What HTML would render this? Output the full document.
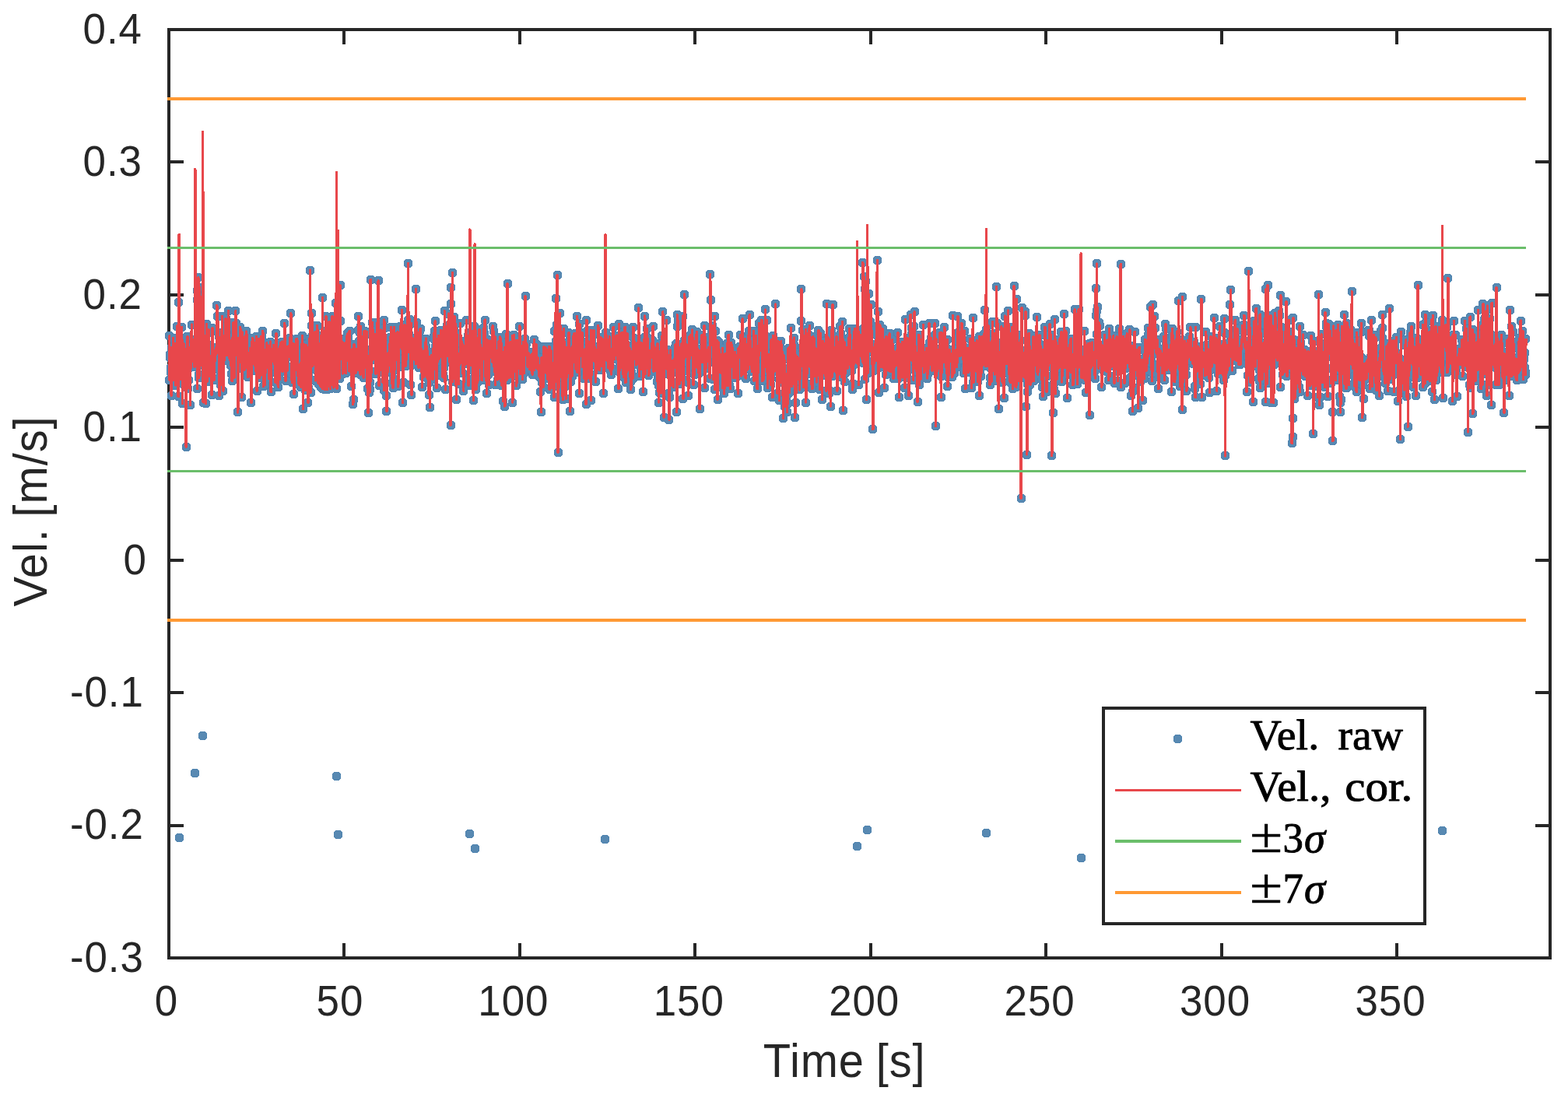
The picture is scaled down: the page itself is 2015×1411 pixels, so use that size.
<!DOCTYPE html>
<html lang="en"><head><meta charset="utf-8"><title>Velocity despiking</title>
<style>
html,body{margin:0;padding:0;background:#fff;}
body{width:2015px;height:1411px;overflow:hidden;}
svg{display:block;position:absolute;left:0;top:0;}
.t{font-family:"Liberation Sans",Arial,Helvetica,sans-serif;fill:#262626;}
.lg{font-family:"Liberation Serif","DejaVu Serif",serif;fill:#000;stroke:#000;stroke-width:0.9px;stroke-linejoin:round;}
</style></head>
<body>
<svg width="2015" height="1411" viewBox="0 0 2015 1411">
<rect x="0" y="0" width="2015" height="1411" fill="#fff"/>
<g fill="none" stroke="#262626" stroke-width="4" shape-rendering="crispEdges">
<rect x="217" y="38" width="1775" height="1193"/>
<path d="M217,1231v-19M217,38v19M442,1231v-19M442,38v19M668,1231v-19M668,38v19M893,1231v-19M893,38v19M1119,1231v-19M1119,38v19M1344,1231v-19M1344,38v19M1570,1231v-19M1570,38v19M1795,1231v-19M1795,38v19M217,1231h19M1992,1231h-19M217,1061h19M1992,1061h-19M217,890h19M1992,890h-19M217,720h19M1992,720h-19M217,549h19M1992,549h-19M217,379h19M1992,379h-19M217,208h19M1992,208h-19M217,38h19M1992,38h-19"/>
</g>
<g fill="none" shape-rendering="crispEdges">
<defs><path id="pd" d="M216,430h3v3h-3zM216,430h3v3h-3zM216,487h3v3h-3zM217,458h3v3h-3zM217,454h3v3h-3zM218,477h3v3h-3zM218,471h3v3h-3zM219,507h3v3h-3zM219,445h3v3h-3zM220,458h3v3h-3zM220,461h3v3h-3zM220,469h3v3h-3zM221,433h3v3h-3zM221,487h3v3h-3zM222,473h3v3h-3zM222,469h3v3h-3zM223,467h3v3h-3zM223,440h3v3h-3zM224,455h3v3h-3zM224,494h3v3h-3zM225,457h3v3h-3zM225,486h3v3h-3zM225,486h3v3h-3zM226,418h3v3h-3zM226,462h3v3h-3zM227,442h3v3h-3zM227,445h3v3h-3zM228,508h3v3h-3zM228,387h3v3h-3zM229,1075h3v3h-3zM229,473h3v3h-3zM229,451h3v3h-3zM230,486h3v3h-3zM230,460h3v3h-3zM231,461h3v3h-3zM231,443h3v3h-3zM232,434h3v3h-3zM232,419h3v3h-3zM233,477h3v3h-3zM233,517h3v3h-3zM234,487h3v3h-3zM234,492h3v3h-3zM234,442h3v3h-3zM235,440h3v3h-3zM235,445h3v3h-3zM236,466h3v3h-3zM236,464h3v3h-3zM237,475h3v3h-3zM237,470h3v3h-3zM238,573h3v3h-3zM238,466h3v3h-3zM238,458h3v3h-3zM239,470h3v3h-3zM239,431h3v3h-3zM240,498h3v3h-3zM240,456h3v3h-3zM241,487h3v3h-3zM241,472h3v3h-3zM242,452h3v3h-3zM242,451h3v3h-3zM243,445h3v3h-3zM243,519h3v3h-3zM243,448h3v3h-3zM244,457h3v3h-3zM244,455h3v3h-3zM245,416h3v3h-3zM245,447h3v3h-3zM246,443h3v3h-3zM246,460h3v3h-3zM247,435h3v3h-3zM247,438h3v3h-3zM248,464h3v3h-3zM248,465h3v3h-3zM248,470h3v3h-3zM249,462h3v3h-3zM249,992h3v3h-3zM250,455h3v3h-3zM250,436h3v3h-3zM251,436h3v3h-3zM251,449h3v3h-3zM252,384h3v3h-3zM252,498h3v3h-3zM252,372h3v3h-3zM253,459h3v3h-3zM253,355h3v3h-3zM254,480h3v3h-3zM254,484h3v3h-3zM255,454h3v3h-3zM255,368h3v3h-3zM256,440h3v3h-3zM256,380h3v3h-3zM257,459h3v3h-3zM257,434h3v3h-3zM257,459h3v3h-3zM258,468h3v3h-3zM258,453h3v3h-3zM259,442h3v3h-3zM259,944h3v3h-3zM260,516h3v3h-3zM260,448h3v3h-3zM261,430h3v3h-3zM261,461h3v3h-3zM261,463h3v3h-3zM262,482h3v3h-3zM262,432h3v3h-3zM263,517h3v3h-3zM263,473h3v3h-3zM264,485h3v3h-3zM264,415h3v3h-3zM265,468h3v3h-3zM265,489h3v3h-3zM266,455h3v3h-3zM266,426h3v3h-3zM266,422h3v3h-3zM267,442h3v3h-3zM267,482h3v3h-3zM268,461h3v3h-3zM268,466h3v3h-3zM269,466h3v3h-3zM269,466h3v3h-3zM270,456h3v3h-3zM270,479h3v3h-3zM271,506h3v3h-3zM271,451h3v3h-3zM271,420h3v3h-3zM272,458h3v3h-3zM272,470h3v3h-3zM273,473h3v3h-3zM273,460h3v3h-3zM274,487h3v3h-3zM274,468h3v3h-3zM275,449h3v3h-3zM275,462h3v3h-3zM275,451h3v3h-3zM276,452h3v3h-3zM276,445h3v3h-3zM277,446h3v3h-3zM277,391h3v3h-3zM278,405h3v3h-3zM278,405h3v3h-3zM279,426h3v3h-3zM279,446h3v3h-3zM280,431h3v3h-3zM280,484h3v3h-3zM280,507h3v3h-3zM281,475h3v3h-3zM281,443h3v3h-3zM282,479h3v3h-3zM282,493h3v3h-3zM283,463h3v3h-3zM283,433h3v3h-3zM284,428h3v3h-3zM284,405h3v3h-3zM284,442h3v3h-3zM285,454h3v3h-3zM285,501h3v3h-3zM286,452h3v3h-3zM286,456h3v3h-3zM287,462h3v3h-3zM287,432h3v3h-3zM288,456h3v3h-3zM288,423h3v3h-3zM289,408h3v3h-3zM289,418h3v3h-3zM289,436h3v3h-3zM290,424h3v3h-3zM290,418h3v3h-3zM291,455h3v3h-3zM291,431h3v3h-3zM292,435h3v3h-3zM292,398h3v3h-3zM293,419h3v3h-3zM293,432h3v3h-3zM293,459h3v3h-3zM294,440h3v3h-3zM294,452h3v3h-3zM295,468h3v3h-3zM295,437h3v3h-3zM296,457h3v3h-3zM296,479h3v3h-3zM297,488h3v3h-3zM297,433h3v3h-3zM298,439h3v3h-3zM298,434h3v3h-3zM298,413h3v3h-3zM299,480h3v3h-3zM299,484h3v3h-3zM300,416h3v3h-3zM300,427h3v3h-3zM301,415h3v3h-3zM301,398h3v3h-3zM302,414h3v3h-3zM302,454h3v3h-3zM303,455h3v3h-3zM303,437h3v3h-3zM303,438h3v3h-3zM304,433h3v3h-3zM304,528h3v3h-3zM305,463h3v3h-3zM305,472h3v3h-3zM306,444h3v3h-3zM306,455h3v3h-3zM307,440h3v3h-3zM307,419h3v3h-3zM307,422h3v3h-3zM308,442h3v3h-3zM308,425h3v3h-3zM309,431h3v3h-3zM309,509h3v3h-3zM310,425h3v3h-3zM310,432h3v3h-3zM311,432h3v3h-3zM311,443h3v3h-3zM312,453h3v3h-3zM312,459h3v3h-3zM312,474h3v3h-3zM313,452h3v3h-3zM313,453h3v3h-3zM314,441h3v3h-3zM314,430h3v3h-3zM315,471h3v3h-3zM315,424h3v3h-3zM316,433h3v3h-3zM316,450h3v3h-3zM316,457h3v3h-3zM317,460h3v3h-3zM317,483h3v3h-3zM318,467h3v3h-3zM318,463h3v3h-3zM319,452h3v3h-3zM319,455h3v3h-3zM320,457h3v3h-3zM320,446h3v3h-3zM321,448h3v3h-3zM321,457h3v3h-3zM321,516h3v3h-3zM322,438h3v3h-3zM322,459h3v3h-3zM323,444h3v3h-3zM323,433h3v3h-3zM324,456h3v3h-3zM324,442h3v3h-3zM325,458h3v3h-3zM325,466h3v3h-3zM326,461h3v3h-3zM326,468h3v3h-3zM326,442h3v3h-3zM327,471h3v3h-3zM327,475h3v3h-3zM328,431h3v3h-3zM328,439h3v3h-3zM329,501h3v3h-3zM329,451h3v3h-3zM330,439h3v3h-3zM330,457h3v3h-3zM330,464h3v3h-3zM331,434h3v3h-3zM331,477h3v3h-3zM332,484h3v3h-3zM332,467h3v3h-3zM333,450h3v3h-3zM333,478h3v3h-3zM334,481h3v3h-3zM334,465h3v3h-3zM335,431h3v3h-3zM335,443h3v3h-3zM335,459h3v3h-3zM336,460h3v3h-3zM336,424h3v3h-3zM337,470h3v3h-3zM337,495h3v3h-3zM338,476h3v3h-3zM338,468h3v3h-3zM339,484h3v3h-3zM339,493h3v3h-3zM339,469h3v3h-3zM340,477h3v3h-3zM340,447h3v3h-3zM341,460h3v3h-3zM341,439h3v3h-3zM342,471h3v3h-3zM342,448h3v3h-3zM343,447h3v3h-3zM343,443h3v3h-3zM344,457h3v3h-3zM344,485h3v3h-3zM344,460h3v3h-3zM345,448h3v3h-3zM345,459h3v3h-3zM346,438h3v3h-3zM346,469h3v3h-3zM347,502h3v3h-3zM347,461h3v3h-3zM348,463h3v3h-3zM348,451h3v3h-3zM349,447h3v3h-3zM349,463h3v3h-3zM349,458h3v3h-3zM350,448h3v3h-3zM350,442h3v3h-3zM351,453h3v3h-3zM351,453h3v3h-3zM352,467h3v3h-3zM352,463h3v3h-3zM353,490h3v3h-3zM353,469h3v3h-3zM353,427h3v3h-3zM354,449h3v3h-3zM354,478h3v3h-3zM355,492h3v3h-3zM355,466h3v3h-3zM356,457h3v3h-3zM356,496h3v3h-3zM357,448h3v3h-3zM357,447h3v3h-3zM358,458h3v3h-3zM358,486h3v3h-3zM358,448h3v3h-3zM359,439h3v3h-3zM359,452h3v3h-3zM360,462h3v3h-3zM360,465h3v3h-3zM361,452h3v3h-3zM361,438h3v3h-3zM362,476h3v3h-3zM362,443h3v3h-3zM362,451h3v3h-3zM363,452h3v3h-3zM363,451h3v3h-3zM364,453h3v3h-3zM364,414h3v3h-3zM365,461h3v3h-3zM365,471h3v3h-3zM366,488h3v3h-3zM366,474h3v3h-3zM367,457h3v3h-3zM367,469h3v3h-3zM367,475h3v3h-3zM368,457h3v3h-3zM368,444h3v3h-3zM369,447h3v3h-3zM369,444h3v3h-3zM370,457h3v3h-3zM370,455h3v3h-3zM371,445h3v3h-3zM371,433h3v3h-3zM371,437h3v3h-3zM372,448h3v3h-3zM372,401h3v3h-3zM373,478h3v3h-3zM373,479h3v3h-3zM374,489h3v3h-3zM374,490h3v3h-3zM375,470h3v3h-3zM375,470h3v3h-3zM376,440h3v3h-3zM376,449h3v3h-3zM376,505h3v3h-3zM377,471h3v3h-3zM377,466h3v3h-3zM378,459h3v3h-3zM378,474h3v3h-3zM379,452h3v3h-3zM379,446h3v3h-3zM380,434h3v3h-3zM380,439h3v3h-3zM381,456h3v3h-3zM381,436h3v3h-3zM381,481h3v3h-3zM382,469h3v3h-3zM382,490h3v3h-3zM383,493h3v3h-3zM383,491h3v3h-3zM384,470h3v3h-3zM384,478h3v3h-3zM385,467h3v3h-3zM385,465h3v3h-3zM385,496h3v3h-3zM386,490h3v3h-3zM386,477h3v3h-3zM387,430h3v3h-3zM387,455h3v3h-3zM388,451h3v3h-3zM388,524h3v3h-3zM389,448h3v3h-3zM389,454h3v3h-3zM390,441h3v3h-3zM390,481h3v3h-3zM390,472h3v3h-3zM391,500h3v3h-3zM391,490h3v3h-3zM392,475h3v3h-3zM392,442h3v3h-3zM393,450h3v3h-3zM393,463h3v3h-3zM394,465h3v3h-3zM394,462h3v3h-3zM394,516h3v3h-3zM395,497h3v3h-3zM395,477h3v3h-3zM396,485h3v3h-3zM396,434h3v3h-3zM397,452h3v3h-3zM397,346h3v3h-3zM398,503h3v3h-3zM398,450h3v3h-3zM399,451h3v3h-3zM399,417h3v3h-3zM399,401h3v3h-3zM400,469h3v3h-3zM400,430h3v3h-3zM401,441h3v3h-3zM401,438h3v3h-3zM402,446h3v3h-3zM402,430h3v3h-3zM403,445h3v3h-3zM403,467h3v3h-3zM404,425h3v3h-3zM404,488h3v3h-3zM404,487h3v3h-3zM405,474h3v3h-3zM405,459h3v3h-3zM406,417h3v3h-3zM406,418h3v3h-3zM407,432h3v3h-3zM407,448h3v3h-3zM408,492h3v3h-3zM408,443h3v3h-3zM408,440h3v3h-3zM409,440h3v3h-3zM409,447h3v3h-3zM410,459h3v3h-3zM410,440h3v3h-3zM411,496h3v3h-3zM411,430h3v3h-3zM412,435h3v3h-3zM412,430h3v3h-3zM413,449h3v3h-3zM413,381h3v3h-3zM413,498h3v3h-3zM414,463h3v3h-3zM414,458h3v3h-3zM415,443h3v3h-3zM415,439h3v3h-3zM416,499h3v3h-3zM416,424h3v3h-3zM417,435h3v3h-3zM417,455h3v3h-3zM417,405h3v3h-3zM418,438h3v3h-3zM418,442h3v3h-3zM419,448h3v3h-3zM419,499h3v3h-3zM420,452h3v3h-3zM420,438h3v3h-3zM421,420h3v3h-3zM421,483h3v3h-3zM422,412h3v3h-3zM422,414h3v3h-3zM422,419h3v3h-3zM423,498h3v3h-3zM423,445h3v3h-3zM424,417h3v3h-3zM424,413h3v3h-3zM425,492h3v3h-3zM425,421h3v3h-3zM426,405h3v3h-3zM426,416h3v3h-3zM427,443h3v3h-3zM427,435h3v3h-3zM427,496h3v3h-3zM428,438h3v3h-3zM428,431h3v3h-3zM429,459h3v3h-3zM429,423h3v3h-3zM430,388h3v3h-3zM430,443h3v3h-3zM431,442h3v3h-3zM431,996h3v3h-3zM431,498h3v3h-3zM432,457h3v3h-3zM432,452h3v3h-3zM433,1071h3v3h-3zM433,454h3v3h-3zM434,458h3v3h-3zM434,452h3v3h-3zM435,485h3v3h-3zM435,435h3v3h-3zM436,365h3v3h-3zM436,411h3v3h-3zM436,434h3v3h-3zM437,444h3v3h-3zM437,458h3v3h-3zM438,445h3v3h-3zM438,460h3v3h-3zM439,438h3v3h-3zM439,479h3v3h-3zM440,469h3v3h-3zM440,446h3v3h-3zM440,451h3v3h-3zM441,441h3v3h-3zM441,445h3v3h-3zM442,440h3v3h-3zM442,447h3v3h-3zM443,478h3v3h-3zM443,462h3v3h-3zM444,450h3v3h-3zM444,455h3v3h-3zM445,430h3v3h-3zM445,444h3v3h-3zM445,427h3v3h-3zM446,433h3v3h-3zM446,449h3v3h-3zM447,466h3v3h-3zM447,475h3v3h-3zM448,424h3v3h-3zM448,468h3v3h-3zM449,476h3v3h-3zM449,471h3v3h-3zM449,460h3v3h-3zM450,452h3v3h-3zM450,495h3v3h-3zM451,476h3v3h-3zM451,454h3v3h-3zM452,447h3v3h-3zM452,518h3v3h-3zM453,512h3v3h-3zM453,477h3v3h-3zM454,441h3v3h-3zM454,473h3v3h-3zM454,453h3v3h-3zM455,460h3v3h-3zM455,478h3v3h-3zM456,477h3v3h-3zM456,463h3v3h-3zM457,452h3v3h-3zM457,447h3v3h-3zM458,473h3v3h-3zM458,465h3v3h-3zM459,474h3v3h-3zM459,423h3v3h-3zM459,405h3v3h-3zM460,439h3v3h-3zM460,437h3v3h-3zM461,426h3v3h-3zM461,445h3v3h-3zM462,480h3v3h-3zM462,418h3v3h-3zM463,446h3v3h-3zM463,453h3v3h-3zM463,449h3v3h-3zM464,455h3v3h-3zM464,431h3v3h-3zM465,466h3v3h-3zM465,466h3v3h-3zM466,484h3v3h-3zM466,442h3v3h-3zM467,424h3v3h-3zM467,450h3v3h-3zM468,471h3v3h-3zM468,459h3v3h-3zM468,460h3v3h-3zM469,457h3v3h-3zM469,425h3v3h-3zM470,425h3v3h-3zM470,459h3v3h-3zM471,498h3v3h-3zM471,498h3v3h-3zM472,529h3v3h-3zM472,478h3v3h-3zM472,456h3v3h-3zM473,475h3v3h-3zM473,503h3v3h-3zM474,490h3v3h-3zM474,499h3v3h-3zM475,358h3v3h-3zM475,479h3v3h-3zM476,476h3v3h-3zM476,452h3v3h-3zM477,430h3v3h-3zM477,413h3v3h-3zM477,446h3v3h-3zM478,423h3v3h-3zM478,461h3v3h-3zM479,453h3v3h-3zM479,449h3v3h-3zM480,428h3v3h-3zM480,451h3v3h-3zM481,435h3v3h-3zM481,477h3v3h-3zM482,479h3v3h-3zM482,432h3v3h-3zM482,455h3v3h-3zM483,414h3v3h-3zM483,453h3v3h-3zM484,413h3v3h-3zM484,416h3v3h-3zM485,359h3v3h-3zM485,468h3v3h-3zM486,494h3v3h-3zM486,425h3v3h-3zM486,457h3v3h-3zM487,440h3v3h-3zM487,449h3v3h-3zM488,451h3v3h-3zM488,423h3v3h-3zM489,424h3v3h-3zM489,441h3v3h-3zM490,475h3v3h-3zM490,460h3v3h-3zM491,490h3v3h-3zM491,477h3v3h-3zM491,476h3v3h-3zM492,500h3v3h-3zM492,410h3v3h-3zM493,442h3v3h-3zM493,420h3v3h-3zM494,450h3v3h-3zM494,441h3v3h-3zM495,465h3v3h-3zM495,507h3v3h-3zM495,527h3v3h-3zM496,477h3v3h-3zM496,477h3v3h-3zM497,471h3v3h-3zM497,454h3v3h-3zM498,469h3v3h-3zM498,466h3v3h-3zM499,451h3v3h-3zM499,466h3v3h-3zM500,446h3v3h-3zM500,432h3v3h-3zM500,460h3v3h-3zM501,436h3v3h-3zM501,419h3v3h-3zM502,491h3v3h-3zM502,470h3v3h-3zM503,450h3v3h-3zM503,448h3v3h-3zM504,497h3v3h-3zM504,457h3v3h-3zM504,485h3v3h-3zM505,419h3v3h-3zM505,467h3v3h-3zM506,474h3v3h-3zM506,435h3v3h-3zM507,432h3v3h-3zM507,434h3v3h-3zM508,449h3v3h-3zM508,427h3v3h-3zM509,436h3v3h-3zM509,457h3v3h-3zM509,425h3v3h-3zM510,495h3v3h-3zM510,492h3v3h-3zM511,470h3v3h-3zM511,439h3v3h-3zM512,439h3v3h-3zM512,439h3v3h-3zM513,429h3v3h-3zM513,418h3v3h-3zM514,435h3v3h-3zM514,445h3v3h-3zM514,426h3v3h-3zM515,397h3v3h-3zM515,444h3v3h-3zM516,449h3v3h-3zM516,516h3v3h-3zM517,490h3v3h-3zM517,460h3v3h-3zM518,469h3v3h-3zM518,447h3v3h-3zM518,416h3v3h-3zM519,452h3v3h-3zM519,460h3v3h-3zM520,469h3v3h-3zM520,452h3v3h-3zM521,460h3v3h-3zM521,459h3v3h-3zM522,416h3v3h-3zM522,430h3v3h-3zM523,410h3v3h-3zM523,337h3v3h-3zM523,417h3v3h-3zM524,428h3v3h-3zM524,451h3v3h-3zM525,409h3v3h-3zM525,416h3v3h-3zM526,441h3v3h-3zM526,493h3v3h-3zM527,414h3v3h-3zM527,468h3v3h-3zM527,506h3v3h-3zM528,446h3v3h-3zM528,433h3v3h-3zM529,448h3v3h-3zM529,434h3v3h-3zM530,434h3v3h-3zM530,441h3v3h-3zM531,458h3v3h-3zM531,459h3v3h-3zM532,461h3v3h-3zM532,453h3v3h-3zM532,445h3v3h-3zM533,370h3v3h-3zM533,466h3v3h-3zM534,413h3v3h-3zM534,443h3v3h-3zM535,438h3v3h-3zM535,445h3v3h-3zM536,431h3v3h-3zM536,459h3v3h-3zM537,471h3v3h-3zM537,433h3v3h-3zM537,428h3v3h-3zM538,422h3v3h-3zM538,424h3v3h-3zM539,421h3v3h-3zM539,441h3v3h-3zM540,459h3v3h-3zM540,447h3v3h-3zM541,470h3v3h-3zM541,496h3v3h-3zM541,471h3v3h-3zM542,461h3v3h-3zM542,463h3v3h-3zM543,449h3v3h-3zM543,483h3v3h-3zM544,480h3v3h-3zM544,474h3v3h-3zM545,464h3v3h-3zM545,439h3v3h-3zM546,444h3v3h-3zM546,434h3v3h-3zM546,445h3v3h-3zM547,483h3v3h-3zM547,463h3v3h-3zM548,485h3v3h-3zM548,450h3v3h-3zM549,472h3v3h-3zM549,461h3v3h-3zM550,506h3v3h-3zM550,460h3v3h-3zM550,490h3v3h-3zM551,522h3v3h-3zM551,475h3v3h-3zM552,460h3v3h-3zM552,475h3v3h-3zM553,455h3v3h-3zM553,459h3v3h-3zM554,470h3v3h-3zM554,479h3v3h-3zM555,486h3v3h-3zM555,462h3v3h-3zM555,474h3v3h-3zM556,431h3v3h-3zM556,434h3v3h-3zM557,424h3v3h-3zM557,457h3v3h-3zM558,411h3v3h-3zM558,444h3v3h-3zM559,449h3v3h-3zM559,457h3v3h-3zM560,497h3v3h-3zM560,481h3v3h-3zM560,461h3v3h-3zM561,463h3v3h-3zM561,445h3v3h-3zM562,430h3v3h-3zM562,433h3v3h-3zM563,445h3v3h-3zM563,460h3v3h-3zM564,449h3v3h-3zM564,447h3v3h-3zM564,429h3v3h-3zM565,439h3v3h-3zM565,423h3v3h-3zM566,456h3v3h-3zM566,458h3v3h-3zM567,450h3v3h-3zM567,472h3v3h-3zM568,483h3v3h-3zM568,480h3v3h-3zM569,484h3v3h-3zM569,471h3v3h-3zM569,451h3v3h-3zM570,398h3v3h-3zM570,449h3v3h-3zM571,499h3v3h-3zM571,444h3v3h-3zM572,442h3v3h-3zM572,451h3v3h-3zM573,432h3v3h-3zM573,456h3v3h-3zM573,417h3v3h-3zM574,442h3v3h-3zM574,446h3v3h-3zM575,402h3v3h-3zM575,457h3v3h-3zM576,426h3v3h-3zM576,445h3v3h-3zM577,464h3v3h-3zM577,455h3v3h-3zM578,545h3v3h-3zM578,368h3v3h-3zM578,389h3v3h-3zM579,430h3v3h-3zM579,438h3v3h-3zM580,349h3v3h-3zM580,489h3v3h-3zM581,478h3v3h-3zM581,462h3v3h-3zM582,464h3v3h-3zM582,457h3v3h-3zM582,406h3v3h-3zM583,425h3v3h-3zM583,461h3v3h-3zM584,433h3v3h-3zM584,415h3v3h-3zM585,512h3v3h-3zM585,431h3v3h-3zM586,429h3v3h-3zM586,476h3v3h-3zM587,462h3v3h-3zM587,469h3v3h-3zM587,453h3v3h-3zM588,492h3v3h-3zM588,463h3v3h-3zM589,454h3v3h-3zM589,467h3v3h-3zM590,452h3v3h-3zM590,414h3v3h-3zM591,465h3v3h-3zM591,437h3v3h-3zM592,438h3v3h-3zM592,449h3v3h-3zM592,440h3v3h-3zM593,478h3v3h-3zM593,460h3v3h-3zM594,442h3v3h-3zM594,501h3v3h-3zM595,458h3v3h-3zM595,465h3v3h-3zM596,459h3v3h-3zM596,462h3v3h-3zM596,464h3v3h-3zM597,445h3v3h-3zM597,466h3v3h-3zM598,410h3v3h-3zM598,443h3v3h-3zM599,461h3v3h-3zM599,458h3v3h-3zM600,441h3v3h-3zM600,430h3v3h-3zM601,494h3v3h-3zM601,486h3v3h-3zM601,460h3v3h-3zM602,458h3v3h-3zM602,1070h3v3h-3zM603,468h3v3h-3zM603,433h3v3h-3zM604,460h3v3h-3zM604,450h3v3h-3zM605,460h3v3h-3zM605,460h3v3h-3zM605,424h3v3h-3zM606,433h3v3h-3zM606,474h3v3h-3zM607,513h3v3h-3zM607,475h3v3h-3zM608,464h3v3h-3zM608,418h3v3h-3zM609,1089h3v3h-3zM609,447h3v3h-3zM610,423h3v3h-3zM610,435h3v3h-3zM610,499h3v3h-3zM611,444h3v3h-3zM611,433h3v3h-3zM612,476h3v3h-3zM612,490h3v3h-3zM613,464h3v3h-3zM613,476h3v3h-3zM614,449h3v3h-3zM614,460h3v3h-3zM615,422h3v3h-3zM615,437h3v3h-3zM615,441h3v3h-3zM616,471h3v3h-3zM616,460h3v3h-3zM617,463h3v3h-3zM617,459h3v3h-3zM618,487h3v3h-3zM618,462h3v3h-3zM619,446h3v3h-3zM619,457h3v3h-3zM619,460h3v3h-3zM620,434h3v3h-3zM620,420h3v3h-3zM621,446h3v3h-3zM621,427h3v3h-3zM622,410h3v3h-3zM622,457h3v3h-3zM623,484h3v3h-3zM623,474h3v3h-3zM624,478h3v3h-3zM624,504h3v3h-3zM624,456h3v3h-3zM625,435h3v3h-3zM625,459h3v3h-3zM626,480h3v3h-3zM626,477h3v3h-3zM627,493h3v3h-3zM627,463h3v3h-3zM628,445h3v3h-3zM628,436h3v3h-3zM628,458h3v3h-3zM629,456h3v3h-3zM629,445h3v3h-3zM630,445h3v3h-3zM630,446h3v3h-3zM631,450h3v3h-3zM631,464h3v3h-3zM632,418h3v3h-3zM632,439h3v3h-3zM633,424h3v3h-3zM633,469h3v3h-3zM633,459h3v3h-3zM634,476h3v3h-3zM634,449h3v3h-3zM635,431h3v3h-3zM635,493h3v3h-3zM636,457h3v3h-3zM636,449h3v3h-3zM637,474h3v3h-3zM637,457h3v3h-3zM638,475h3v3h-3zM638,476h3v3h-3zM638,487h3v3h-3zM639,471h3v3h-3zM639,438h3v3h-3zM640,437h3v3h-3zM640,452h3v3h-3zM641,444h3v3h-3zM641,432h3v3h-3zM642,433h3v3h-3zM642,488h3v3h-3zM642,439h3v3h-3zM643,472h3v3h-3zM643,494h3v3h-3zM644,478h3v3h-3zM644,484h3v3h-3zM645,452h3v3h-3zM645,514h3v3h-3zM646,462h3v3h-3zM646,485h3v3h-3zM647,471h3v3h-3zM647,445h3v3h-3zM647,521h3v3h-3zM648,455h3v3h-3zM648,459h3v3h-3zM649,463h3v3h-3zM649,428h3v3h-3zM650,461h3v3h-3zM650,487h3v3h-3zM651,363h3v3h-3zM651,466h3v3h-3zM651,438h3v3h-3zM652,454h3v3h-3zM652,484h3v3h-3zM653,461h3v3h-3zM653,447h3v3h-3zM654,451h3v3h-3zM654,438h3v3h-3zM655,455h3v3h-3zM655,461h3v3h-3zM656,483h3v3h-3zM656,452h3v3h-3zM656,455h3v3h-3zM657,430h3v3h-3zM657,516h3v3h-3zM658,469h3v3h-3zM658,473h3v3h-3zM659,471h3v3h-3zM659,429h3v3h-3zM660,441h3v3h-3zM660,476h3v3h-3zM660,475h3v3h-3zM661,474h3v3h-3zM661,443h3v3h-3zM662,467h3v3h-3zM662,494h3v3h-3zM663,436h3v3h-3zM663,464h3v3h-3zM664,472h3v3h-3zM664,451h3v3h-3zM665,448h3v3h-3zM665,450h3v3h-3zM665,462h3v3h-3zM666,466h3v3h-3zM666,418h3v3h-3zM667,460h3v3h-3zM667,479h3v3h-3zM668,472h3v3h-3zM668,463h3v3h-3zM669,465h3v3h-3zM669,470h3v3h-3zM670,452h3v3h-3zM670,486h3v3h-3zM670,448h3v3h-3zM671,438h3v3h-3zM671,458h3v3h-3zM672,478h3v3h-3zM672,444h3v3h-3zM673,443h3v3h-3zM673,434h3v3h-3zM674,379h3v3h-3zM674,443h3v3h-3zM674,440h3v3h-3zM675,455h3v3h-3zM675,440h3v3h-3zM676,450h3v3h-3zM676,450h3v3h-3zM677,470h3v3h-3zM677,467h3v3h-3zM678,452h3v3h-3zM678,464h3v3h-3zM679,463h3v3h-3zM679,473h3v3h-3zM679,456h3v3h-3zM680,460h3v3h-3zM680,457h3v3h-3zM681,455h3v3h-3zM681,474h3v3h-3zM682,467h3v3h-3zM682,472h3v3h-3zM683,480h3v3h-3zM683,465h3v3h-3zM683,454h3v3h-3zM684,451h3v3h-3zM684,456h3v3h-3zM685,435h3v3h-3zM685,474h3v3h-3zM686,455h3v3h-3zM686,462h3v3h-3zM687,471h3v3h-3zM687,450h3v3h-3zM688,441h3v3h-3zM688,458h3v3h-3zM688,460h3v3h-3zM689,472h3v3h-3zM689,458h3v3h-3zM690,461h3v3h-3zM690,473h3v3h-3zM691,468h3v3h-3zM691,474h3v3h-3zM692,483h3v3h-3zM692,478h3v3h-3zM693,477h3v3h-3zM693,482h3v3h-3zM693,502h3v3h-3zM694,528h3v3h-3zM694,458h3v3h-3zM695,459h3v3h-3zM695,490h3v3h-3zM696,478h3v3h-3zM696,478h3v3h-3zM697,496h3v3h-3zM697,448h3v3h-3zM697,444h3v3h-3zM698,478h3v3h-3zM698,467h3v3h-3zM699,472h3v3h-3zM699,477h3v3h-3zM700,445h3v3h-3zM700,450h3v3h-3zM701,462h3v3h-3zM701,455h3v3h-3zM702,475h3v3h-3zM702,485h3v3h-3zM702,458h3v3h-3zM703,448h3v3h-3zM703,462h3v3h-3zM704,444h3v3h-3zM704,452h3v3h-3zM705,499h3v3h-3zM705,445h3v3h-3zM706,450h3v3h-3zM706,459h3v3h-3zM706,455h3v3h-3zM707,450h3v3h-3zM707,481h3v3h-3zM708,497h3v3h-3zM708,495h3v3h-3zM709,484h3v3h-3zM709,478h3v3h-3zM710,493h3v3h-3zM710,465h3v3h-3zM711,509h3v3h-3zM711,424h3v3h-3zM711,474h3v3h-3zM712,476h3v3h-3zM712,489h3v3h-3zM713,382h3v3h-3zM713,437h3v3h-3zM714,416h3v3h-3zM714,478h3v3h-3zM715,352h3v3h-3zM715,454h3v3h-3zM716,580h3v3h-3zM716,480h3v3h-3zM716,495h3v3h-3zM717,496h3v3h-3zM717,480h3v3h-3zM718,445h3v3h-3zM718,401h3v3h-3zM719,468h3v3h-3zM719,464h3v3h-3zM720,479h3v3h-3zM720,483h3v3h-3zM720,426h3v3h-3zM721,499h3v3h-3zM721,494h3v3h-3zM722,512h3v3h-3zM722,508h3v3h-3zM723,494h3v3h-3zM723,421h3v3h-3zM724,477h3v3h-3zM724,476h3v3h-3zM725,478h3v3h-3zM725,450h3v3h-3zM725,495h3v3h-3zM726,511h3v3h-3zM726,486h3v3h-3zM727,445h3v3h-3zM727,465h3v3h-3zM728,479h3v3h-3zM728,459h3v3h-3zM729,475h3v3h-3zM729,438h3v3h-3zM729,426h3v3h-3zM730,428h3v3h-3zM730,449h3v3h-3zM731,477h3v3h-3zM731,527h3v3h-3zM732,477h3v3h-3zM732,489h3v3h-3zM733,459h3v3h-3zM733,465h3v3h-3zM734,482h3v3h-3zM734,477h3v3h-3zM734,452h3v3h-3zM735,438h3v3h-3zM735,439h3v3h-3zM736,428h3v3h-3zM736,449h3v3h-3zM737,430h3v3h-3zM737,431h3v3h-3zM738,466h3v3h-3zM738,427h3v3h-3zM738,473h3v3h-3zM739,445h3v3h-3zM739,446h3v3h-3zM740,442h3v3h-3zM740,405h3v3h-3zM741,477h3v3h-3zM741,469h3v3h-3zM742,433h3v3h-3zM742,438h3v3h-3zM743,455h3v3h-3zM743,504h3v3h-3zM743,415h3v3h-3zM744,429h3v3h-3zM744,433h3v3h-3zM745,446h3v3h-3zM745,441h3v3h-3zM746,447h3v3h-3zM746,456h3v3h-3zM747,426h3v3h-3zM747,470h3v3h-3zM748,450h3v3h-3zM748,462h3v3h-3zM748,457h3v3h-3zM749,461h3v3h-3zM749,485h3v3h-3zM750,453h3v3h-3zM750,471h3v3h-3zM751,447h3v3h-3zM751,478h3v3h-3zM752,518h3v3h-3zM752,451h3v3h-3zM752,410h3v3h-3zM753,424h3v3h-3zM753,485h3v3h-3zM754,471h3v3h-3zM754,437h3v3h-3zM755,465h3v3h-3zM755,438h3v3h-3zM756,449h3v3h-3zM756,449h3v3h-3zM757,462h3v3h-3zM757,459h3v3h-3zM757,446h3v3h-3zM758,513h3v3h-3zM758,423h3v3h-3zM759,480h3v3h-3zM759,436h3v3h-3zM760,430h3v3h-3zM760,442h3v3h-3zM761,426h3v3h-3zM761,447h3v3h-3zM761,423h3v3h-3zM762,453h3v3h-3zM762,463h3v3h-3zM763,453h3v3h-3zM763,445h3v3h-3zM764,464h3v3h-3zM764,489h3v3h-3zM765,456h3v3h-3zM765,456h3v3h-3zM766,470h3v3h-3zM766,470h3v3h-3zM766,453h3v3h-3zM767,472h3v3h-3zM767,417h3v3h-3zM768,463h3v3h-3zM768,472h3v3h-3zM769,474h3v3h-3zM769,448h3v3h-3zM770,452h3v3h-3zM770,461h3v3h-3zM771,432h3v3h-3zM771,469h3v3h-3zM771,454h3v3h-3zM772,433h3v3h-3zM772,445h3v3h-3zM773,440h3v3h-3zM773,435h3v3h-3zM774,463h3v3h-3zM774,504h3v3h-3zM775,467h3v3h-3zM775,461h3v3h-3zM775,452h3v3h-3zM776,432h3v3h-3zM776,1077h3v3h-3zM777,447h3v3h-3zM777,426h3v3h-3zM778,462h3v3h-3zM778,457h3v3h-3zM779,457h3v3h-3zM779,449h3v3h-3zM780,457h3v3h-3zM780,471h3v3h-3zM780,460h3v3h-3zM781,435h3v3h-3zM781,445h3v3h-3zM782,431h3v3h-3zM782,448h3v3h-3zM783,475h3v3h-3zM783,470h3v3h-3zM784,459h3v3h-3zM784,480h3v3h-3zM784,471h3v3h-3zM785,447h3v3h-3zM785,472h3v3h-3zM786,445h3v3h-3zM786,439h3v3h-3zM787,419h3v3h-3zM787,450h3v3h-3zM788,460h3v3h-3zM788,454h3v3h-3zM789,439h3v3h-3zM789,444h3v3h-3zM789,431h3v3h-3zM790,453h3v3h-3zM790,444h3v3h-3zM791,430h3v3h-3zM791,455h3v3h-3zM792,456h3v3h-3zM792,460h3v3h-3zM793,439h3v3h-3zM793,461h3v3h-3zM793,498h3v3h-3zM794,415h3v3h-3zM794,476h3v3h-3zM795,467h3v3h-3zM795,473h3v3h-3zM796,448h3v3h-3zM796,447h3v3h-3zM797,460h3v3h-3zM797,443h3v3h-3zM798,426h3v3h-3zM798,442h3v3h-3zM798,434h3v3h-3zM799,446h3v3h-3zM799,469h3v3h-3zM800,483h3v3h-3zM800,480h3v3h-3zM801,460h3v3h-3zM801,460h3v3h-3zM802,419h3v3h-3zM802,474h3v3h-3zM803,490h3v3h-3zM803,480h3v3h-3zM803,471h3v3h-3zM804,476h3v3h-3zM804,442h3v3h-3zM805,427h3v3h-3zM805,430h3v3h-3zM806,463h3v3h-3zM806,461h3v3h-3zM807,459h3v3h-3zM807,474h3v3h-3zM807,446h3v3h-3zM808,451h3v3h-3zM808,462h3v3h-3zM809,489h3v3h-3zM809,499h3v3h-3zM810,477h3v3h-3zM810,450h3v3h-3zM811,465h3v3h-3zM811,461h3v3h-3zM812,485h3v3h-3zM812,464h3v3h-3zM812,419h3v3h-3zM813,433h3v3h-3zM813,454h3v3h-3zM814,438h3v3h-3zM814,444h3v3h-3zM815,460h3v3h-3zM815,455h3v3h-3zM816,445h3v3h-3zM816,467h3v3h-3zM816,459h3v3h-3zM817,448h3v3h-3zM817,439h3v3h-3zM818,452h3v3h-3zM818,465h3v3h-3zM819,463h3v3h-3zM819,394h3v3h-3zM820,460h3v3h-3zM820,482h3v3h-3zM821,451h3v3h-3zM821,439h3v3h-3zM821,453h3v3h-3zM822,454h3v3h-3zM822,473h3v3h-3zM823,440h3v3h-3zM823,450h3v3h-3zM824,472h3v3h-3zM824,455h3v3h-3zM825,450h3v3h-3zM825,502h3v3h-3zM826,470h3v3h-3zM826,470h3v3h-3zM826,437h3v3h-3zM827,432h3v3h-3zM827,405h3v3h-3zM828,479h3v3h-3zM828,468h3v3h-3zM829,469h3v3h-3zM829,431h3v3h-3zM830,432h3v3h-3zM830,421h3v3h-3zM830,439h3v3h-3zM831,472h3v3h-3zM831,448h3v3h-3zM832,458h3v3h-3zM832,481h3v3h-3zM833,465h3v3h-3zM833,470h3v3h-3zM834,472h3v3h-3zM834,468h3v3h-3zM835,449h3v3h-3zM835,455h3v3h-3zM835,455h3v3h-3zM836,458h3v3h-3zM836,440h3v3h-3zM837,449h3v3h-3zM837,436h3v3h-3zM838,418h3v3h-3zM838,457h3v3h-3zM839,476h3v3h-3zM839,444h3v3h-3zM839,471h3v3h-3zM840,446h3v3h-3zM840,448h3v3h-3zM841,463h3v3h-3zM841,475h3v3h-3zM842,451h3v3h-3zM842,468h3v3h-3zM843,463h3v3h-3zM843,489h3v3h-3zM844,440h3v3h-3zM844,479h3v3h-3zM844,482h3v3h-3zM845,516h3v3h-3zM845,494h3v3h-3zM846,503h3v3h-3zM846,451h3v3h-3zM847,463h3v3h-3zM847,461h3v3h-3zM848,493h3v3h-3zM848,504h3v3h-3zM849,441h3v3h-3zM849,430h3v3h-3zM849,451h3v3h-3zM850,451h3v3h-3zM850,399h3v3h-3zM851,448h3v3h-3zM851,448h3v3h-3zM852,535h3v3h-3zM852,479h3v3h-3zM853,466h3v3h-3zM853,458h3v3h-3zM853,452h3v3h-3zM854,459h3v3h-3zM854,453h3v3h-3zM855,410h3v3h-3zM855,462h3v3h-3zM856,448h3v3h-3zM856,462h3v3h-3zM857,474h3v3h-3zM857,469h3v3h-3zM858,473h3v3h-3zM858,504h3v3h-3zM858,538h3v3h-3zM859,509h3v3h-3zM859,476h3v3h-3zM860,449h3v3h-3zM860,463h3v3h-3zM861,474h3v3h-3zM861,479h3v3h-3zM862,494h3v3h-3zM862,489h3v3h-3zM862,462h3v3h-3zM863,470h3v3h-3zM863,472h3v3h-3zM864,496h3v3h-3zM864,463h3v3h-3zM865,461h3v3h-3zM865,471h3v3h-3zM866,463h3v3h-3zM866,445h3v3h-3zM867,441h3v3h-3zM867,454h3v3h-3zM867,457h3v3h-3zM868,440h3v3h-3zM868,528h3v3h-3zM869,403h3v3h-3zM869,418h3v3h-3zM870,410h3v3h-3zM870,447h3v3h-3zM871,455h3v3h-3zM871,491h3v3h-3zM871,492h3v3h-3zM872,473h3v3h-3zM872,483h3v3h-3zM873,488h3v3h-3zM873,459h3v3h-3zM874,441h3v3h-3zM874,442h3v3h-3zM875,465h3v3h-3zM875,448h3v3h-3zM876,486h3v3h-3zM876,405h3v3h-3zM876,511h3v3h-3zM877,464h3v3h-3zM877,460h3v3h-3zM878,436h3v3h-3zM878,377h3v3h-3zM879,448h3v3h-3zM879,447h3v3h-3zM880,453h3v3h-3zM880,452h3v3h-3zM881,441h3v3h-3zM881,457h3v3h-3zM881,445h3v3h-3zM882,451h3v3h-3zM882,475h3v3h-3zM883,490h3v3h-3zM883,507h3v3h-3zM884,469h3v3h-3zM884,462h3v3h-3zM885,431h3v3h-3zM885,460h3v3h-3zM885,439h3v3h-3zM886,429h3v3h-3zM886,453h3v3h-3zM887,434h3v3h-3zM887,435h3v3h-3zM888,455h3v3h-3zM888,422h3v3h-3zM889,455h3v3h-3zM889,452h3v3h-3zM890,493h3v3h-3zM890,459h3v3h-3zM890,455h3v3h-3zM891,480h3v3h-3zM891,456h3v3h-3zM892,445h3v3h-3zM892,437h3v3h-3zM893,453h3v3h-3zM893,429h3v3h-3zM894,432h3v3h-3zM894,425h3v3h-3zM894,471h3v3h-3zM895,471h3v3h-3zM895,447h3v3h-3zM896,469h3v3h-3zM896,468h3v3h-3zM897,478h3v3h-3zM897,453h3v3h-3zM898,524h3v3h-3zM898,475h3v3h-3zM899,449h3v3h-3zM899,456h3v3h-3zM899,463h3v3h-3zM900,464h3v3h-3zM900,429h3v3h-3zM901,448h3v3h-3zM901,447h3v3h-3zM902,464h3v3h-3zM902,462h3v3h-3zM903,451h3v3h-3zM903,440h3v3h-3zM904,417h3v3h-3zM904,451h3v3h-3zM904,497h3v3h-3zM905,432h3v3h-3zM905,467h3v3h-3zM906,472h3v3h-3zM906,462h3v3h-3zM907,460h3v3h-3zM907,463h3v3h-3zM908,460h3v3h-3zM908,452h3v3h-3zM908,449h3v3h-3zM909,445h3v3h-3zM909,448h3v3h-3zM910,447h3v3h-3zM910,453h3v3h-3zM911,485h3v3h-3zM911,351h3v3h-3zM912,384h3v3h-3zM912,434h3v3h-3zM913,439h3v3h-3zM913,422h3v3h-3zM913,427h3v3h-3zM914,417h3v3h-3zM914,442h3v3h-3zM915,438h3v3h-3zM915,486h3v3h-3zM916,454h3v3h-3zM916,447h3v3h-3zM917,441h3v3h-3zM917,405h3v3h-3zM917,499h3v3h-3zM918,424h3v3h-3zM918,466h3v3h-3zM919,454h3v3h-3zM919,442h3v3h-3zM920,454h3v3h-3zM920,436h3v3h-3zM921,512h3v3h-3zM921,482h3v3h-3zM922,438h3v3h-3zM922,444h3v3h-3zM922,447h3v3h-3zM923,451h3v3h-3zM923,477h3v3h-3zM924,461h3v3h-3zM924,454h3v3h-3zM925,464h3v3h-3zM925,478h3v3h-3zM926,457h3v3h-3zM926,461h3v3h-3zM927,461h3v3h-3zM927,446h3v3h-3zM927,497h3v3h-3zM928,490h3v3h-3zM928,463h3v3h-3zM929,466h3v3h-3zM929,504h3v3h-3zM930,478h3v3h-3zM930,453h3v3h-3zM931,478h3v3h-3zM931,457h3v3h-3zM931,474h3v3h-3zM932,474h3v3h-3zM932,461h3v3h-3zM933,494h3v3h-3zM933,440h3v3h-3zM934,441h3v3h-3zM934,456h3v3h-3zM935,429h3v3h-3zM935,464h3v3h-3zM936,494h3v3h-3zM936,479h3v3h-3zM936,470h3v3h-3zM937,498h3v3h-3zM937,439h3v3h-3zM938,439h3v3h-3zM938,439h3v3h-3zM939,446h3v3h-3zM939,465h3v3h-3zM940,449h3v3h-3zM940,446h3v3h-3zM940,455h3v3h-3zM941,484h3v3h-3zM941,480h3v3h-3zM942,475h3v3h-3zM942,463h3v3h-3zM943,451h3v3h-3zM943,460h3v3h-3zM944,484h3v3h-3zM944,483h3v3h-3zM945,458h3v3h-3zM945,455h3v3h-3zM945,465h3v3h-3zM946,468h3v3h-3zM946,482h3v3h-3zM947,504h3v3h-3zM947,448h3v3h-3zM948,446h3v3h-3zM948,449h3v3h-3zM949,446h3v3h-3zM949,444h3v3h-3zM949,445h3v3h-3zM950,458h3v3h-3zM950,429h3v3h-3zM951,463h3v3h-3zM951,481h3v3h-3zM952,472h3v3h-3zM952,466h3v3h-3zM953,408h3v3h-3zM953,480h3v3h-3zM954,462h3v3h-3zM954,470h3v3h-3zM954,441h3v3h-3zM955,456h3v3h-3zM955,441h3v3h-3zM956,434h3v3h-3zM956,471h3v3h-3zM957,485h3v3h-3zM957,471h3v3h-3zM958,460h3v3h-3zM958,459h3v3h-3zM959,441h3v3h-3zM959,463h3v3h-3zM959,473h3v3h-3zM960,463h3v3h-3zM960,454h3v3h-3zM961,424h3v3h-3zM961,425h3v3h-3zM962,403h3v3h-3zM962,436h3v3h-3zM963,437h3v3h-3zM963,450h3v3h-3zM963,468h3v3h-3zM964,447h3v3h-3zM964,473h3v3h-3zM965,459h3v3h-3zM965,476h3v3h-3zM966,458h3v3h-3zM966,450h3v3h-3zM967,476h3v3h-3zM967,424h3v3h-3zM968,488h3v3h-3zM968,439h3v3h-3zM968,444h3v3h-3zM969,462h3v3h-3zM969,438h3v3h-3zM970,430h3v3h-3zM970,478h3v3h-3zM971,477h3v3h-3zM971,480h3v3h-3zM972,498h3v3h-3zM972,452h3v3h-3zM972,478h3v3h-3zM973,442h3v3h-3zM973,456h3v3h-3zM974,447h3v3h-3zM974,414h3v3h-3zM975,424h3v3h-3zM975,437h3v3h-3zM976,449h3v3h-3zM976,429h3v3h-3zM977,445h3v3h-3zM977,438h3v3h-3zM977,410h3v3h-3zM978,434h3v3h-3zM978,488h3v3h-3zM979,475h3v3h-3zM979,469h3v3h-3zM980,486h3v3h-3zM980,464h3v3h-3zM981,470h3v3h-3zM981,445h3v3h-3zM982,430h3v3h-3zM982,396h3v3h-3zM982,450h3v3h-3zM983,443h3v3h-3zM983,466h3v3h-3zM984,410h3v3h-3zM984,476h3v3h-3zM985,470h3v3h-3zM985,497h3v3h-3zM986,459h3v3h-3zM986,475h3v3h-3zM986,454h3v3h-3zM987,465h3v3h-3zM987,485h3v3h-3zM988,478h3v3h-3zM988,476h3v3h-3zM989,485h3v3h-3zM989,493h3v3h-3zM990,435h3v3h-3zM990,456h3v3h-3zM991,469h3v3h-3zM991,467h3v3h-3zM991,509h3v3h-3zM992,449h3v3h-3zM992,430h3v3h-3zM993,439h3v3h-3zM993,472h3v3h-3zM994,476h3v3h-3zM994,451h3v3h-3zM995,448h3v3h-3zM995,389h3v3h-3zM995,454h3v3h-3zM996,462h3v3h-3zM996,468h3v3h-3zM997,447h3v3h-3zM997,464h3v3h-3zM998,504h3v3h-3zM998,475h3v3h-3zM999,437h3v3h-3zM999,465h3v3h-3zM1000,472h3v3h-3zM1000,513h3v3h-3zM1000,486h3v3h-3zM1001,460h3v3h-3zM1001,480h3v3h-3zM1002,486h3v3h-3zM1002,437h3v3h-3zM1003,449h3v3h-3zM1003,447h3v3h-3zM1004,453h3v3h-3zM1004,487h3v3h-3zM1005,485h3v3h-3zM1005,536h3v3h-3zM1005,455h3v3h-3zM1006,491h3v3h-3zM1006,460h3v3h-3zM1007,475h3v3h-3zM1007,521h3v3h-3zM1008,503h3v3h-3zM1008,479h3v3h-3zM1009,509h3v3h-3zM1009,503h3v3h-3zM1009,516h3v3h-3zM1010,528h3v3h-3zM1010,506h3v3h-3zM1011,517h3v3h-3zM1011,451h3v3h-3zM1012,446h3v3h-3zM1012,478h3v3h-3zM1013,471h3v3h-3zM1013,503h3v3h-3zM1014,491h3v3h-3zM1014,450h3v3h-3zM1014,448h3v3h-3zM1015,420h3v3h-3zM1015,495h3v3h-3zM1016,481h3v3h-3zM1016,495h3v3h-3zM1017,488h3v3h-3zM1017,489h3v3h-3zM1018,457h3v3h-3zM1018,436h3v3h-3zM1018,468h3v3h-3zM1019,433h3v3h-3zM1019,442h3v3h-3zM1020,451h3v3h-3zM1020,535h3v3h-3zM1021,454h3v3h-3zM1021,516h3v3h-3zM1022,476h3v3h-3zM1022,477h3v3h-3zM1023,469h3v3h-3zM1023,486h3v3h-3zM1023,457h3v3h-3zM1024,466h3v3h-3zM1024,474h3v3h-3zM1025,481h3v3h-3zM1025,470h3v3h-3zM1026,488h3v3h-3zM1026,499h3v3h-3zM1027,469h3v3h-3zM1027,481h3v3h-3zM1027,464h3v3h-3zM1028,411h3v3h-3zM1028,370h3v3h-3zM1029,445h3v3h-3zM1029,457h3v3h-3zM1030,423h3v3h-3zM1030,462h3v3h-3zM1031,461h3v3h-3zM1031,496h3v3h-3zM1032,485h3v3h-3zM1032,434h3v3h-3zM1032,448h3v3h-3zM1033,448h3v3h-3zM1033,452h3v3h-3zM1034,422h3v3h-3zM1034,516h3v3h-3zM1035,427h3v3h-3zM1035,469h3v3h-3zM1036,479h3v3h-3zM1036,449h3v3h-3zM1037,437h3v3h-3zM1037,428h3v3h-3zM1037,441h3v3h-3zM1038,430h3v3h-3zM1038,432h3v3h-3zM1039,417h3v3h-3zM1039,470h3v3h-3zM1040,437h3v3h-3zM1040,432h3v3h-3zM1041,455h3v3h-3zM1041,458h3v3h-3zM1041,492h3v3h-3zM1042,473h3v3h-3zM1042,498h3v3h-3zM1043,457h3v3h-3zM1043,431h3v3h-3zM1044,438h3v3h-3zM1044,434h3v3h-3zM1045,433h3v3h-3zM1045,473h3v3h-3zM1046,481h3v3h-3zM1046,472h3v3h-3zM1046,446h3v3h-3zM1047,462h3v3h-3zM1047,458h3v3h-3zM1048,465h3v3h-3zM1048,490h3v3h-3zM1049,461h3v3h-3zM1049,454h3v3h-3zM1050,473h3v3h-3zM1050,460h3v3h-3zM1050,423h3v3h-3zM1051,474h3v3h-3zM1051,463h3v3h-3zM1052,442h3v3h-3zM1052,499h3v3h-3zM1053,427h3v3h-3zM1053,445h3v3h-3zM1054,445h3v3h-3zM1054,444h3v3h-3zM1055,474h3v3h-3zM1055,512h3v3h-3zM1055,471h3v3h-3zM1056,438h3v3h-3zM1056,437h3v3h-3zM1057,471h3v3h-3zM1057,461h3v3h-3zM1058,449h3v3h-3zM1058,465h3v3h-3zM1059,478h3v3h-3zM1059,481h3v3h-3zM1060,464h3v3h-3zM1060,469h3v3h-3zM1060,501h3v3h-3zM1061,389h3v3h-3zM1061,440h3v3h-3zM1062,470h3v3h-3zM1062,455h3v3h-3zM1063,432h3v3h-3zM1063,475h3v3h-3zM1064,470h3v3h-3zM1064,504h3v3h-3zM1064,473h3v3h-3zM1065,501h3v3h-3zM1065,482h3v3h-3zM1066,521h3v3h-3zM1066,434h3v3h-3zM1067,458h3v3h-3zM1067,423h3v3h-3zM1068,465h3v3h-3zM1068,482h3v3h-3zM1069,390h3v3h-3zM1069,471h3v3h-3zM1069,476h3v3h-3zM1070,472h3v3h-3zM1070,463h3v3h-3zM1071,445h3v3h-3zM1071,465h3v3h-3zM1072,455h3v3h-3zM1072,462h3v3h-3zM1073,447h3v3h-3zM1073,477h3v3h-3zM1073,431h3v3h-3zM1074,479h3v3h-3zM1074,501h3v3h-3zM1075,454h3v3h-3zM1075,438h3v3h-3zM1076,460h3v3h-3zM1076,467h3v3h-3zM1077,480h3v3h-3zM1077,460h3v3h-3zM1078,444h3v3h-3zM1078,451h3v3h-3zM1078,418h3v3h-3zM1079,433h3v3h-3zM1079,427h3v3h-3zM1080,483h3v3h-3zM1080,480h3v3h-3zM1081,466h3v3h-3zM1081,412h3v3h-3zM1082,464h3v3h-3zM1082,526h3v3h-3zM1082,463h3v3h-3zM1083,440h3v3h-3zM1083,438h3v3h-3zM1084,489h3v3h-3zM1084,474h3v3h-3zM1085,478h3v3h-3zM1085,472h3v3h-3zM1086,445h3v3h-3zM1086,446h3v3h-3zM1087,469h3v3h-3zM1087,459h3v3h-3zM1087,472h3v3h-3zM1088,467h3v3h-3zM1088,445h3v3h-3zM1089,467h3v3h-3zM1089,458h3v3h-3zM1090,432h3v3h-3zM1090,421h3v3h-3zM1091,443h3v3h-3zM1091,435h3v3h-3zM1092,459h3v3h-3zM1092,452h3v3h-3zM1092,470h3v3h-3zM1093,465h3v3h-3zM1093,475h3v3h-3zM1094,492h3v3h-3zM1094,499h3v3h-3zM1095,492h3v3h-3zM1095,435h3v3h-3zM1096,467h3v3h-3zM1096,425h3v3h-3zM1096,453h3v3h-3zM1097,421h3v3h-3zM1097,439h3v3h-3zM1098,436h3v3h-3zM1098,459h3v3h-3zM1099,451h3v3h-3zM1099,463h3v3h-3zM1100,465h3v3h-3zM1100,1086h3v3h-3zM1101,440h3v3h-3zM1101,433h3v3h-3zM1101,423h3v3h-3zM1102,493h3v3h-3zM1102,458h3v3h-3zM1103,448h3v3h-3zM1103,451h3v3h-3zM1104,432h3v3h-3zM1104,429h3v3h-3zM1105,431h3v3h-3zM1105,429h3v3h-3zM1105,431h3v3h-3zM1106,459h3v3h-3zM1106,449h3v3h-3zM1107,457h3v3h-3zM1107,336h3v3h-3zM1108,465h3v3h-3zM1108,455h3v3h-3zM1109,420h3v3h-3zM1109,354h3v3h-3zM1110,486h3v3h-3zM1110,370h3v3h-3zM1110,436h3v3h-3zM1111,445h3v3h-3zM1111,360h3v3h-3zM1112,512h3v3h-3zM1112,438h3v3h-3zM1113,462h3v3h-3zM1113,1065h3v3h-3zM1114,478h3v3h-3zM1114,445h3v3h-3zM1115,424h3v3h-3zM1115,376h3v3h-3zM1115,450h3v3h-3zM1116,390h3v3h-3zM1116,444h3v3h-3zM1117,412h3v3h-3zM1117,440h3v3h-3zM1118,390h3v3h-3zM1118,451h3v3h-3zM1119,423h3v3h-3zM1119,448h3v3h-3zM1119,467h3v3h-3zM1120,447h3v3h-3zM1120,550h3v3h-3zM1121,475h3v3h-3zM1121,467h3v3h-3zM1122,445h3v3h-3zM1122,445h3v3h-3zM1123,459h3v3h-3zM1123,441h3v3h-3zM1124,462h3v3h-3zM1124,462h3v3h-3zM1124,445h3v3h-3zM1125,429h3v3h-3zM1125,418h3v3h-3zM1126,333h3v3h-3zM1126,429h3v3h-3zM1127,399h3v3h-3zM1127,443h3v3h-3zM1128,503h3v3h-3zM1128,432h3v3h-3zM1128,471h3v3h-3zM1129,423h3v3h-3zM1129,416h3v3h-3zM1130,458h3v3h-3zM1130,434h3v3h-3zM1131,470h3v3h-3zM1131,451h3v3h-3zM1132,468h3v3h-3zM1132,423h3v3h-3zM1133,421h3v3h-3zM1133,448h3v3h-3zM1133,470h3v3h-3zM1134,435h3v3h-3zM1134,445h3v3h-3zM1135,435h3v3h-3zM1135,497h3v3h-3zM1136,445h3v3h-3zM1136,459h3v3h-3zM1137,447h3v3h-3zM1137,480h3v3h-3zM1138,431h3v3h-3zM1138,452h3v3h-3zM1138,470h3v3h-3zM1139,461h3v3h-3zM1139,460h3v3h-3zM1140,445h3v3h-3zM1140,457h3v3h-3zM1141,475h3v3h-3zM1141,466h3v3h-3zM1142,427h3v3h-3zM1142,461h3v3h-3zM1142,445h3v3h-3zM1143,476h3v3h-3zM1143,456h3v3h-3zM1144,467h3v3h-3zM1144,436h3v3h-3zM1145,468h3v3h-3zM1145,435h3v3h-3zM1146,450h3v3h-3zM1146,455h3v3h-3zM1147,485h3v3h-3zM1147,472h3v3h-3zM1147,451h3v3h-3zM1148,466h3v3h-3zM1148,470h3v3h-3zM1149,458h3v3h-3zM1149,451h3v3h-3zM1150,463h3v3h-3zM1150,461h3v3h-3zM1151,468h3v3h-3zM1151,459h3v3h-3zM1151,449h3v3h-3zM1152,446h3v3h-3zM1152,426h3v3h-3zM1153,480h3v3h-3zM1153,485h3v3h-3zM1154,463h3v3h-3zM1154,509h3v3h-3zM1155,440h3v3h-3zM1155,474h3v3h-3zM1156,460h3v3h-3zM1156,445h3v3h-3zM1156,450h3v3h-3zM1157,459h3v3h-3zM1157,474h3v3h-3zM1158,483h3v3h-3zM1158,438h3v3h-3zM1159,483h3v3h-3zM1159,460h3v3h-3zM1160,470h3v3h-3zM1160,459h3v3h-3zM1160,471h3v3h-3zM1161,458h3v3h-3zM1161,497h3v3h-3zM1162,409h3v3h-3zM1162,456h3v3h-3zM1163,484h3v3h-3zM1163,469h3v3h-3zM1164,452h3v3h-3zM1164,482h3v3h-3zM1165,433h3v3h-3zM1165,440h3v3h-3zM1165,469h3v3h-3zM1166,458h3v3h-3zM1166,507h3v3h-3zM1167,473h3v3h-3zM1167,459h3v3h-3zM1168,459h3v3h-3zM1168,454h3v3h-3zM1169,403h3v3h-3zM1169,456h3v3h-3zM1170,420h3v3h-3zM1170,428h3v3h-3zM1170,462h3v3h-3zM1171,429h3v3h-3zM1171,433h3v3h-3zM1172,461h3v3h-3zM1172,487h3v3h-3zM1173,435h3v3h-3zM1173,418h3v3h-3zM1174,399h3v3h-3zM1174,439h3v3h-3zM1174,445h3v3h-3zM1175,465h3v3h-3zM1175,456h3v3h-3zM1176,452h3v3h-3zM1176,454h3v3h-3zM1177,476h3v3h-3zM1177,468h3v3h-3zM1178,515h3v3h-3zM1178,476h3v3h-3zM1179,474h3v3h-3zM1179,465h3v3h-3zM1179,429h3v3h-3zM1180,493h3v3h-3zM1180,463h3v3h-3zM1181,435h3v3h-3zM1181,486h3v3h-3zM1182,485h3v3h-3zM1182,475h3v3h-3zM1183,445h3v3h-3zM1183,452h3v3h-3zM1183,469h3v3h-3zM1184,464h3v3h-3zM1184,448h3v3h-3zM1185,416h3v3h-3zM1185,453h3v3h-3zM1186,454h3v3h-3zM1186,477h3v3h-3zM1187,459h3v3h-3zM1187,454h3v3h-3zM1188,474h3v3h-3zM1188,474h3v3h-3zM1188,450h3v3h-3zM1189,461h3v3h-3zM1189,446h3v3h-3zM1190,485h3v3h-3zM1190,451h3v3h-3zM1191,465h3v3h-3zM1191,479h3v3h-3zM1192,459h3v3h-3zM1192,460h3v3h-3zM1193,414h3v3h-3zM1193,462h3v3h-3zM1193,439h3v3h-3zM1194,452h3v3h-3zM1194,464h3v3h-3zM1195,467h3v3h-3zM1195,433h3v3h-3zM1196,449h3v3h-3zM1196,457h3v3h-3zM1197,475h3v3h-3zM1197,440h3v3h-3zM1197,437h3v3h-3zM1198,471h3v3h-3zM1198,459h3v3h-3zM1199,445h3v3h-3zM1199,445h3v3h-3zM1200,414h3v3h-3zM1200,429h3v3h-3zM1201,467h3v3h-3zM1201,546h3v3h-3zM1202,434h3v3h-3zM1202,455h3v3h-3zM1202,476h3v3h-3zM1203,469h3v3h-3zM1203,470h3v3h-3zM1204,472h3v3h-3zM1204,468h3v3h-3zM1205,465h3v3h-3zM1205,448h3v3h-3zM1206,458h3v3h-3zM1206,459h3v3h-3zM1206,426h3v3h-3zM1207,431h3v3h-3zM1207,432h3v3h-3zM1208,509h3v3h-3zM1208,482h3v3h-3zM1209,426h3v3h-3zM1209,430h3v3h-3zM1210,449h3v3h-3zM1210,435h3v3h-3zM1211,448h3v3h-3zM1211,443h3v3h-3zM1211,464h3v3h-3zM1212,458h3v3h-3zM1212,419h3v3h-3zM1213,444h3v3h-3zM1213,454h3v3h-3zM1214,448h3v3h-3zM1214,445h3v3h-3zM1215,470h3v3h-3zM1215,478h3v3h-3zM1216,453h3v3h-3zM1216,435h3v3h-3zM1216,495h3v3h-3zM1217,460h3v3h-3zM1217,483h3v3h-3zM1218,454h3v3h-3zM1218,452h3v3h-3zM1219,448h3v3h-3zM1219,457h3v3h-3zM1220,457h3v3h-3zM1220,459h3v3h-3zM1220,463h3v3h-3zM1221,459h3v3h-3zM1221,453h3v3h-3zM1222,467h3v3h-3zM1222,483h3v3h-3zM1223,469h3v3h-3zM1223,404h3v3h-3zM1224,467h3v3h-3zM1224,459h3v3h-3zM1225,478h3v3h-3zM1225,465h3v3h-3zM1225,457h3v3h-3zM1226,451h3v3h-3zM1226,470h3v3h-3zM1227,469h3v3h-3zM1227,448h3v3h-3zM1228,470h3v3h-3zM1228,468h3v3h-3zM1229,462h3v3h-3zM1229,447h3v3h-3zM1229,405h3v3h-3zM1230,437h3v3h-3zM1230,432h3v3h-3zM1231,429h3v3h-3zM1231,425h3v3h-3zM1232,430h3v3h-3zM1232,456h3v3h-3zM1233,443h3v3h-3zM1233,453h3v3h-3zM1234,431h3v3h-3zM1234,455h3v3h-3zM1234,414h3v3h-3zM1235,450h3v3h-3zM1235,447h3v3h-3zM1236,456h3v3h-3zM1236,459h3v3h-3zM1237,461h3v3h-3zM1237,478h3v3h-3zM1238,474h3v3h-3zM1238,424h3v3h-3zM1238,445h3v3h-3zM1239,470h3v3h-3zM1239,498h3v3h-3zM1240,471h3v3h-3zM1240,468h3v3h-3zM1241,451h3v3h-3zM1241,449h3v3h-3zM1242,472h3v3h-3zM1242,446h3v3h-3zM1243,456h3v3h-3zM1243,477h3v3h-3zM1243,453h3v3h-3zM1244,475h3v3h-3zM1244,446h3v3h-3zM1245,446h3v3h-3zM1245,434h3v3h-3zM1246,445h3v3h-3zM1246,459h3v3h-3zM1247,454h3v3h-3zM1247,497h3v3h-3zM1248,462h3v3h-3zM1248,459h3v3h-3zM1248,444h3v3h-3zM1249,407h3v3h-3zM1249,490h3v3h-3zM1250,486h3v3h-3zM1250,479h3v3h-3zM1251,455h3v3h-3zM1251,475h3v3h-3zM1252,439h3v3h-3zM1252,451h3v3h-3zM1252,456h3v3h-3zM1253,469h3v3h-3zM1253,460h3v3h-3zM1254,436h3v3h-3zM1254,462h3v3h-3zM1255,478h3v3h-3zM1255,489h3v3h-3zM1256,460h3v3h-3zM1256,442h3v3h-3zM1257,457h3v3h-3zM1257,431h3v3h-3zM1257,507h3v3h-3zM1258,455h3v3h-3zM1258,478h3v3h-3zM1259,455h3v3h-3zM1259,482h3v3h-3zM1260,468h3v3h-3zM1260,438h3v3h-3zM1261,431h3v3h-3zM1261,461h3v3h-3zM1261,468h3v3h-3zM1262,446h3v3h-3zM1262,440h3v3h-3zM1263,428h3v3h-3zM1263,466h3v3h-3zM1264,434h3v3h-3zM1264,397h3v3h-3zM1265,454h3v3h-3zM1265,469h3v3h-3zM1266,441h3v3h-3zM1266,1069h3v3h-3zM1266,422h3v3h-3zM1267,469h3v3h-3zM1267,442h3v3h-3zM1268,439h3v3h-3zM1268,417h3v3h-3zM1269,468h3v3h-3zM1269,439h3v3h-3zM1270,439h3v3h-3zM1270,446h3v3h-3zM1271,493h3v3h-3zM1271,453h3v3h-3zM1271,484h3v3h-3zM1272,472h3v3h-3zM1272,456h3v3h-3zM1273,451h3v3h-3zM1273,488h3v3h-3zM1274,436h3v3h-3zM1274,412h3v3h-3zM1275,468h3v3h-3zM1275,438h3v3h-3zM1275,458h3v3h-3zM1276,427h3v3h-3zM1276,458h3v3h-3zM1277,456h3v3h-3zM1277,480h3v3h-3zM1278,474h3v3h-3zM1278,463h3v3h-3zM1279,449h3v3h-3zM1279,367h3v3h-3zM1280,443h3v3h-3zM1280,488h3v3h-3zM1280,414h3v3h-3zM1281,447h3v3h-3zM1281,475h3v3h-3zM1282,524h3v3h-3zM1282,478h3v3h-3zM1283,465h3v3h-3zM1283,451h3v3h-3zM1284,482h3v3h-3zM1284,480h3v3h-3zM1284,475h3v3h-3zM1285,439h3v3h-3zM1285,418h3v3h-3zM1286,478h3v3h-3zM1286,455h3v3h-3zM1287,490h3v3h-3zM1287,469h3v3h-3zM1288,471h3v3h-3zM1288,437h3v3h-3zM1289,510h3v3h-3zM1289,437h3v3h-3zM1289,420h3v3h-3zM1290,447h3v3h-3zM1290,405h3v3h-3zM1291,454h3v3h-3zM1291,436h3v3h-3zM1292,466h3v3h-3zM1292,460h3v3h-3zM1293,464h3v3h-3zM1293,439h3v3h-3zM1293,423h3v3h-3zM1294,398h3v3h-3zM1294,419h3v3h-3zM1295,479h3v3h-3zM1295,449h3v3h-3zM1296,452h3v3h-3zM1296,488h3v3h-3zM1297,428h3v3h-3zM1297,490h3v3h-3zM1298,475h3v3h-3zM1298,443h3v3h-3zM1298,443h3v3h-3zM1299,419h3v3h-3zM1299,466h3v3h-3zM1300,459h3v3h-3zM1300,498h3v3h-3zM1301,427h3v3h-3zM1301,461h3v3h-3zM1302,366h3v3h-3zM1302,491h3v3h-3zM1303,439h3v3h-3zM1303,429h3v3h-3zM1303,433h3v3h-3zM1304,491h3v3h-3zM1304,496h3v3h-3zM1305,474h3v3h-3zM1305,383h3v3h-3zM1306,452h3v3h-3zM1306,429h3v3h-3zM1307,450h3v3h-3zM1307,468h3v3h-3zM1307,488h3v3h-3zM1308,479h3v3h-3zM1308,468h3v3h-3zM1309,464h3v3h-3zM1309,475h3v3h-3zM1310,472h3v3h-3zM1310,436h3v3h-3zM1311,639h3v3h-3zM1311,459h3v3h-3zM1312,394h3v3h-3zM1312,457h3v3h-3zM1312,482h3v3h-3zM1313,480h3v3h-3zM1313,468h3v3h-3zM1314,474h3v3h-3zM1314,468h3v3h-3zM1315,452h3v3h-3zM1315,484h3v3h-3zM1316,474h3v3h-3zM1316,404h3v3h-3zM1316,399h3v3h-3zM1317,449h3v3h-3zM1317,521h3v3h-3zM1318,461h3v3h-3zM1318,583h3v3h-3zM1319,502h3v3h-3zM1319,492h3v3h-3zM1320,455h3v3h-3zM1320,466h3v3h-3zM1321,427h3v3h-3zM1321,440h3v3h-3zM1321,481h3v3h-3zM1322,444h3v3h-3zM1322,493h3v3h-3zM1323,470h3v3h-3zM1323,490h3v3h-3zM1324,488h3v3h-3zM1324,450h3v3h-3zM1325,460h3v3h-3zM1325,465h3v3h-3zM1326,468h3v3h-3zM1326,468h3v3h-3zM1326,431h3v3h-3zM1327,488h3v3h-3zM1327,465h3v3h-3zM1328,468h3v3h-3zM1328,460h3v3h-3zM1329,451h3v3h-3zM1329,453h3v3h-3zM1330,457h3v3h-3zM1330,448h3v3h-3zM1330,430h3v3h-3zM1331,406h3v3h-3zM1331,476h3v3h-3zM1332,474h3v3h-3zM1332,480h3v3h-3zM1333,445h3v3h-3zM1333,449h3v3h-3zM1334,454h3v3h-3zM1334,440h3v3h-3zM1335,429h3v3h-3zM1335,448h3v3h-3zM1335,468h3v3h-3zM1336,470h3v3h-3zM1336,444h3v3h-3zM1337,478h3v3h-3zM1337,486h3v3h-3zM1338,466h3v3h-3zM1338,496h3v3h-3zM1339,508h3v3h-3zM1339,448h3v3h-3zM1339,458h3v3h-3zM1340,478h3v3h-3zM1340,468h3v3h-3zM1341,481h3v3h-3zM1341,419h3v3h-3zM1342,455h3v3h-3zM1342,429h3v3h-3zM1343,452h3v3h-3zM1343,494h3v3h-3zM1344,502h3v3h-3zM1344,495h3v3h-3zM1344,482h3v3h-3zM1345,436h3v3h-3zM1345,441h3v3h-3zM1346,447h3v3h-3zM1346,468h3v3h-3zM1347,461h3v3h-3zM1347,430h3v3h-3zM1348,415h3v3h-3zM1348,454h3v3h-3zM1349,447h3v3h-3zM1349,429h3v3h-3zM1349,441h3v3h-3zM1350,444h3v3h-3zM1350,584h3v3h-3zM1351,481h3v3h-3zM1351,471h3v3h-3zM1352,529h3v3h-3zM1352,437h3v3h-3zM1353,499h3v3h-3zM1353,491h3v3h-3zM1353,472h3v3h-3zM1354,409h3v3h-3zM1354,488h3v3h-3zM1355,504h3v3h-3zM1355,435h3v3h-3zM1356,464h3v3h-3zM1356,463h3v3h-3zM1357,486h3v3h-3zM1357,472h3v3h-3zM1358,443h3v3h-3zM1358,454h3v3h-3zM1358,458h3v3h-3zM1359,465h3v3h-3zM1359,471h3v3h-3zM1360,465h3v3h-3zM1360,439h3v3h-3zM1361,434h3v3h-3zM1361,448h3v3h-3zM1362,455h3v3h-3zM1362,458h3v3h-3zM1362,425h3v3h-3zM1363,489h3v3h-3zM1363,456h3v3h-3zM1364,481h3v3h-3zM1364,466h3v3h-3zM1365,458h3v3h-3zM1365,464h3v3h-3zM1366,455h3v3h-3zM1366,402h3v3h-3zM1367,450h3v3h-3zM1367,471h3v3h-3zM1367,428h3v3h-3zM1368,432h3v3h-3zM1368,424h3v3h-3zM1369,438h3v3h-3zM1369,440h3v3h-3zM1370,460h3v3h-3zM1370,510h3v3h-3zM1371,452h3v3h-3zM1371,477h3v3h-3zM1371,455h3v3h-3zM1372,450h3v3h-3zM1372,475h3v3h-3zM1373,442h3v3h-3zM1373,448h3v3h-3zM1374,472h3v3h-3zM1374,448h3v3h-3zM1375,434h3v3h-3zM1375,477h3v3h-3zM1376,474h3v3h-3zM1376,462h3v3h-3zM1376,454h3v3h-3zM1377,464h3v3h-3zM1377,493h3v3h-3zM1378,479h3v3h-3zM1378,485h3v3h-3zM1379,484h3v3h-3zM1379,478h3v3h-3zM1380,396h3v3h-3zM1380,442h3v3h-3zM1381,446h3v3h-3zM1381,453h3v3h-3zM1381,446h3v3h-3zM1382,450h3v3h-3zM1382,471h3v3h-3zM1383,468h3v3h-3zM1383,492h3v3h-3zM1384,400h3v3h-3zM1384,471h3v3h-3zM1385,396h3v3h-3zM1385,467h3v3h-3zM1385,455h3v3h-3zM1386,464h3v3h-3zM1386,447h3v3h-3zM1387,454h3v3h-3zM1387,470h3v3h-3zM1388,1101h3v3h-3zM1388,468h3v3h-3zM1389,484h3v3h-3zM1389,468h3v3h-3zM1390,479h3v3h-3zM1390,482h3v3h-3zM1390,464h3v3h-3zM1391,457h3v3h-3zM1391,483h3v3h-3zM1392,460h3v3h-3zM1392,424h3v3h-3zM1393,487h3v3h-3zM1393,485h3v3h-3zM1394,452h3v3h-3zM1394,472h3v3h-3zM1394,503h3v3h-3zM1395,450h3v3h-3zM1395,461h3v3h-3zM1396,455h3v3h-3zM1396,445h3v3h-3zM1397,441h3v3h-3zM1397,460h3v3h-3zM1398,471h3v3h-3zM1398,480h3v3h-3zM1399,532h3v3h-3zM1399,440h3v3h-3zM1399,451h3v3h-3zM1400,458h3v3h-3zM1400,461h3v3h-3zM1401,470h3v3h-3zM1401,442h3v3h-3zM1402,439h3v3h-3zM1402,442h3v3h-3zM1403,468h3v3h-3zM1403,454h3v3h-3zM1404,453h3v3h-3zM1404,451h3v3h-3zM1404,453h3v3h-3zM1405,476h3v3h-3zM1405,464h3v3h-3zM1406,485h3v3h-3zM1406,439h3v3h-3zM1407,369h3v3h-3zM1407,404h3v3h-3zM1408,398h3v3h-3zM1408,337h3v3h-3zM1408,428h3v3h-3zM1409,393h3v3h-3zM1409,429h3v3h-3zM1410,469h3v3h-3zM1410,472h3v3h-3zM1411,413h3v3h-3zM1411,443h3v3h-3zM1412,461h3v3h-3zM1412,417h3v3h-3zM1413,455h3v3h-3zM1413,451h3v3h-3zM1413,458h3v3h-3zM1414,463h3v3h-3zM1414,496h3v3h-3zM1415,443h3v3h-3zM1415,446h3v3h-3zM1416,461h3v3h-3zM1416,465h3v3h-3zM1417,475h3v3h-3zM1417,469h3v3h-3zM1417,454h3v3h-3zM1418,429h3v3h-3zM1418,472h3v3h-3zM1419,467h3v3h-3zM1419,455h3v3h-3zM1420,436h3v3h-3zM1420,439h3v3h-3zM1421,476h3v3h-3zM1421,462h3v3h-3zM1422,450h3v3h-3zM1422,435h3v3h-3zM1422,445h3v3h-3zM1423,487h3v3h-3zM1423,438h3v3h-3zM1424,465h3v3h-3zM1424,421h3v3h-3zM1425,454h3v3h-3zM1425,482h3v3h-3zM1426,457h3v3h-3zM1426,435h3v3h-3zM1427,439h3v3h-3zM1427,453h3v3h-3zM1427,469h3v3h-3zM1428,454h3v3h-3zM1428,460h3v3h-3zM1429,449h3v3h-3zM1429,430h3v3h-3zM1430,451h3v3h-3zM1430,438h3v3h-3zM1431,491h3v3h-3zM1431,468h3v3h-3zM1431,445h3v3h-3zM1432,437h3v3h-3zM1432,456h3v3h-3zM1433,444h3v3h-3zM1433,465h3v3h-3zM1434,431h3v3h-3zM1434,446h3v3h-3zM1435,471h3v3h-3zM1435,488h3v3h-3zM1436,476h3v3h-3zM1436,472h3v3h-3zM1436,460h3v3h-3zM1437,421h3v3h-3zM1437,463h3v3h-3zM1438,441h3v3h-3zM1438,439h3v3h-3zM1439,338h3v3h-3zM1439,496h3v3h-3zM1440,457h3v3h-3zM1440,472h3v3h-3zM1440,432h3v3h-3zM1441,441h3v3h-3zM1441,439h3v3h-3zM1442,441h3v3h-3zM1442,431h3v3h-3zM1443,464h3v3h-3zM1443,467h3v3h-3zM1444,491h3v3h-3zM1444,463h3v3h-3zM1445,472h3v3h-3zM1445,441h3v3h-3zM1445,448h3v3h-3zM1446,461h3v3h-3zM1446,432h3v3h-3zM1447,427h3v3h-3zM1447,441h3v3h-3zM1448,446h3v3h-3zM1448,465h3v3h-3zM1449,444h3v3h-3zM1449,458h3v3h-3zM1449,449h3v3h-3zM1450,470h3v3h-3zM1450,422h3v3h-3zM1451,469h3v3h-3zM1451,484h3v3h-3zM1452,507h3v3h-3zM1452,458h3v3h-3zM1453,469h3v3h-3zM1453,482h3v3h-3zM1454,443h3v3h-3zM1454,527h3v3h-3zM1454,502h3v3h-3zM1455,481h3v3h-3zM1455,497h3v3h-3zM1456,462h3v3h-3zM1456,465h3v3h-3zM1457,425h3v3h-3zM1457,462h3v3h-3zM1458,466h3v3h-3zM1458,466h3v3h-3zM1459,474h3v3h-3zM1459,458h3v3h-3zM1459,448h3v3h-3zM1460,464h3v3h-3zM1460,481h3v3h-3zM1461,469h3v3h-3zM1461,523h3v3h-3zM1462,471h3v3h-3zM1462,461h3v3h-3zM1463,445h3v3h-3zM1463,472h3v3h-3zM1463,460h3v3h-3zM1464,472h3v3h-3zM1464,489h3v3h-3zM1465,478h3v3h-3zM1465,485h3v3h-3zM1466,463h3v3h-3zM1466,464h3v3h-3zM1467,513h3v3h-3zM1467,461h3v3h-3zM1468,467h3v3h-3zM1468,476h3v3h-3zM1468,471h3v3h-3zM1469,485h3v3h-3zM1469,467h3v3h-3zM1470,450h3v3h-3zM1470,435h3v3h-3zM1471,458h3v3h-3zM1471,438h3v3h-3zM1472,475h3v3h-3zM1472,447h3v3h-3zM1472,463h3v3h-3zM1473,465h3v3h-3zM1473,456h3v3h-3zM1474,429h3v3h-3zM1474,420h3v3h-3zM1475,434h3v3h-3zM1475,432h3v3h-3zM1476,453h3v3h-3zM1476,444h3v3h-3zM1477,393h3v3h-3zM1477,436h3v3h-3zM1477,435h3v3h-3zM1478,459h3v3h-3zM1478,427h3v3h-3zM1479,488h3v3h-3zM1479,478h3v3h-3zM1480,434h3v3h-3zM1480,390h3v3h-3zM1481,446h3v3h-3zM1481,439h3v3h-3zM1482,442h3v3h-3zM1482,444h3v3h-3zM1482,405h3v3h-3zM1483,435h3v3h-3zM1483,420h3v3h-3zM1484,451h3v3h-3zM1484,438h3v3h-3zM1485,453h3v3h-3zM1485,439h3v3h-3zM1486,435h3v3h-3zM1486,467h3v3h-3zM1486,470h3v3h-3zM1487,483h3v3h-3zM1487,498h3v3h-3zM1488,480h3v3h-3zM1488,447h3v3h-3zM1489,449h3v3h-3zM1489,449h3v3h-3zM1490,449h3v3h-3zM1490,464h3v3h-3zM1491,458h3v3h-3zM1491,456h3v3h-3zM1491,454h3v3h-3zM1492,478h3v3h-3zM1492,459h3v3h-3zM1493,453h3v3h-3zM1493,458h3v3h-3zM1494,464h3v3h-3zM1494,431h3v3h-3zM1495,446h3v3h-3zM1495,487h3v3h-3zM1495,433h3v3h-3zM1496,448h3v3h-3zM1496,415h3v3h-3zM1497,421h3v3h-3zM1497,438h3v3h-3zM1498,471h3v3h-3zM1498,474h3v3h-3zM1499,470h3v3h-3zM1499,454h3v3h-3zM1500,459h3v3h-3zM1500,455h3v3h-3zM1500,448h3v3h-3zM1501,469h3v3h-3zM1501,465h3v3h-3zM1502,465h3v3h-3zM1502,474h3v3h-3zM1503,458h3v3h-3zM1503,457h3v3h-3zM1504,441h3v3h-3zM1504,502h3v3h-3zM1505,429h3v3h-3zM1505,421h3v3h-3zM1505,431h3v3h-3zM1506,444h3v3h-3zM1506,461h3v3h-3zM1507,437h3v3h-3zM1507,451h3v3h-3zM1508,489h3v3h-3zM1508,462h3v3h-3zM1509,456h3v3h-3zM1509,486h3v3h-3zM1509,464h3v3h-3zM1510,465h3v3h-3zM1510,467h3v3h-3zM1511,425h3v3h-3zM1511,438h3v3h-3zM1512,460h3v3h-3zM1512,462h3v3h-3zM1513,435h3v3h-3zM1513,385h3v3h-3zM1514,446h3v3h-3zM1514,442h3v3h-3zM1514,441h3v3h-3zM1515,495h3v3h-3zM1515,474h3v3h-3zM1516,481h3v3h-3zM1516,452h3v3h-3zM1517,435h3v3h-3zM1517,462h3v3h-3zM1518,525h3v3h-3zM1518,380h3v3h-3zM1518,490h3v3h-3zM1519,467h3v3h-3zM1519,464h3v3h-3zM1520,473h3v3h-3zM1520,484h3v3h-3zM1521,452h3v3h-3zM1521,437h3v3h-3zM1522,441h3v3h-3zM1522,471h3v3h-3zM1523,452h3v3h-3zM1523,480h3v3h-3zM1523,501h3v3h-3zM1524,443h3v3h-3zM1524,462h3v3h-3zM1525,436h3v3h-3zM1525,445h3v3h-3zM1526,452h3v3h-3zM1526,458h3v3h-3zM1527,443h3v3h-3zM1527,431h3v3h-3zM1527,450h3v3h-3zM1528,446h3v3h-3zM1528,419h3v3h-3zM1529,461h3v3h-3zM1529,454h3v3h-3zM1530,450h3v3h-3zM1530,456h3v3h-3zM1531,446h3v3h-3zM1531,463h3v3h-3zM1532,466h3v3h-3zM1532,446h3v3h-3zM1532,460h3v3h-3zM1533,438h3v3h-3zM1533,458h3v3h-3zM1534,498h3v3h-3zM1534,495h3v3h-3zM1535,509h3v3h-3zM1535,419h3v3h-3zM1536,466h3v3h-3zM1536,465h3v3h-3zM1537,476h3v3h-3zM1537,454h3v3h-3zM1537,474h3v3h-3zM1538,462h3v3h-3zM1538,444h3v3h-3zM1539,464h3v3h-3zM1539,453h3v3h-3zM1540,471h3v3h-3zM1540,483h3v3h-3zM1541,474h3v3h-3zM1541,492h3v3h-3zM1541,480h3v3h-3zM1542,455h3v3h-3zM1542,383h3v3h-3zM1543,509h3v3h-3zM1543,467h3v3h-3zM1544,460h3v3h-3zM1544,460h3v3h-3zM1545,452h3v3h-3zM1545,452h3v3h-3zM1546,466h3v3h-3zM1546,454h3v3h-3zM1546,471h3v3h-3zM1547,460h3v3h-3zM1547,481h3v3h-3zM1548,455h3v3h-3zM1548,425h3v3h-3zM1549,442h3v3h-3zM1549,473h3v3h-3zM1550,480h3v3h-3zM1550,472h3v3h-3zM1550,452h3v3h-3zM1551,448h3v3h-3zM1551,478h3v3h-3zM1552,466h3v3h-3zM1552,484h3v3h-3zM1553,459h3v3h-3zM1553,503h3v3h-3zM1554,447h3v3h-3zM1554,474h3v3h-3zM1555,431h3v3h-3zM1555,455h3v3h-3zM1555,470h3v3h-3zM1556,442h3v3h-3zM1556,459h3v3h-3zM1557,436h3v3h-3zM1557,432h3v3h-3zM1558,460h3v3h-3zM1558,451h3v3h-3zM1559,407h3v3h-3zM1559,441h3v3h-3zM1560,465h3v3h-3zM1560,457h3v3h-3zM1560,436h3v3h-3zM1561,436h3v3h-3zM1561,433h3v3h-3zM1562,445h3v3h-3zM1562,501h3v3h-3zM1563,465h3v3h-3zM1563,473h3v3h-3zM1564,463h3v3h-3zM1564,468h3v3h-3zM1564,479h3v3h-3zM1565,443h3v3h-3zM1565,452h3v3h-3zM1566,418h3v3h-3zM1566,473h3v3h-3zM1567,478h3v3h-3zM1567,446h3v3h-3zM1568,443h3v3h-3zM1568,463h3v3h-3zM1569,462h3v3h-3zM1569,452h3v3h-3zM1569,458h3v3h-3zM1570,441h3v3h-3zM1570,456h3v3h-3zM1571,487h3v3h-3zM1571,458h3v3h-3zM1572,426h3v3h-3zM1572,408h3v3h-3zM1573,481h3v3h-3zM1573,584h3v3h-3zM1573,449h3v3h-3zM1574,443h3v3h-3zM1574,478h3v3h-3zM1575,446h3v3h-3zM1575,467h3v3h-3zM1576,442h3v3h-3zM1576,474h3v3h-3zM1577,455h3v3h-3zM1577,467h3v3h-3zM1578,469h3v3h-3zM1578,460h3v3h-3zM1578,439h3v3h-3zM1579,429h3v3h-3zM1579,390h3v3h-3zM1580,443h3v3h-3zM1580,371h3v3h-3zM1581,448h3v3h-3zM1581,453h3v3h-3zM1582,453h3v3h-3zM1582,475h3v3h-3zM1582,441h3v3h-3zM1583,461h3v3h-3zM1583,435h3v3h-3zM1584,452h3v3h-3zM1584,446h3v3h-3zM1585,454h3v3h-3zM1585,458h3v3h-3zM1586,410h3v3h-3zM1586,446h3v3h-3zM1587,461h3v3h-3zM1587,452h3v3h-3zM1587,462h3v3h-3zM1588,424h3v3h-3zM1588,421h3v3h-3zM1589,444h3v3h-3zM1589,452h3v3h-3zM1590,445h3v3h-3zM1590,454h3v3h-3zM1591,467h3v3h-3zM1591,450h3v3h-3zM1592,456h3v3h-3zM1592,462h3v3h-3zM1592,467h3v3h-3zM1593,466h3v3h-3zM1593,448h3v3h-3zM1594,441h3v3h-3zM1594,435h3v3h-3zM1595,439h3v3h-3zM1595,417h3v3h-3zM1596,437h3v3h-3zM1596,424h3v3h-3zM1596,418h3v3h-3zM1597,416h3v3h-3zM1597,404h3v3h-3zM1598,424h3v3h-3zM1598,419h3v3h-3zM1599,446h3v3h-3zM1599,443h3v3h-3zM1600,447h3v3h-3zM1600,437h3v3h-3zM1601,502h3v3h-3zM1601,466h3v3h-3zM1601,448h3v3h-3zM1602,481h3v3h-3zM1602,457h3v3h-3zM1603,460h3v3h-3zM1603,347h3v3h-3zM1604,448h3v3h-3zM1604,470h3v3h-3zM1605,455h3v3h-3zM1605,420h3v3h-3zM1605,490h3v3h-3zM1606,467h3v3h-3zM1606,445h3v3h-3zM1607,447h3v3h-3zM1607,464h3v3h-3zM1608,469h3v3h-3zM1608,467h3v3h-3zM1609,515h3v3h-3zM1609,455h3v3h-3zM1610,430h3v3h-3zM1610,440h3v3h-3zM1610,411h3v3h-3zM1611,442h3v3h-3zM1611,426h3v3h-3zM1612,469h3v3h-3zM1612,463h3v3h-3zM1613,395h3v3h-3zM1613,449h3v3h-3zM1614,451h3v3h-3zM1614,437h3v3h-3zM1615,418h3v3h-3zM1615,435h3v3h-3zM1615,444h3v3h-3zM1616,435h3v3h-3zM1616,485h3v3h-3zM1617,488h3v3h-3zM1617,474h3v3h-3zM1618,403h3v3h-3zM1618,497h3v3h-3zM1619,442h3v3h-3zM1619,427h3v3h-3zM1619,472h3v3h-3zM1620,464h3v3h-3zM1620,486h3v3h-3zM1621,467h3v3h-3zM1621,465h3v3h-3zM1622,462h3v3h-3zM1622,439h3v3h-3zM1623,458h3v3h-3zM1623,467h3v3h-3zM1624,472h3v3h-3zM1624,408h3v3h-3zM1624,416h3v3h-3zM1625,515h3v3h-3zM1625,370h3v3h-3zM1626,446h3v3h-3zM1626,480h3v3h-3zM1627,489h3v3h-3zM1627,491h3v3h-3zM1628,365h3v3h-3zM1628,473h3v3h-3zM1628,466h3v3h-3zM1629,461h3v3h-3zM1629,450h3v3h-3zM1630,452h3v3h-3zM1630,460h3v3h-3zM1631,440h3v3h-3zM1631,412h3v3h-3zM1632,404h3v3h-3zM1632,516h3v3h-3zM1633,437h3v3h-3zM1633,447h3v3h-3zM1633,446h3v3h-3zM1634,417h3v3h-3zM1634,436h3v3h-3zM1635,419h3v3h-3zM1635,516h3v3h-3zM1636,467h3v3h-3zM1636,448h3v3h-3zM1637,445h3v3h-3zM1637,401h3v3h-3zM1638,410h3v3h-3zM1638,431h3v3h-3zM1638,447h3v3h-3zM1639,458h3v3h-3zM1639,425h3v3h-3zM1640,459h3v3h-3zM1640,461h3v3h-3zM1641,453h3v3h-3zM1641,446h3v3h-3zM1642,427h3v3h-3zM1642,448h3v3h-3zM1642,398h3v3h-3zM1643,438h3v3h-3zM1643,404h3v3h-3zM1644,496h3v3h-3zM1644,378h3v3h-3zM1645,433h3v3h-3zM1645,419h3v3h-3zM1646,433h3v3h-3zM1646,458h3v3h-3zM1647,480h3v3h-3zM1647,480h3v3h-3zM1647,459h3v3h-3zM1648,466h3v3h-3zM1648,446h3v3h-3zM1649,446h3v3h-3zM1649,476h3v3h-3zM1650,440h3v3h-3zM1650,425h3v3h-3zM1651,455h3v3h-3zM1651,460h3v3h-3zM1651,386h3v3h-3zM1652,450h3v3h-3zM1652,482h3v3h-3zM1653,425h3v3h-3zM1653,445h3v3h-3zM1654,439h3v3h-3zM1654,435h3v3h-3zM1655,410h3v3h-3zM1655,425h3v3h-3zM1656,435h3v3h-3zM1656,442h3v3h-3zM1656,472h3v3h-3zM1657,447h3v3h-3zM1657,431h3v3h-3zM1658,460h3v3h-3zM1658,449h3v3h-3zM1659,568h3v3h-3zM1659,469h3v3h-3zM1660,560h3v3h-3zM1660,536h3v3h-3zM1660,407h3v3h-3zM1661,456h3v3h-3zM1661,435h3v3h-3zM1662,461h3v3h-3zM1662,511h3v3h-3zM1663,500h3v3h-3zM1663,505h3v3h-3zM1664,482h3v3h-3zM1664,446h3v3h-3zM1665,486h3v3h-3zM1665,477h3v3h-3zM1665,488h3v3h-3zM1666,464h3v3h-3zM1666,491h3v3h-3zM1667,459h3v3h-3zM1667,436h3v3h-3zM1668,458h3v3h-3zM1668,496h3v3h-3zM1669,418h3v3h-3zM1669,502h3v3h-3zM1670,439h3v3h-3zM1670,439h3v3h-3zM1670,466h3v3h-3zM1671,475h3v3h-3zM1671,462h3v3h-3zM1672,473h3v3h-3zM1672,463h3v3h-3zM1673,459h3v3h-3zM1673,429h3v3h-3zM1674,480h3v3h-3zM1674,458h3v3h-3zM1674,463h3v3h-3zM1675,457h3v3h-3zM1675,448h3v3h-3zM1676,470h3v3h-3zM1676,482h3v3h-3zM1677,469h3v3h-3zM1677,481h3v3h-3zM1678,463h3v3h-3zM1678,471h3v3h-3zM1679,507h3v3h-3zM1679,459h3v3h-3zM1679,450h3v3h-3zM1680,452h3v3h-3zM1680,465h3v3h-3zM1681,471h3v3h-3zM1681,459h3v3h-3zM1682,474h3v3h-3zM1682,494h3v3h-3zM1683,472h3v3h-3zM1683,492h3v3h-3zM1683,430h3v3h-3zM1684,477h3v3h-3zM1684,471h3v3h-3zM1685,437h3v3h-3zM1685,460h3v3h-3zM1686,492h3v3h-3zM1686,556h3v3h-3zM1687,455h3v3h-3zM1687,463h3v3h-3zM1688,437h3v3h-3zM1688,474h3v3h-3zM1688,495h3v3h-3zM1689,475h3v3h-3zM1689,466h3v3h-3zM1690,472h3v3h-3zM1690,450h3v3h-3zM1691,475h3v3h-3zM1691,460h3v3h-3zM1692,477h3v3h-3zM1692,509h3v3h-3zM1693,472h3v3h-3zM1693,377h3v3h-3zM1693,462h3v3h-3zM1694,519h3v3h-3zM1694,494h3v3h-3zM1695,489h3v3h-3zM1695,509h3v3h-3zM1696,440h3v3h-3zM1696,448h3v3h-3zM1697,428h3v3h-3zM1697,451h3v3h-3zM1697,456h3v3h-3zM1698,451h3v3h-3zM1698,471h3v3h-3zM1699,490h3v3h-3zM1699,477h3v3h-3zM1700,462h3v3h-3zM1700,486h3v3h-3zM1701,481h3v3h-3zM1701,496h3v3h-3zM1702,400h3v3h-3zM1702,459h3v3h-3zM1702,427h3v3h-3zM1703,414h3v3h-3zM1703,418h3v3h-3zM1704,451h3v3h-3zM1704,472h3v3h-3zM1705,508h3v3h-3zM1705,438h3v3h-3zM1706,415h3v3h-3zM1706,451h3v3h-3zM1706,433h3v3h-3zM1707,452h3v3h-3zM1707,452h3v3h-3zM1708,424h3v3h-3zM1708,451h3v3h-3zM1709,442h3v3h-3zM1709,491h3v3h-3zM1710,488h3v3h-3zM1710,445h3v3h-3zM1711,433h3v3h-3zM1711,528h3v3h-3zM1711,565h3v3h-3zM1712,418h3v3h-3zM1712,485h3v3h-3zM1713,459h3v3h-3zM1713,475h3v3h-3zM1714,439h3v3h-3zM1714,462h3v3h-3zM1715,470h3v3h-3zM1715,487h3v3h-3zM1716,423h3v3h-3zM1716,466h3v3h-3zM1716,448h3v3h-3zM1717,474h3v3h-3zM1717,465h3v3h-3zM1718,474h3v3h-3zM1718,416h3v3h-3zM1719,449h3v3h-3zM1719,434h3v3h-3zM1720,441h3v3h-3zM1720,508h3v3h-3zM1720,485h3v3h-3zM1721,528h3v3h-3zM1721,516h3v3h-3zM1722,512h3v3h-3zM1722,440h3v3h-3zM1723,464h3v3h-3zM1723,418h3v3h-3zM1724,446h3v3h-3zM1724,448h3v3h-3zM1725,479h3v3h-3zM1725,461h3v3h-3zM1725,425h3v3h-3zM1726,491h3v3h-3zM1726,403h3v3h-3zM1727,468h3v3h-3zM1727,434h3v3h-3zM1728,482h3v3h-3zM1728,497h3v3h-3zM1729,497h3v3h-3zM1729,492h3v3h-3zM1729,414h3v3h-3zM1730,467h3v3h-3zM1730,417h3v3h-3zM1731,453h3v3h-3zM1731,474h3v3h-3zM1732,493h3v3h-3zM1732,448h3v3h-3zM1733,455h3v3h-3zM1733,441h3v3h-3zM1734,430h3v3h-3zM1734,461h3v3h-3zM1734,422h3v3h-3zM1735,436h3v3h-3zM1735,466h3v3h-3zM1736,373h3v3h-3zM1736,427h3v3h-3zM1737,459h3v3h-3zM1737,472h3v3h-3zM1738,471h3v3h-3zM1738,446h3v3h-3zM1738,440h3v3h-3zM1739,482h3v3h-3zM1739,495h3v3h-3zM1740,492h3v3h-3zM1740,489h3v3h-3zM1741,480h3v3h-3zM1741,443h3v3h-3zM1742,502h3v3h-3zM1742,426h3v3h-3zM1743,437h3v3h-3zM1743,455h3v3h-3zM1743,453h3v3h-3zM1744,445h3v3h-3zM1744,469h3v3h-3zM1745,471h3v3h-3zM1745,475h3v3h-3zM1746,487h3v3h-3zM1746,485h3v3h-3zM1747,472h3v3h-3zM1747,482h3v3h-3zM1748,425h3v3h-3zM1748,414h3v3h-3zM1748,458h3v3h-3zM1749,475h3v3h-3zM1749,535h3v3h-3zM1750,493h3v3h-3zM1750,489h3v3h-3zM1751,511h3v3h-3zM1751,481h3v3h-3zM1752,475h3v3h-3zM1752,466h3v3h-3zM1752,466h3v3h-3zM1753,484h3v3h-3zM1753,486h3v3h-3zM1754,479h3v3h-3zM1754,465h3v3h-3zM1755,480h3v3h-3zM1755,484h3v3h-3zM1756,461h3v3h-3zM1756,469h3v3h-3zM1757,463h3v3h-3zM1757,464h3v3h-3zM1757,423h3v3h-3zM1758,423h3v3h-3zM1758,430h3v3h-3zM1759,472h3v3h-3zM1759,498h3v3h-3zM1760,476h3v3h-3zM1760,457h3v3h-3zM1761,410h3v3h-3zM1761,475h3v3h-3zM1761,469h3v3h-3zM1762,495h3v3h-3zM1762,480h3v3h-3zM1763,460h3v3h-3zM1763,452h3v3h-3zM1764,429h3v3h-3zM1764,450h3v3h-3zM1765,450h3v3h-3zM1765,468h3v3h-3zM1766,465h3v3h-3zM1766,490h3v3h-3zM1766,432h3v3h-3zM1767,483h3v3h-3zM1767,500h3v3h-3zM1768,493h3v3h-3zM1768,500h3v3h-3zM1769,480h3v3h-3zM1769,466h3v3h-3zM1770,466h3v3h-3zM1770,464h3v3h-3zM1771,470h3v3h-3zM1771,507h3v3h-3zM1771,458h3v3h-3zM1772,470h3v3h-3zM1772,464h3v3h-3zM1773,446h3v3h-3zM1773,424h3v3h-3zM1774,445h3v3h-3zM1774,460h3v3h-3zM1775,420h3v3h-3zM1775,433h3v3h-3zM1775,403h3v3h-3zM1776,441h3v3h-3zM1776,467h3v3h-3zM1777,479h3v3h-3zM1777,463h3v3h-3zM1778,471h3v3h-3zM1778,484h3v3h-3zM1779,491h3v3h-3zM1779,481h3v3h-3zM1780,470h3v3h-3zM1780,455h3v3h-3zM1780,444h3v3h-3zM1781,445h3v3h-3zM1781,450h3v3h-3zM1782,442h3v3h-3zM1782,501h3v3h-3zM1783,462h3v3h-3zM1783,440h3v3h-3zM1784,451h3v3h-3zM1784,450h3v3h-3zM1784,395h3v3h-3zM1785,486h3v3h-3zM1785,468h3v3h-3zM1786,470h3v3h-3zM1786,453h3v3h-3zM1787,474h3v3h-3zM1787,480h3v3h-3zM1788,481h3v3h-3zM1788,461h3v3h-3zM1789,437h3v3h-3zM1789,479h3v3h-3zM1789,480h3v3h-3zM1790,502h3v3h-3zM1790,459h3v3h-3zM1791,450h3v3h-3zM1791,444h3v3h-3zM1792,436h3v3h-3zM1792,465h3v3h-3zM1793,454h3v3h-3zM1793,432h3v3h-3zM1794,455h3v3h-3zM1794,460h3v3h-3zM1794,453h3v3h-3zM1795,474h3v3h-3zM1795,514h3v3h-3zM1796,501h3v3h-3zM1796,473h3v3h-3zM1797,459h3v3h-3zM1797,476h3v3h-3zM1798,477h3v3h-3zM1798,563h3v3h-3zM1798,481h3v3h-3zM1799,425h3v3h-3zM1799,492h3v3h-3zM1800,463h3v3h-3zM1800,481h3v3h-3zM1801,465h3v3h-3zM1801,465h3v3h-3zM1802,481h3v3h-3zM1802,478h3v3h-3zM1803,475h3v3h-3zM1803,499h3v3h-3zM1803,478h3v3h-3zM1804,479h3v3h-3zM1804,442h3v3h-3zM1805,465h3v3h-3zM1805,435h3v3h-3zM1806,472h3v3h-3zM1806,508h3v3h-3zM1807,474h3v3h-3zM1807,490h3v3h-3zM1807,477h3v3h-3zM1808,547h3v3h-3zM1808,448h3v3h-3zM1809,481h3v3h-3zM1809,458h3v3h-3zM1810,438h3v3h-3zM1810,474h3v3h-3zM1811,426h3v3h-3zM1811,434h3v3h-3zM1812,450h3v3h-3zM1812,455h3v3h-3zM1812,418h3v3h-3zM1813,465h3v3h-3zM1813,436h3v3h-3zM1814,467h3v3h-3zM1814,434h3v3h-3zM1815,467h3v3h-3zM1815,496h3v3h-3zM1816,471h3v3h-3zM1816,445h3v3h-3zM1816,456h3v3h-3zM1817,446h3v3h-3zM1817,484h3v3h-3zM1818,464h3v3h-3zM1818,507h3v3h-3zM1819,469h3v3h-3zM1819,433h3v3h-3zM1820,484h3v3h-3zM1820,474h3v3h-3zM1821,365h3v3h-3zM1821,469h3v3h-3zM1821,467h3v3h-3zM1822,457h3v3h-3zM1822,450h3v3h-3zM1823,441h3v3h-3zM1823,455h3v3h-3zM1824,462h3v3h-3zM1824,456h3v3h-3zM1825,480h3v3h-3zM1825,476h3v3h-3zM1826,466h3v3h-3zM1826,462h3v3h-3zM1826,436h3v3h-3zM1827,416h3v3h-3zM1827,496h3v3h-3zM1828,444h3v3h-3zM1828,484h3v3h-3zM1829,465h3v3h-3zM1829,462h3v3h-3zM1830,491h3v3h-3zM1830,487h3v3h-3zM1830,403h3v3h-3zM1831,413h3v3h-3zM1831,421h3v3h-3zM1832,443h3v3h-3zM1832,437h3v3h-3zM1833,449h3v3h-3zM1833,486h3v3h-3zM1834,443h3v3h-3zM1834,475h3v3h-3zM1835,461h3v3h-3zM1835,455h3v3h-3zM1835,425h3v3h-3zM1836,466h3v3h-3zM1836,488h3v3h-3zM1837,457h3v3h-3zM1837,478h3v3h-3zM1838,477h3v3h-3zM1838,451h3v3h-3zM1839,409h3v3h-3zM1839,467h3v3h-3zM1839,502h3v3h-3zM1840,404h3v3h-3zM1840,466h3v3h-3zM1841,461h3v3h-3zM1841,433h3v3h-3zM1842,431h3v3h-3zM1842,512h3v3h-3zM1843,449h3v3h-3zM1843,441h3v3h-3zM1844,418h3v3h-3zM1844,487h3v3h-3zM1844,480h3v3h-3zM1845,444h3v3h-3zM1845,465h3v3h-3zM1846,476h3v3h-3zM1846,470h3v3h-3zM1847,430h3v3h-3zM1847,428h3v3h-3zM1848,450h3v3h-3zM1848,419h3v3h-3zM1849,455h3v3h-3zM1849,464h3v3h-3zM1849,448h3v3h-3zM1850,463h3v3h-3zM1850,470h3v3h-3zM1851,473h3v3h-3zM1851,477h3v3h-3zM1852,410h3v3h-3zM1852,1066h3v3h-3zM1853,510h3v3h-3zM1853,457h3v3h-3zM1853,431h3v3h-3zM1854,440h3v3h-3zM1854,438h3v3h-3zM1855,426h3v3h-3zM1855,444h3v3h-3zM1856,436h3v3h-3zM1856,439h3v3h-3zM1857,416h3v3h-3zM1857,434h3v3h-3zM1858,450h3v3h-3zM1858,419h3v3h-3zM1858,477h3v3h-3zM1859,447h3v3h-3zM1859,356h3v3h-3zM1860,438h3v3h-3zM1860,470h3v3h-3zM1861,455h3v3h-3zM1861,462h3v3h-3zM1862,443h3v3h-3zM1862,465h3v3h-3zM1862,432h3v3h-3zM1863,453h3v3h-3zM1863,440h3v3h-3zM1864,458h3v3h-3zM1864,458h3v3h-3zM1865,468h3v3h-3zM1865,514h3v3h-3zM1866,429h3v3h-3zM1866,466h3v3h-3zM1867,471h3v3h-3zM1867,411h3v3h-3zM1867,473h3v3h-3zM1868,457h3v3h-3zM1868,457h3v3h-3zM1869,429h3v3h-3zM1869,451h3v3h-3zM1870,474h3v3h-3zM1870,478h3v3h-3zM1871,508h3v3h-3zM1871,469h3v3h-3zM1871,480h3v3h-3zM1872,462h3v3h-3zM1872,464h3v3h-3zM1873,458h3v3h-3zM1873,459h3v3h-3zM1874,452h3v3h-3zM1874,447h3v3h-3zM1875,461h3v3h-3zM1875,467h3v3h-3zM1876,455h3v3h-3zM1876,455h3v3h-3zM1876,460h3v3h-3zM1877,459h3v3h-3zM1877,435h3v3h-3zM1878,440h3v3h-3zM1878,482h3v3h-3zM1879,465h3v3h-3zM1879,446h3v3h-3zM1880,447h3v3h-3zM1880,446h3v3h-3zM1881,435h3v3h-3zM1881,411h3v3h-3zM1881,458h3v3h-3zM1882,468h3v3h-3zM1882,455h3v3h-3zM1883,421h3v3h-3zM1883,438h3v3h-3zM1884,470h3v3h-3zM1884,439h3v3h-3zM1885,448h3v3h-3zM1885,554h3v3h-3zM1885,443h3v3h-3zM1886,444h3v3h-3zM1886,462h3v3h-3zM1887,456h3v3h-3zM1887,493h3v3h-3zM1888,406h3v3h-3zM1888,497h3v3h-3zM1889,488h3v3h-3zM1889,427h3v3h-3zM1890,436h3v3h-3zM1890,447h3v3h-3zM1890,452h3v3h-3zM1891,422h3v3h-3zM1891,530h3v3h-3zM1892,486h3v3h-3zM1892,470h3v3h-3zM1893,455h3v3h-3zM1893,429h3v3h-3zM1894,455h3v3h-3zM1894,474h3v3h-3zM1894,482h3v3h-3zM1895,488h3v3h-3zM1895,462h3v3h-3zM1896,452h3v3h-3zM1896,439h3v3h-3zM1897,457h3v3h-3zM1897,474h3v3h-3zM1898,462h3v3h-3zM1898,397h3v3h-3zM1899,472h3v3h-3zM1899,455h3v3h-3zM1899,464h3v3h-3zM1900,435h3v3h-3zM1900,450h3v3h-3zM1901,473h3v3h-3zM1901,446h3v3h-3zM1902,498h3v3h-3zM1902,434h3v3h-3zM1903,417h3v3h-3zM1903,428h3v3h-3zM1904,493h3v3h-3zM1904,464h3v3h-3zM1904,389h3v3h-3zM1905,441h3v3h-3zM1905,450h3v3h-3zM1906,409h3v3h-3zM1906,443h3v3h-3zM1907,407h3v3h-3zM1907,479h3v3h-3zM1908,476h3v3h-3zM1908,476h3v3h-3zM1908,398h3v3h-3zM1909,429h3v3h-3zM1909,507h3v3h-3zM1910,391h3v3h-3zM1910,414h3v3h-3zM1911,433h3v3h-3zM1911,493h3v3h-3zM1912,445h3v3h-3zM1912,425h3v3h-3zM1913,440h3v3h-3zM1913,408h3v3h-3zM1913,467h3v3h-3zM1914,456h3v3h-3zM1914,442h3v3h-3zM1915,519h3v3h-3zM1915,429h3v3h-3zM1916,388h3v3h-3zM1916,467h3v3h-3zM1917,454h3v3h-3zM1917,442h3v3h-3zM1917,467h3v3h-3zM1918,462h3v3h-3zM1918,459h3v3h-3zM1919,451h3v3h-3zM1919,470h3v3h-3zM1920,441h3v3h-3zM1920,467h3v3h-3zM1921,493h3v3h-3zM1921,469h3v3h-3zM1922,368h3v3h-3zM1922,466h3v3h-3zM1922,433h3v3h-3zM1923,441h3v3h-3zM1923,473h3v3h-3zM1924,483h3v3h-3zM1924,493h3v3h-3zM1925,493h3v3h-3zM1925,448h3v3h-3zM1926,462h3v3h-3zM1926,438h3v3h-3zM1927,439h3v3h-3zM1927,453h3v3h-3zM1927,446h3v3h-3zM1928,429h3v3h-3zM1928,467h3v3h-3zM1929,440h3v3h-3zM1929,450h3v3h-3zM1930,484h3v3h-3zM1930,462h3v3h-3zM1931,469h3v3h-3zM1931,453h3v3h-3zM1931,529h3v3h-3zM1932,487h3v3h-3zM1932,457h3v3h-3zM1933,459h3v3h-3zM1933,458h3v3h-3zM1934,454h3v3h-3zM1934,463h3v3h-3zM1935,480h3v3h-3zM1935,460h3v3h-3zM1936,436h3v3h-3zM1936,439h3v3h-3zM1936,437h3v3h-3zM1937,434h3v3h-3zM1937,439h3v3h-3zM1938,507h3v3h-3zM1938,465h3v3h-3zM1939,397h3v3h-3zM1939,459h3v3h-3zM1940,444h3v3h-3zM1940,463h3v3h-3zM1940,451h3v3h-3zM1941,482h3v3h-3zM1941,418h3v3h-3zM1942,470h3v3h-3zM1942,459h3v3h-3zM1943,438h3v3h-3zM1943,425h3v3h-3zM1944,480h3v3h-3zM1944,459h3v3h-3zM1945,460h3v3h-3zM1945,458h3v3h-3zM1945,466h3v3h-3zM1946,483h3v3h-3zM1946,479h3v3h-3zM1947,460h3v3h-3zM1947,475h3v3h-3zM1948,487h3v3h-3zM1948,462h3v3h-3zM1949,460h3v3h-3zM1949,469h3v3h-3zM1949,478h3v3h-3zM1950,446h3v3h-3zM1950,447h3v3h-3zM1951,433h3v3h-3zM1951,456h3v3h-3zM1952,453h3v3h-3zM1952,474h3v3h-3zM1953,411h3v3h-3zM1953,466h3v3h-3zM1954,451h3v3h-3zM1954,432h3v3h-3zM1954,446h3v3h-3zM1955,449h3v3h-3zM1955,424h3v3h-3zM1956,486h3v3h-3zM1956,464h3v3h-3zM1957,459h3v3h-3zM1957,460h3v3h-3zM1958,471h3v3h-3zM1958,452h3v3h-3zM1959,477h3v3h-3zM1959,480h3v3h-3zM1959,434h3v3h-3z"/></defs>
<use href="#pd" fill="#4E83AF" stroke="#4E83AF" stroke-width="8" stroke-linejoin="round"/>
<use href="#pd" fill="#5889B2" stroke="#5889B2" stroke-width="6" stroke-linejoin="round"/>
<path d="M217,431 217.5,431.4 217.9,488.5 218.4,459.5 218.8,455.4 219.3,478.1 219.7,472.7 220.2,508.4 220.6,446.3 221.1,459.3 221.5,462.1 222,470.1 222.4,434.4 222.9,488.2 223.3,474.1 223.8,470.4 224.2,469 224.7,441.4 225.1,456.5 225.6,495 226,458.4 226.5,487.9 226.9,487.4 227.4,419 227.8,463.3 228.3,443.4 228.7,446.6 229.2,509.6 229.6,388.8 230.1,301.3 230.5,474 231,452.6 231.4,487.4 231.9,461.6 232.3,462.2 232.8,444.5 233.2,435.8 233.7,420.3 234.1,478.4 234.6,518.3 235,488.9 235.5,493.5 235.9,443.9 236.4,442 236.8,446.2 237.3,467.5 237.7,465.2 238.2,476.6 238.6,471.7 239.1,574.1 239.5,467.6 240,459.6 240.4,471.6 240.9,432.7 241.3,499 241.8,457.9 242.2,488.4 242.7,473.3 243.1,454 243.6,452.2 244.1,446.5 244.5,520.8 245,449.2 245.4,458.5 245.9,456.2 246.3,417 246.8,448.7 247.2,445 247.7,461.1 248.1,436.5 248.6,440 249,465 249.5,466.5 249.9,471.5 250.4,463.4 250.8,217.7 251.3,457 251.7,437.5 252.2,437.5 252.6,450.9 253.1,386 253.5,499.7 254,373 254.4,460.1 254.9,357 255.3,481.7 255.8,485.2 256.2,455.5 256.7,369 257.1,441.7 257.6,381 258,460.9 258.5,435.6 258.9,460.2 259.4,469.8 259.8,454.8 260.3,443.6 260.7,169.2 261.2,517 261.6,449.9 262.1,431.2 262.5,462.6 263,464.4 263.4,484 263.9,433.7 264.3,518.3 264.8,474.2 265.2,486.9 265.7,416.6 266.1,469.5 266.6,490 267,456.1 267.5,427.5 267.9,423.3 268.4,443.5 268.8,483.4 269.3,462.3 269.8,467.8 270.2,467.8 270.7,467.1 271.1,457.8 271.6,480.3 272,507.1 272.5,452.5 272.9,421.5 273.4,459.7 273.8,471.4 274.3,474.5 274.7,461.2 275.2,488.2 275.6,470 276.1,450.3 276.5,463.7 277,452.8 277.4,453.3 277.9,447 278.3,447.5 278.8,392.5 279.2,406.3 279.7,406.3 280.1,427.7 280.6,447.4 281,432.8 281.5,485.7 281.9,508.4 282.4,476.9 282.8,444.5 283.3,480.4 283.7,494.6 284.2,464.1 284.6,435 285.1,429.7 285.5,406.6 286,443.3 286.4,455.7 286.9,502.2 287.3,453.9 287.8,457.3 288.2,463 288.7,433.1 289.1,457.5 289.6,424.9 290,409.2 290.5,419.6 290.9,437.1 291.4,425.2 291.8,419.7 292.3,456.6 292.7,432.1 293.2,436.8 293.6,399.2 294.1,420.2 294.5,433.9 295,460.8 295.4,441.6 295.9,453.3 296.4,469.4 296.8,438.1 297.3,458.6 297.7,480.4 298.2,489.8 298.6,434.6 299.1,440.6 299.5,435.2 300,414.5 300.4,481.3 300.9,485.4 301.3,417.8 301.8,428.8 302.2,416.4 302.7,399.9 303.1,415.9 303.6,455 304,456.2 304.5,438 304.9,439 305.4,434.7 305.8,530 306.3,464 306.7,473.5 307.2,445.5 307.6,456.5 308.1,441.9 308.5,420.5 309,423.2 309.4,443.6 309.9,426.1 310.3,432.8 310.8,510.8 311.2,426.7 311.7,433.7 312.1,433.3 312.6,444.8 313,454.2 313.5,460.8 313.9,475.6 314.4,453.8 314.8,454.4 315.3,443 315.7,431.2 316.2,472.8 316.6,426 317.1,434.5 317.5,451.5 318,458.2 318.4,461.6 318.9,484.8 319.3,468.9 319.8,464.8 320.2,453.8 320.7,456.4 321.1,458.9 321.6,447.8 322,449.1 322.5,458.3 323,517 323.4,439.4 323.9,460.1 324.3,445.8 324.8,434.3 325.2,457.1 325.7,443.9 326.1,459.1 326.6,467.9 327,462 327.5,469.7 327.9,444 328.4,472.2 328.8,476.4 329.3,432.3 329.7,440.3 330.2,502.2 330.6,452.4 331.1,440.2 331.5,458.9 332,465.4 332.4,435.2 332.9,478 333.3,485.4 333.8,468.7 334.2,451.2 334.7,479.7 335.1,482.3 335.6,466.5 336,432.1 336.5,444.4 336.9,460.3 337.4,461.8 337.8,425.2 338.3,471.2 338.7,496.7 339.2,477.8 339.6,469.3 340.1,485.6 340.5,494.8 341,470.7 341.4,478.3 341.9,448.5 342.3,461.8 342.8,440.9 343.2,472.1 343.7,449.8 344.1,448.6 344.6,444 345,458 345.5,486.7 345.9,461.1 346.4,449.7 346.8,460.8 347.3,439.1 347.7,470.4 348.2,503.9 348.7,462.3 349.1,465 349.6,452.8 350,448.4 350.5,464.7 350.9,459.6 351.4,449.7 351.8,443.4 352.3,454.2 352.7,454.6 353.2,469 353.6,464.4 354.1,491.2 354.5,470.9 355,429 355.4,450.2 355.9,479.5 356.3,493.4 356.8,467.1 357.2,458 357.7,497.2 358.1,449.9 358.6,448.8 359,459.6 359.5,487.3 359.9,449.7 360.4,440.5 360.8,453.6 361.3,463.1 361.7,466.8 362.2,453.3 362.6,439.1 363.1,477.4 363.5,444.9 364,452.5 364.4,453.9 364.9,452.5 365.3,454.6 365.8,415.3 366.2,462.4 366.7,472.5 367.1,489.6 367.6,475.8 368,458.2 368.5,470.1 368.9,476.9 369.4,458.3 369.8,445.7 370.3,448.4 370.7,445.1 371.2,458.8 371.6,456.7 372.1,446.7 372.5,434.5 373,438.3 373.4,449.9 373.9,402.9 374.3,479.7 374.8,480.2 375.3,490.2 375.7,491.3 376.2,471.8 376.6,471.7 377.1,441.4 377.5,450.9 378,506.6 378.4,472.5 378.9,467.6 379.3,460.4 379.8,475.1 380.2,453.3 380.7,447.7 381.1,435.2 381.6,440.9 382,457.3 382.5,438 382.9,482.8 383.4,470.9 383.8,491.8 384.3,494.4 384.7,492.4 385.2,471.5 385.6,479.4 386.1,468 386.5,466.2 387,497.7 387.4,491.2 387.9,478.5 388.3,431.8 388.8,456.1 389.2,452.6 389.7,525.7 390.1,449.1 390.6,455.6 391,442.5 391.5,482 391.9,473.6 392.4,501.5 392.8,491.9 393.3,476.3 393.7,443.7 394.2,451.4 394.6,464.4 395.1,466.3 395.5,463.7 396,517 396.4,498.3 396.9,478.6 397.3,486.5 397.8,435.7 398.2,453.5 398.7,347.1 399.1,504.6 399.6,451.2 400,452.6 400.5,418.5 400.9,402.9 401.4,470.5 401.9,431.7 402.3,442.2 402.8,439.2 403.2,447.8 403.7,431.2 404.1,446.1 404.6,469 405,427 405.5,489 405.9,488.5 406.4,475.5 406.8,460.8 407.3,418.6 407.7,419.5 408.2,433.3 408.6,449.7 409.1,493 409.5,444.2 410,441.9 410.4,441.4 410.9,448.5 411.3,460.9 411.8,441.2 412.2,497 412.7,431.8 413.1,436.7 413.6,431.4 414,451 414.5,382.6 414.9,499.7 415.4,464.2 415.8,459.9 416.3,444.3 416.7,440.1 417.2,500.5 417.6,425.1 418.1,436.2 418.5,456.7 419,406.6 419.4,439.9 419.9,443.8 420.3,449 420.8,500.8 421.2,453.1 421.7,439.2 422.1,422 422.6,484.3 423,413.9 423.5,415.8 423.9,420.7 424.4,499.7 424.8,446.5 425.3,418.3 425.7,414.6 426.2,494 426.6,422.2 427.1,406.8 427.6,417.3 428,444.3 428.5,436.8 428.9,498 429.4,439.8 429.8,432.5 430.3,460.7 430.7,424.9 431.2,389.3 431.6,444.1 432.1,443.5 432.5,221.2 433,499.7 433.4,458.1 433.9,453.6 434.3,296.2 434.8,455.2 435.2,459.9 435.7,453.8 436.1,486.6 436.6,436.1 437,366.9 437.5,412.3 437.9,435.2 438.4,445.3 438.8,459.5 439.3,446.1 439.7,462 440.2,439.8 440.6,480.1 441.1,470.2 441.5,447.6 442,452.2 442.4,442.6 442.9,446.8 443.3,441 443.8,448.8 444.2,479.8 444.7,463.4 445.1,451.5 445.6,456.5 446,431.3 446.5,445.3 446.9,428.9 447.4,434.3 447.8,451 448.3,467.7 448.7,476.3 449.2,425.2 449.6,469.8 450.1,477.6 450.5,472.7 451,461.9 451.4,453.6 451.9,496.2 452.3,477.4 452.8,455.8 453.2,448.6 453.7,519.5 454.2,513.3 454.6,478.3 455.1,442.6 455.5,474.2 456,454.7 456.4,461.8 456.9,479.5 457.3,478.2 457.8,464 458.2,453.2 458.7,448.3 459.1,474.6 459.6,466.3 460,475.4 460.5,424.2 460.9,406.1 461.4,440.6 461.8,438.8 462.3,427.2 462.7,446 463.2,481.1 463.6,419.9 464.1,447.9 464.5,454.5 465,451 465.4,456.7 465.9,432.4 466.3,467.9 466.8,467 467.2,485.3 467.7,443.6 468.1,425.2 468.6,452 469,472.1 469.5,460.1 469.9,461.8 470.4,458 470.8,426.1 471.3,426.6 471.7,460.5 472.2,499.4 472.6,499.9 473.1,530.2 473.5,479.1 474,457.2 474.4,476.5 474.9,504.8 475.3,491 475.8,500.7 476.2,359.5 476.7,480.9 477.1,477.1 477.6,453.5 478,431.8 478.5,414.7 478.9,447.6 479.4,424.6 479.8,462 480.3,454.3 480.8,450.5 481.2,429.5 481.7,452.1 482.1,436.8 482.6,478.9 483,480.5 483.5,433.8 483.9,456.1 484.4,415.9 484.8,454.6 485.3,414.3 485.7,417 486.2,360.7 486.6,469.3 487.1,495.6 487.5,426.8 488,458.6 488.4,441.7 488.9,450.6 489.3,452.3 489.8,424.1 490.2,425.1 490.7,442.3 491.1,476.5 491.6,461.2 492,491.1 492.5,478.3 492.9,477.3 493.4,501.8 493.8,411.1 494.3,443.6 494.7,421.8 495.2,451.9 495.6,442.9 496.1,467 496.5,508.4 497,528.7 497.4,478.3 497.9,478.4 498.3,472.1 498.8,455.1 499.2,470.2 499.7,467.7 500.1,452.7 500.6,467.4 501,447.2 501.5,433.5 501.9,461.6 502.4,437.6 502.8,420.3 503.3,492.5 503.7,472 504.2,451.1 504.6,449.5 505.1,498.4 505.5,459 506,486.8 506.5,420.4 506.9,468.2 507.4,475.1 507.8,436.8 508.3,433.3 508.7,435.7 509.2,450 509.6,428.8 510.1,437.7 510.5,458.1 511,426.5 511.4,496.9 511.9,493.5 512.3,471.1 512.8,440.3 513.2,440.7 513.7,440.3 514.1,430.7 514.6,419.3 515,436.9 515.5,446.9 515.9,427.7 516.4,398.4 516.8,445.6 517.3,450.8 517.7,517.5 518.2,491.6 518.6,461.4 519.1,470.9 519.5,448.1 520,417.3 520.4,453.8 520.9,461.4 521.3,470.1 521.8,453.8 522.2,461.6 522.7,460.6 523.1,417.7 523.6,431.5 524,411.1 524.5,338.4 524.9,418.1 525.4,429.4 525.8,452.6 526.3,410.7 526.7,417.7 527.2,442.7 527.6,494.7 528.1,415.1 528.5,469.1 529,507.1 529.4,447.7 529.9,434.8 530.3,449.8 530.8,435.8 531.2,435.6 531.7,442.7 532.1,459 532.6,460.7 533.1,462.6 533.5,454.5 534,446.8 534.4,371.4 534.9,467.8 535.3,414.4 535.8,444.2 536.2,439.9 536.7,446 537.1,432.8 537.6,460.8 538,472.1 538.5,434.4 538.9,429.6 539.4,423.5 539.8,425.6 540.3,422.4 540.7,442.6 541.2,460.4 541.6,448.2 542.1,471.8 542.5,497.2 543,472.8 543.4,462.9 543.9,464.6 544.3,451 544.8,484.4 545.2,481.2 545.7,475.1 546.1,465.7 546.6,440.5 547,445.9 547.5,435.2 547.9,446.2 548.4,484.3 548.8,464.7 549.3,486.7 549.7,451.9 550.2,473.1 550.6,462 551.1,507.1 551.5,461.4 552,491.1 552.4,523.7 552.9,476.6 553.3,461.3 553.8,476.1 554.2,456.8 554.7,460.5 555.1,471 555.6,481 556,487.4 556.5,463.6 556.9,475.5 557.4,432.5 557.8,435.1 558.3,425.3 558.7,458.5 559.2,412.8 559.7,445.7 560.1,450.7 560.6,458.1 561,498.4 561.5,482.9 561.9,462.3 562.4,464.3 562.8,446 563.3,431.4 563.7,434 564.2,446.1 564.6,461.1 565.1,450.5 565.5,448.3 566,430.4 566.4,440.7 566.9,424.1 567.3,457.7 567.8,459 568.2,451.2 568.7,473.4 569.1,484.9 569.6,481.3 570,485.5 570.5,472.4 570.9,452.6 571.4,399.9 571.8,450.7 572.3,500.9 572.7,445.7 573.2,443.6 573.6,452.7 574.1,433.2 574.5,457 575,418.8 575.4,443.1 575.9,447.1 576.3,403.1 576.8,458.2 577.2,427.5 577.7,446.2 578.1,465.8 578.6,456.8 579,546.8 579.5,369.9 579.9,391 580.4,431.1 580.8,439.8 581.3,350.8 581.7,490.5 582.2,479.9 582.6,463.7 583.1,465.1 583.5,459 584,407 584.4,426.5 584.9,462.8 585.4,434.9 585.8,416.2 586.3,513.3 586.7,432.7 587.2,430 587.6,477.3 588.1,463.6 588.5,470.2 589,454.9 589.4,493.2 589.9,464.5 590.3,455.3 590.8,468.1 591.2,453.9 591.7,415.8 592.1,466 592.6,438.3 593,439.1 593.5,450.5 593.9,441.3 594.4,480 594.8,461 595.3,443.9 595.7,502.2 596.2,459.7 596.6,466.8 597.1,460.1 597.5,463.1 598,465.2 598.4,446.2 598.9,468 599.3,411.6 599.8,444.2 600.2,463 600.7,459.2 601.1,442 601.6,432 602,495.1 602.5,487.9 602.9,461.3 603.4,459.6 603.8,295 604.3,469.3 604.7,434.3 605.2,461.2 605.6,451.5 606.1,461.3 606.5,461.3 607,425.9 607.4,434.2 607.9,475.8 608.3,514.6 608.8,476 609.2,465.2 609.7,419.4 610.1,314 610.6,448.4 611,424.4 611.5,436.6 612,500.9 612.4,445.1 612.9,435 613.3,477.7 613.8,491.2 614.2,465.9 614.7,477 615.1,450.4 615.6,461.7 616,423.7 616.5,438.8 616.9,442.4 617.4,472.3 617.8,461.3 618.3,465 618.7,460 619.2,488.5 619.6,463.3 620.1,447.2 620.5,458.5 621,461.1 621.4,435.6 621.9,421.9 622.3,447.2 622.8,428.9 623.2,411.1 623.7,458.4 624.1,485.1 624.6,475.7 625,479.1 625.5,505.9 625.9,457.7 626.4,436.9 626.8,460.6 627.3,481.8 627.7,478.9 628.2,494.5 628.6,464.7 629.1,446.5 629.5,438 630,459.8 630.4,457 630.9,446.7 631.3,446.3 631.8,447.6 632.2,451.6 632.7,465.1 633.1,419 633.6,440.8 634,425.5 634.5,470.4 634.9,460.7 635.4,477.4 635.8,450 636.3,432.8 636.7,494.7 637.2,458.2 637.6,450.4 638.1,475.2 638.6,458.4 639,477 639.5,477.1 639.9,488 640.4,472.5 640.8,439.7 641.3,438.1 641.7,453.7 642.2,445.8 642.6,433.1 643.1,434.8 643.5,489.9 644,440.5 644.4,473.2 644.9,495.5 645.3,479.3 645.8,485 646.2,453.1 646.7,515.8 647.1,463.3 647.6,486.3 648,472.2 648.5,446.4 648.9,522 649.4,456.9 649.8,460.2 650.3,464.3 650.7,429.7 651.2,462.7 651.6,488.1 652.1,364.4 652.5,467.9 653,439.1 653.4,455.9 653.9,485.9 654.3,462.3 654.8,448.7 655.2,452.6 655.7,439.9 656.1,456.7 656.6,462.4 657,484.8 657.5,453.9 657.9,456.8 658.4,431.6 658.8,517 659.3,470.4 659.7,474.6 660.2,472 660.6,430.5 661.1,442.9 661.5,477.5 662,476.6 662.4,475.9 662.9,444.2 663.3,468.6 663.8,496 664.3,437.2 664.7,465.5 665.2,473.8 665.6,452.4 666.1,449.8 666.5,451.5 667,463.2 667.4,467.4 667.9,419 668.3,461.6 668.8,480.5 669.2,473.2 669.7,464.9 670.1,466.8 670.6,471.9 671,453.2 671.5,487.3 671.9,449.1 672.4,439.6 672.8,459.8 673.3,479.6 673.7,445.3 674.2,444.3 674.6,435.6 675.1,380.6 675.5,444.8 676,441.6 676.4,456.3 676.9,442 677.3,451.7 677.8,451.2 678.2,471.2 678.7,469 679.1,453.5 679.6,465.9 680,464.3 680.5,474.7 680.9,457 681.4,461.6 681.8,458.8 682.3,456.1 682.7,476 683.2,468.7 683.6,473.1 684.1,481.1 684.5,466 685,455.5 685.4,452 685.9,457.5 686.3,436.4 686.8,475.1 687.2,456.3 687.7,463.9 688.1,472.7 688.6,451.4 689,442.4 689.5,459.9 689.9,461.2 690.4,473.8 690.9,459.6 691.3,462.6 691.8,474.7 692.2,469.6 692.7,475.8 693.1,484.1 693.6,479.2 694,478.6 694.5,483.1 694.9,503.9 695.4,529.5 695.8,459.9 696.3,460.5 696.7,491.6 697.2,479.4 697.6,479.1 698.1,497.4 698.5,449.5 699,445.9 699.4,479.1 699.9,468.8 700.3,473.8 700.8,478.5 701.2,446.6 701.7,451.8 702.1,463.3 702.6,456.8 703,476.2 703.5,487 703.9,459.6 704.4,449.1 704.8,463.4 705.3,445.4 705.7,454 706.2,500.9 706.6,446.4 707.1,452 707.5,460.7 708,456.6 708.4,451.4 708.9,482.1 709.3,498.4 709.8,496.7 710.2,485.2 710.7,479.4 711.1,494.3 711.6,466.2 712,510.6 712.5,425.2 712.9,475.6 713.4,477.7 713.8,490.4 714.3,383.8 714.7,438.8 715.2,417.8 715.6,479.2 716.1,353.8 716.5,455.7 717,581.1 717.5,481.4 717.9,496.3 718.4,497.6 718.8,481.5 719.3,446.1 719.7,402.9 720.2,470 720.6,465.4 721.1,480.5 721.5,484.6 722,427 722.4,500.7 722.9,495 723.3,513.3 723.8,509.5 724.2,495.8 724.7,422.8 725.1,478 725.6,477.9 726,480 726.5,451.8 726.9,497 727.4,512.1 727.8,487.3 728.3,446.6 728.7,466.4 729.2,480.2 729.6,460.3 730.1,476.3 730.5,439.2 731,427.5 731.4,429.2 731.9,450 732.3,478.5 732.8,528.7 733.2,478.9 733.7,490.4 734.1,460.8 734.6,466.5 735,483.5 735.5,478 735.9,453.3 736.4,439.1 736.8,440.5 737.3,429.1 737.7,450.1 738.2,431.6 738.6,432.3 739.1,467.1 739.5,428.6 740,474.2 740.4,446.5 740.9,447.1 741.3,443.7 741.8,406.6 742.2,478.9 742.7,470 743.2,434.9 743.6,439.4 744.1,456.8 744.5,505.9 745,416.2 745.4,430.7 745.9,434.9 746.3,447 746.8,442.6 747.2,448.7 747.7,457.5 748.1,427.9 748.6,471.6 749,451.5 749.5,463 749.9,458.7 750.4,462.1 750.8,486.2 751.3,454.8 751.7,472.7 752.2,448.4 752.6,480 753.1,519.5 753.5,452.3 754,411.1 754.4,425.4 754.9,486.3 755.3,472.8 755.8,438.1 756.2,466.3 756.7,439.7 757.1,450.1 757.6,450.6 758,463.8 758.5,460.9 758.9,447.6 759.4,514.6 759.8,424.5 760.3,481.7 760.7,437.3 761.2,431.6 761.6,444 762.1,427.6 762.5,449 763,424.5 763.4,454.2 763.9,464.1 764.3,454.7 764.8,446.9 765.2,465 765.7,491 766.1,457.9 766.6,457.6 767,471.6 767.5,471.2 767.9,454.8 768.4,473.6 768.8,418.3 769.3,464.8 769.8,473.8 770.2,475.6 770.7,449.4 771.1,454 771.6,462.7 772,433.9 772.5,470.3 772.9,455.1 773.4,434.9 773.8,446.1 774.3,441.8 774.7,436.8 775.2,464.4 775.6,505.9 776.1,468.5 776.5,463 777,453.3 777.4,433.5 777.9,301.7 778.3,448 778.8,427.7 779.2,463 779.7,458.7 780.1,458.8 780.6,450.6 781,458.7 781.5,472.5 781.9,461 782.4,436.1 782.8,446.8 783.3,432.9 783.7,449.9 784.2,476.2 784.6,471.4 785.1,460.4 785.5,481.1 786,472.6 786.4,448.9 786.9,473.7 787.3,447 787.8,440.3 788.2,420.3 788.7,451.3 789.1,461.8 789.6,455.3 790,440.3 790.5,445.5 790.9,432.8 791.4,454.7 791.8,446 792.3,431 792.7,456.3 793.2,457.7 793.6,461.8 794.1,440.4 794.5,462.5 795,499.7 795.4,416.6 795.9,477.1 796.4,468.3 796.8,474.8 797.3,449.2 797.7,448.2 798.2,461.1 798.6,444.4 799.1,427.3 799.5,443.4 800,435.3 800.4,447.1 800.9,470.8 801.3,484.8 801.8,481.1 802.2,461.2 802.7,461.8 803.1,420.3 803.6,475.8 804,491.9 804.5,481.1 804.9,472.4 805.4,478 805.8,443.7 806.3,428.8 806.7,432 807.2,464 807.6,462.2 808.1,460.1 808.5,475.2 809,447.8 809.4,452.4 809.9,463.9 810.3,490.3 810.8,500.4 811.2,478.6 811.7,451.4 812.1,466.1 812.6,462.1 813,486.8 813.5,465.2 813.9,420.3 814.4,434.9 814.8,455.9 815.3,439.2 815.7,445.6 816.2,461.8 816.6,456.2 817.1,446 817.5,468.9 818,460.1 818.4,449.6 818.9,440.8 819.3,453.3 819.8,466.9 820.2,464.2 820.7,396 821.1,461.1 821.6,483.5 822.1,452.8 822.5,440.7 823,454.4 823.4,455.7 823.9,474.8 824.3,441.1 824.8,451.2 825.2,473.3 825.7,456.4 826.1,451.5 826.6,503.4 827,471.4 827.5,471.6 827.9,438.7 828.4,433.2 828.8,406.1 829.3,480.8 829.7,469.1 830.2,470.4 830.6,432.1 831.1,433.5 831.5,422.7 832,440.2 832.4,473.1 832.9,449.1 833.3,459.4 833.8,482.3 834.2,466 834.7,471 835.1,473.1 835.6,469.8 836,450.1 836.5,456.8 836.9,456.9 837.4,459.3 837.8,441 838.3,450.2 838.7,437.6 839.2,419 839.6,458.5 840.1,477.5 840.5,445.7 841,472.1 841.4,447.1 841.9,449.5 842.3,464.2 842.8,476.5 843.2,452.8 843.7,469.9 844.1,464.9 844.6,490 845,441.3 845.5,480.1 845.9,483.2 846.4,517 846.8,495.3 847.3,504.8 847.7,452 848.2,464.8 848.7,462.9 849.1,494.2 849.6,505 850,442.1 850.5,432 850.9,453 851.4,452.3 851.8,400.9 852.3,449.7 852.7,449.8 853.2,536.2 853.6,480.2 854.1,467.9 854.5,459.7 855,453.4 855.4,460.5 855.9,454.4 856.3,411.6 856.8,463.2 857.2,449.9 857.7,463.5 858.1,475.3 858.6,471 859,474.5 859.5,505.6 859.9,539.4 860.4,510.8 860.8,477.1 861.3,450 861.7,464.2 862.2,475.9 862.6,480.5 863.1,495.5 863.5,490.5 864,463.4 864.4,471.7 864.9,473 865.3,497.4 865.8,464.5 866.2,462.2 866.7,472.4 867.1,464.7 867.6,446.3 868,442.3 868.5,455.8 868.9,458.2 869.4,441.8 869.8,529.5 870.3,404.9 870.7,419.1 871.2,411.8 871.6,448.4 872.1,456.9 872.5,492.5 873,493 873.4,474.8 873.9,484 874.3,489.2 874.8,460.7 875.3,442 875.7,443.2 876.2,466.2 876.6,449.8 877.1,487.1 877.5,406.1 878,512.1 878.4,465.1 878.9,461.1 879.3,437.2 879.8,378.1 880.2,449.4 880.7,448.1 881.1,454.9 881.6,453 882,442.1 882.5,458.5 882.9,446 883.4,452.4 883.8,476.2 884.3,491.3 884.7,508.4 885.2,470.8 885.6,464 886.1,432.2 886.5,461 887,440.7 887.4,430.6 887.9,454.1 888.3,435.1 888.8,436.2 889.2,456.2 889.7,424 890.1,456.6 890.6,453.4 891,494.7 891.5,460.7 891.9,456.1 892.4,481.4 892.8,457.2 893.3,446.3 893.7,438.2 894.2,454.1 894.6,430.8 895.1,433.3 895.5,426.7 896,472.5 896.4,472.3 896.9,448.9 897.3,470.2 897.8,469.6 898.2,479.8 898.7,454.9 899.1,525.7 899.6,476.3 900,450.3 900.5,457.1 901,464 901.4,465.1 901.9,431 902.3,449.2 902.8,448.6 903.2,465.3 903.7,463.9 904.1,452.2 904.6,441 905,418.5 905.5,452.2 905.9,498.4 906.4,433.4 906.8,468.4 907.3,473.1 907.7,463.5 908.2,461 908.6,464.7 909.1,461.4 909.5,453.4 910,450.2 910.4,446.6 910.9,449.6 911.3,448.7 911.8,454.4 912.2,486 912.7,352.5 913.1,385.5 913.6,435.9 914,440.2 914.5,423.6 914.9,428.2 915.4,418.4 915.8,443.3 916.3,439 916.7,487.8 917.2,455.2 917.6,448.8 918.1,442.8 918.5,406.6 919,500.9 919.4,425.2 919.9,467.5 920.3,455.8 920.8,443.3 921.2,455.8 921.7,437.9 922.1,513.3 922.6,483.9 923,439.9 923.5,446 923.9,448.7 924.4,452.8 924.8,478.4 925.3,462.4 925.7,455.9 926.2,465.1 926.6,479.1 927.1,458.4 927.6,462.2 928,462.9 928.5,447.6 928.9,498.8 929.4,491.5 929.8,464.6 930.3,467.3 930.7,505.9 931.2,480 931.6,454.9 932.1,480 932.5,458.9 933,475.5 933.4,475.7 933.9,462.6 934.3,495.3 934.8,441.3 935.2,442.3 935.7,457.9 936.1,430.2 936.6,466 937,495.6 937.5,480.9 937.9,471.8 938.4,499.7 938.8,440.9 939.3,440.2 939.7,440.2 940.2,447 940.6,466.7 941.1,450.7 941.5,447.6 942,456.7 942.4,485.7 942.9,481 943.3,476.6 943.8,464.8 944.2,452.2 944.7,461.7 945.1,485.4 945.6,484.6 946,459.4 946.5,456.5 946.9,466.2 947.4,469.6 947.8,483.2 948.3,505.9 948.7,449.6 949.2,447.2 949.6,450.3 950.1,447.9 950.5,445.5 951,446.2 951.4,459.6 951.9,430.2 952.3,465 952.8,482.9 953.2,473.7 953.7,467.2 954.2,409.9 954.6,481.1 955.1,463.9 955.5,471.9 956,442.7 956.4,457.3 956.9,442.5 957.3,435.3 957.8,472.4 958.2,486 958.7,472.9 959.1,461.4 959.6,460.4 960,442.4 960.5,464.6 960.9,475 961.4,464.1 961.8,456 962.3,425.4 962.7,426.1 963.2,404.6 963.6,437.6 964.1,438.4 964.5,451.9 965,469.3 965.4,448.5 965.9,474.4 966.3,460.6 966.8,477.5 967.2,459.3 967.7,451.2 968.1,477.1 968.6,425.7 969,489.8 969.5,440.7 969.9,445.5 970.4,463.2 970.8,439.7 971.3,431.3 971.7,479.9 972.2,478.6 972.6,481.8 973.1,499.7 973.5,454 974,479.8 974.4,444 974.9,457.2 975.3,448.5 975.8,415.5 976.2,425.5 976.7,438.1 977.1,450.9 977.6,430.2 978,446.5 978.5,439.4 978.9,411.4 979.4,435.6 979.9,489.7 980.3,477 980.8,470.3 981.2,487.2 981.7,465 982.1,471.9 982.6,446.5 983,431.2 983.5,397.9 983.9,451.7 984.4,444.9 984.8,467.1 985.3,411.6 985.7,477.9 986.2,471.6 986.6,498.4 987.1,460 987.5,476.7 988,455.1 988.4,466.8 988.9,486 989.3,479.9 989.8,477.8 990.2,486.8 990.7,494.3 991.1,436.9 991.6,457.4 992,470.7 992.5,468.8 992.9,510.8 993.4,450.3 993.8,431.4 994.3,440.3 994.7,473.4 995.2,477.2 995.6,452.3 996.1,449.9 996.5,391 997,455.2 997.4,463.8 997.9,469.6 998.3,448.6 998.8,465.4 999.2,505.5 999.7,477 1000.1,438.8 1000.6,466.6 1001,473 1001.5,514.6 1001.9,487.2 1002.4,461.4 1002.8,481.9 1003.3,487.8 1003.7,438.9 1004.2,450.9 1004.6,448.1 1005.1,454.2 1005.5,488.8 1006,486.8 1006.5,537.4 1006.9,456.6 1007.4,492.3 1007.8,461.9 1008.3,476.1 1008.7,522.2 1009.2,504 1009.6,480.9 1010.1,510.7 1010.5,505 1011,518 1011.4,529.5 1011.9,507.9 1012.3,518.3 1012.8,452.2 1013.2,447.1 1013.7,479.6 1014.1,472.1 1014.6,504.6 1015,492.2 1015.5,451.5 1015.9,449.4 1016.4,421.5 1016.8,496.7 1017.3,482 1017.7,496.5 1018.2,489.4 1018.6,490.1 1019.1,458.5 1019.5,437.1 1020,469.6 1020.4,434.1 1020.9,443.3 1021.3,452.4 1021.8,536.9 1022.2,455.8 1022.7,517 1023.1,477.3 1023.6,478.8 1024,470.8 1024.5,487.5 1024.9,458.9 1025.4,467.5 1025.8,475.7 1026.3,482.4 1026.7,471.5 1027.2,489.4 1027.6,500.9 1028.1,470.8 1028.5,482.9 1029,465.5 1029.4,412.3 1029.9,371.9 1030.3,446.5 1030.8,458.2 1031.2,424.8 1031.7,463.6 1032.1,462.1 1032.6,497.4 1033.1,486.3 1033.5,435.9 1034,449.2 1034.4,449.2 1034.9,453.1 1035.3,423.7 1035.8,517 1036.2,428.2 1036.7,470.2 1037.1,480.2 1037.6,450 1038,438.2 1038.5,429.1 1038.9,442.2 1039.4,431.4 1039.8,433 1040.3,418.5 1040.7,471.2 1041.2,438.3 1041.6,433.5 1042.1,456.8 1042.5,459.5 1043,494 1043.4,474.3 1043.9,499.7 1044.3,458.2 1044.8,432.9 1045.2,439 1045.7,435.5 1046.1,434.7 1046.6,474.8 1047,483 1047.5,473.4 1047.9,447.3 1048.4,463.1 1048.8,459.2 1049.3,466.3 1049.7,491 1050.2,462.4 1050.6,455.6 1051.1,474.4 1051.5,461.5 1052,424.5 1052.4,475.4 1052.9,464.3 1053.3,443 1053.8,500.9 1054.2,428.6 1054.7,446.7 1055.1,446.1 1055.6,445.2 1056,475.1 1056.5,513.3 1056.9,472.7 1057.4,439.8 1057.8,438.5 1058.3,472.9 1058.8,462.6 1059.2,450.8 1059.7,466.5 1060.1,479.5 1060.6,482.4 1061,465.7 1061.5,470.1 1061.9,502.2 1062.4,390.5 1062.8,441.9 1063.3,471.4 1063.7,456.7 1064.2,433.9 1064.6,476.1 1065.1,471.5 1065.5,505.8 1066,474.9 1066.4,502 1066.9,483.6 1067.3,522 1067.8,435.8 1068.2,459.5 1068.7,424.3 1069.1,466.6 1069.6,483.9 1070,391.7 1070.5,472 1070.9,477.2 1071.4,474 1071.8,464.6 1072.3,446.3 1072.7,466.9 1073.2,456.1 1073.6,463.9 1074.1,448.5 1074.5,478.6 1075,432.2 1075.4,480.6 1075.9,502.2 1076.3,455.2 1076.8,439.6 1077.2,461.5 1077.7,468.9 1078.1,481.2 1078.6,461.8 1079,445.6 1079.5,452.6 1079.9,420 1080.4,434.2 1080.8,428.9 1081.3,484.4 1081.7,481.9 1082.2,467.9 1082.6,413.3 1083.1,465.9 1083.5,527.7 1084,464.5 1084.4,441.6 1084.9,439.3 1085.4,490.5 1085.8,475.9 1086.3,479.9 1086.7,474 1087.2,446.3 1087.6,447.3 1088.1,470.9 1088.5,460.2 1089,473.1 1089.4,468.3 1089.9,446.6 1090.3,468.3 1090.8,459.7 1091.2,433.8 1091.7,422.8 1092.1,444 1092.6,436.3 1093,460.4 1093.5,454 1093.9,471.7 1094.4,466.6 1094.8,477 1095.3,493.7 1095.7,500.9 1096.2,493.1 1096.6,437 1097.1,468.2 1097.5,426.8 1098,454.5 1098.4,422.2 1098.9,440.2 1099.3,438 1099.8,460.1 1100.2,452.6 1100.7,464.2 1101.1,466.4 1101.6,310.7 1102,441.8 1102.5,434 1102.9,424.8 1103.4,494.7 1103.8,459.6 1104.3,449.2 1104.7,452 1105.2,433.2 1105.6,430.4 1106.1,432.2 1106.5,430.8 1107,432.9 1107.4,460.3 1107.9,451 1108.3,458.5 1108.8,337.6 1109.2,466.1 1109.7,457 1110.1,421.1 1110.6,356 1111,487.8 1111.5,371 1112,437.5 1112.4,446.1 1112.9,362 1113.3,513.3 1113.8,440 1114.2,463.7 1114.7,289.7 1115.1,479.1 1115.6,446.4 1116,425.9 1116.5,378 1116.9,452 1117.4,392 1117.8,446 1118.3,413.4 1118.7,441.6 1119.2,391.7 1119.6,452 1120.1,424.6 1120.5,449.2 1121,468.2 1121.4,449 1121.9,551.8 1122.3,476 1122.8,469 1123.2,446.2 1123.7,446.6 1124.1,460.3 1124.6,442.3 1125,463.1 1125.5,463.4 1125.9,446.9 1126.4,430.2 1126.8,419 1127.3,334.7 1127.7,430.8 1128.2,400.8 1128.6,444.2 1129.1,504.6 1129.5,433.9 1130,472.4 1130.4,424.3 1130.9,417.9 1131.3,459 1131.8,435.8 1132.2,471.2 1132.7,452.5 1133.1,469.9 1133.6,424.6 1134,422.7 1134.5,449.9 1134.9,472 1135.4,437 1135.8,446.7 1136.3,436.5 1136.7,498.4 1137.2,446.3 1137.7,460.6 1138.1,449 1138.6,481.5 1139,432.9 1139.5,453.9 1139.9,471.2 1140.4,462.2 1140.8,461 1141.3,446.7 1141.7,458.9 1142.2,476.5 1142.6,467.6 1143.1,429 1143.5,462.2 1144,446.1 1144.4,477.7 1144.9,457.3 1145.3,468.7 1145.8,437.2 1146.2,469.6 1146.7,436.9 1147.1,451.8 1147.6,456.8 1148,486 1148.5,473.4 1148.9,452 1149.4,468 1149.8,471.7 1150.3,459.8 1150.7,452.5 1151.2,464.2 1151.6,462 1152.1,469.4 1152.5,460.4 1153,450.1 1153.4,447.6 1153.9,427.7 1154.3,481.2 1154.8,486.3 1155.2,464.5 1155.7,510.8 1156.1,441.8 1156.6,475 1157,461.1 1157.5,446.5 1157.9,451.4 1158.4,460.2 1158.8,475.7 1159.3,484.9 1159.7,439.4 1160.2,484.7 1160.6,461.2 1161.1,471.1 1161.5,460.2 1162,472.1 1162.4,459.3 1162.9,498.4 1163.3,410.8 1163.8,457.9 1164.3,485.2 1164.7,470.9 1165.2,453.6 1165.6,483.9 1166.1,434.4 1166.5,441.1 1167,470.1 1167.4,459.6 1167.9,508.4 1168.3,474.5 1168.8,460.2 1169.2,460.3 1169.7,455.6 1170.1,404.1 1170.6,457.8 1171,421.4 1171.5,429.9 1171.9,463.3 1172.4,430.1 1172.8,434.4 1173.3,462.8 1173.7,488.1 1174.2,436.2 1174.6,419.4 1175.1,400.9 1175.5,440.4 1176,446.7 1176.4,466.9 1176.9,457.8 1177.3,453.4 1177.8,455.6 1178.2,478 1178.7,469.2 1179.1,516.3 1179.6,477.7 1180,475.8 1180.5,466.9 1180.9,430.2 1181.4,494.7 1181.8,465 1182.3,436.7 1182.7,487.5 1183.2,486.5 1183.6,476.1 1184.1,446.5 1184.5,453 1185,470.5 1185.4,465.4 1185.9,449.5 1186.3,417.8 1186.8,454.5 1187.2,455.6 1187.7,478.7 1188.1,460.8 1188.6,455.3 1189,476 1189.5,475.6 1189.9,451.5 1190.4,462.5 1190.9,447.1 1191.3,486 1191.8,452.7 1192.2,466.1 1192.7,480.7 1193.1,460.3 1193.6,461.5 1194,415.3 1194.5,463.5 1194.9,440.7 1195.4,453.3 1195.8,465.8 1196.3,468.6 1196.7,434.2 1197.2,450.1 1197.6,459 1198.1,476.6 1198.5,441.9 1199,438.8 1199.4,472.3 1199.9,460.3 1200.3,446.1 1200.8,446.6 1201.2,415.8 1201.7,430.6 1202.1,468 1202.6,547.3 1203,435.1 1203.5,456.6 1203.9,477.9 1204.4,470.6 1204.8,471.1 1205.3,473.7 1205.7,469.4 1206.2,466.7 1206.6,449.2 1207.1,459.1 1207.5,460.3 1208,427.6 1208.4,432.8 1208.9,433.4 1209.3,510.8 1209.8,483.7 1210.2,427.8 1210.7,431.3 1211.1,450.8 1211.6,436.6 1212,449.4 1212.5,444.9 1212.9,465.1 1213.4,459 1213.8,420.3 1214.3,446 1214.7,455.3 1215.2,449.1 1215.6,446.8 1216.1,471.4 1216.6,479.3 1217,454.7 1217.5,436.7 1217.9,496.5 1218.4,461.6 1218.8,484.5 1219.3,455.4 1219.7,453.6 1220.2,449.8 1220.6,458 1221.1,458.6 1221.5,460.9 1222,464.1 1222.4,460.7 1222.9,454.2 1223.3,468.4 1223.8,484.8 1224.2,470.8 1224.7,405.4 1225.1,468.8 1225.6,460.1 1226,479.5 1226.5,466.4 1226.9,458.2 1227.4,452.6 1227.8,472 1228.3,470.4 1228.7,449.9 1229.2,471.7 1229.6,469.6 1230.1,463 1230.5,448.8 1231,406.6 1231.4,438.6 1231.9,433.8 1232.3,431 1232.8,426.7 1233.2,431.1 1233.7,457.3 1234.1,444 1234.6,454.1 1235,432 1235.5,456.6 1235.9,415.3 1236.4,451.9 1236.8,448.3 1237.3,457.4 1237.7,460.6 1238.2,462.7 1238.6,479.2 1239.1,476 1239.5,425.2 1240,446.1 1240.4,471.9 1240.9,499.7 1241.3,472.2 1241.8,470 1242.2,452.5 1242.7,450.4 1243.2,473.5 1243.6,447.4 1244.1,457.7 1244.5,478.7 1245,454.9 1245.4,476.9 1245.9,447.5 1246.3,447.3 1246.8,435.6 1247.2,446.2 1247.7,460.7 1248.1,456 1248.6,498.4 1249,463.5 1249.5,460.2 1249.9,445.2 1250.4,408.6 1250.8,491.6 1251.3,487 1251.7,480.3 1252.2,457 1252.6,476.8 1253.1,440.7 1253.5,452.6 1254,458 1254.4,470.7 1254.9,461.3 1255.3,437.9 1255.8,463.4 1256.2,479.1 1256.7,490.5 1257.1,461.9 1257.6,443.3 1258,458.1 1258.5,432.7 1258.9,508.9 1259.4,456.9 1259.8,479.6 1260.3,456.1 1260.7,483.3 1261.2,469.2 1261.6,439.8 1262.1,432.9 1262.5,462.9 1263,469.1 1263.4,447.1 1263.9,441.6 1264.3,429.6 1264.8,467.4 1265.2,436 1265.7,398.4 1266.1,455.7 1266.6,470.3 1267,442.3 1267.5,294.3 1267.9,423.3 1268.4,470.3 1268.8,443.4 1269.3,440.6 1269.8,418.1 1270.2,469.5 1270.7,440 1271.1,440.3 1271.6,447.6 1272,494.7 1272.5,454.2 1272.9,485.5 1273.4,473.6 1273.8,457.5 1274.3,453 1274.7,489.9 1275.2,437.8 1275.6,413.3 1276.1,469.3 1276.5,440 1277,459.4 1277.4,428.5 1277.9,459.3 1278.3,457.7 1278.8,481 1279.2,475.3 1279.7,464.6 1280.1,450.8 1280.6,368.2 1281,444.1 1281.5,489.7 1281.9,415.4 1282.4,448.7 1282.8,476.3 1283.3,525.2 1283.7,479.2 1284.2,467 1284.6,452.5 1285.1,483.5 1285.5,481.1 1286,476.8 1286.4,440.6 1286.9,419.8 1287.3,479.1 1287.8,456.5 1288.2,491.2 1288.7,470.6 1289.1,472.4 1289.6,438.7 1290,511.6 1290.5,438.7 1290.9,421.5 1291.4,448.9 1291.8,406.1 1292.3,455.5 1292.7,437 1293.2,467.7 1293.6,461.4 1294.1,465.2 1294.5,440.9 1295,424.5 1295.5,399.2 1295.9,420.4 1296.4,480.3 1296.8,450.4 1297.3,453.1 1297.7,489.5 1298.2,429 1298.6,491.3 1299.1,477 1299.5,444.1 1300,444.5 1300.4,420.5 1300.9,467.4 1301.3,460.3 1301.8,499.7 1302.2,428.2 1302.7,463 1303.1,367.7 1303.6,492.7 1304,440.6 1304.5,430.3 1304.9,434.1 1305.4,492.5 1305.8,497.2 1306.3,475.8 1306.7,384.3 1307.2,453.4 1307.6,430.3 1308.1,451.4 1308.5,469.7 1309,489.1 1309.4,480.5 1309.9,469.3 1310.3,465.3 1310.8,476.8 1311.2,473.5 1311.7,437.3 1312.1,640.6 1312.6,460.4 1313,395.5 1313.5,458.7 1313.9,483.9 1314.4,481.9 1314.8,469.7 1315.3,475.7 1315.7,469.1 1316.2,453.2 1316.6,485.1 1317.1,475.2 1317.5,405.3 1318,400.4 1318.4,450.1 1318.9,522.8 1319.3,462.7 1319.8,584 1320.2,503.2 1320.7,493.7 1321.1,456.1 1321.6,468 1322.1,428.3 1322.5,441.1 1323,482.7 1323.4,445.7 1323.9,494.3 1324.3,471.6 1324.8,491.9 1325.2,489.1 1325.7,451.1 1326.1,461.4 1326.6,466.3 1327,469.8 1327.5,469.9 1327.9,432.7 1328.4,489.8 1328.8,466.7 1329.3,469.9 1329.7,461.6 1330.2,452.9 1330.6,454.2 1331.1,458.8 1331.5,449.2 1332,431.8 1332.4,407.1 1332.9,477.6 1333.3,475.8 1333.8,481.1 1334.2,446.1 1334.7,450.6 1335.1,455.1 1335.6,441.9 1336,430.9 1336.5,449.6 1336.9,469.7 1337.4,471.5 1337.8,445.7 1338.3,479.2 1338.7,487.8 1339.2,467.9 1339.6,498 1340.1,509.6 1340.5,449.5 1341,459.3 1341.4,479.7 1341.9,469.5 1342.3,482.1 1342.8,420.3 1343.2,456.2 1343.7,430.9 1344.1,453.6 1344.6,495.1 1345,503.5 1345.5,496.7 1345.9,483.6 1346.4,437.2 1346.8,442.3 1347.3,448.9 1347.7,469.8 1348.2,462.5 1348.7,431.1 1349.1,416.6 1349.6,455.6 1350,448.5 1350.5,430.4 1350.9,442.8 1351.4,445.4 1351.8,585.3 1352.3,482.2 1352.7,472.4 1353.2,530.7 1353.6,438.7 1354.1,500.5 1354.5,492.2 1355,473.6 1355.4,410.8 1355.9,489.8 1356.3,505.9 1356.8,436.6 1357.2,465.6 1357.7,464.2 1358.1,487.4 1358.6,473.9 1359,444.7 1359.5,455.3 1359.9,459.9 1360.4,467 1360.8,473 1361.3,466.3 1361.7,440.4 1362.2,435 1362.6,449.6 1363.1,456.1 1363.5,459.8 1364,426.5 1364.4,491 1364.9,457.9 1365.3,482.3 1365.8,467.9 1366.2,459.3 1366.7,465.4 1367.1,456.6 1367.6,403.6 1368,451.2 1368.5,472.3 1368.9,429.3 1369.4,433.6 1369.8,425.4 1370.3,439.2 1370.7,441.7 1371.2,461 1371.6,511.6 1372.1,454 1372.5,478.1 1373,456.8 1373.4,451.5 1373.9,476.8 1374.4,443.8 1374.8,449.3 1375.3,473.5 1375.7,449.7 1376.2,435.1 1376.6,478.5 1377.1,475.5 1377.5,463.6 1378,455.1 1378.4,465.7 1378.9,494.7 1379.3,480.4 1379.8,486.5 1380.2,485.7 1380.7,479.1 1381.1,397.9 1381.6,443.8 1382,447.2 1382.5,454.3 1382.9,447.1 1383.4,451.3 1383.8,472.1 1384.3,470 1384.7,493.5 1385.2,402 1385.6,472.2 1386.1,398 1386.5,468.7 1387,456.9 1387.4,466 1387.9,448.3 1388.3,455.1 1388.8,471.6 1389.2,325.9 1389.7,469.4 1390.1,485.8 1390.6,469.7 1391,480.3 1391.5,483.6 1391.9,465.5 1392.4,458.6 1392.8,484.1 1393.3,461.2 1393.7,425.2 1394.2,488.4 1394.6,486 1395.1,453.3 1395.5,473.5 1396,504.6 1396.4,451.5 1396.9,462.3 1397.3,456.2 1397.8,446.5 1398.2,442 1398.7,461.2 1399.1,472.2 1399.6,481.2 1400,533.7 1400.5,441.1 1401,452.5 1401.4,459.8 1401.9,462.3 1402.3,472 1402.8,443.9 1403.2,440.1 1403.7,443.1 1404.1,469.7 1404.6,455.7 1405,454.6 1405.5,452.4 1405.9,454.8 1406.4,477.9 1406.8,465.9 1407.3,486 1407.7,440.2 1408.2,370.6 1408.6,405.7 1409.1,399.6 1409.5,338.9 1410,429.7 1410.4,395 1410.9,430.7 1411.3,470.7 1411.8,473.1 1412.2,414.8 1412.7,444.6 1413.1,462.1 1413.6,418.3 1414,456.3 1414.5,452.8 1414.9,459.4 1415.4,464.6 1415.8,497.2 1416.3,444 1416.7,447.7 1417.2,463 1417.6,466.7 1418.1,476.5 1418.5,470.3 1419,455.8 1419.4,430.7 1419.9,473.8 1420.3,468.7 1420.8,456.3 1421.2,437.7 1421.7,440.2 1422.1,477.4 1422.6,463.4 1423,451.7 1423.5,437 1423.9,446.7 1424.4,488.5 1424.8,439.5 1425.3,466.6 1425.7,422.8 1426.2,455.1 1426.6,483.4 1427.1,458.8 1427.6,436.2 1428,440.8 1428.5,454.6 1428.9,470.1 1429.4,455.6 1429.8,461.7 1430.3,450.1 1430.7,431.9 1431.2,452.4 1431.6,439.2 1432.1,492.2 1432.5,469.6 1433,446.1 1433.4,438.5 1433.9,457 1434.3,445.2 1434.8,466.6 1435.2,432.7 1435.7,447.5 1436.1,472.1 1436.6,489.8 1437,477.1 1437.5,473.6 1437.9,461.7 1438.4,422.8 1438.8,464.4 1439.3,443 1439.7,440.6 1440.2,339.6 1440.6,497.2 1441.1,458.9 1441.5,473.8 1442,433 1442.4,442.5 1442.9,440 1443.3,442.4 1443.8,432.3 1444.2,465.4 1444.7,468.2 1445.1,492.2 1445.6,464.9 1446,473.7 1446.5,442.3 1446.9,449.5 1447.4,462.2 1447.8,433.1 1448.3,428.8 1448.7,442.9 1449.2,447.5 1449.6,466.5 1450.1,445.1 1450.5,459.8 1451,451 1451.4,471.4 1451.9,424 1452.3,470.8 1452.8,485.3 1453.3,508.4 1453.7,459.8 1454.2,470.7 1454.6,483.3 1455.1,444.6 1455.5,528.7 1456,503.9 1456.4,482.3 1456.9,498.1 1457.3,463.3 1457.8,466.4 1458.2,426.5 1458.7,463.8 1459.1,467.3 1459.6,467.9 1460,475.5 1460.5,459.8 1460.9,449.2 1461.4,465 1461.8,482.7 1462.3,470.8 1462.7,524.5 1463.2,472.8 1463.6,462 1464.1,446.3 1464.5,473.1 1465,461.2 1465.4,473.6 1465.9,491 1466.3,479.2 1466.8,486.4 1467.2,464.1 1467.7,465.9 1468.1,514.6 1468.6,462.2 1469,468.2 1469.5,477.5 1469.9,472.3 1470.4,486.8 1470.8,469 1471.3,451 1471.7,436.4 1472.2,459.5 1472.6,439.4 1473.1,476.1 1473.5,448.9 1474,464.8 1474.4,466.6 1474.9,457.7 1475.3,430.4 1475.8,421.6 1476.2,436 1476.7,433.7 1477.1,454.8 1477.6,445.2 1478,395 1478.5,437.5 1478.9,436.4 1479.4,460.9 1479.9,428.1 1480.3,489.8 1480.8,479.5 1481.2,435 1481.7,391.2 1482.1,447.8 1482.6,440.6 1483,443.3 1483.5,445.5 1483.9,406.1 1484.4,436.9 1484.8,421.2 1485.3,452.1 1485.7,439.7 1486.2,454.1 1486.6,440.6 1487.1,436.6 1487.5,468.7 1488,471.9 1488.4,484.5 1488.9,499.7 1489.3,481.5 1489.8,448.7 1490.2,450.8 1490.7,450.2 1491.1,451 1491.6,465.9 1492,459.1 1492.5,457.9 1492.9,455.5 1493.4,479.2 1493.8,460.7 1494.3,454 1494.7,459.5 1495.2,465.2 1495.6,432.3 1496.1,447.2 1496.5,488.5 1497,434.5 1497.4,449.5 1497.9,416.6 1498.3,422.3 1498.8,439.7 1499.2,472.1 1499.7,475.5 1500.1,471.3 1500.6,455.2 1501,460.7 1501.5,456.5 1501.9,450 1502.4,470.4 1502.8,466.4 1503.3,466.7 1503.7,475.1 1504.2,459.5 1504.6,459 1505.1,442 1505.5,503.9 1506,430.3 1506.5,422.8 1506.9,432 1507.4,445.9 1507.8,462.1 1508.3,438.3 1508.7,452.2 1509.2,490.5 1509.6,464 1510.1,457.5 1510.5,487.1 1511,465.9 1511.4,466.3 1511.9,468.5 1512.3,426.2 1512.8,439.6 1513.2,462 1513.7,463.7 1514.1,436.2 1514.6,386 1515,447.2 1515.5,443.6 1515.9,442.1 1516.4,496.1 1516.8,475.3 1517.3,482.4 1517.7,453.3 1518.2,436.7 1518.6,463.3 1519.1,527 1519.5,381.8 1520,491.4 1520.4,468.8 1520.9,465.9 1521.3,474.8 1521.8,486 1522.2,453.2 1522.7,438.4 1523.1,442.8 1523.6,472.7 1524,453.8 1524.5,481.6 1524.9,502.2 1525.4,444.3 1525.8,463.3 1526.3,437.9 1526.7,446.4 1527.2,453.8 1527.6,459.1 1528.1,444.2 1528.5,432.3 1529,451.8 1529.4,447.8 1529.9,420.8 1530.3,462.3 1530.8,455.5 1531.2,451.7 1531.7,457.4 1532.2,447.9 1532.6,464.8 1533.1,467.6 1533.5,447.9 1534,461.2 1534.4,439.7 1534.9,459.9 1535.3,499.6 1535.8,497 1536.2,510.8 1536.7,420.3 1537.1,468 1537.6,466.9 1538,477.8 1538.5,455.9 1538.9,475.6 1539.4,463.5 1539.8,445.7 1540.3,465.3 1540.7,454.3 1541.2,472.4 1541.6,484.4 1542.1,475.6 1542.5,493.1 1543,481.8 1543.4,456.4 1543.9,384.3 1544.3,510.1 1544.8,468.2 1545.2,461.7 1545.7,461.7 1546.1,453.6 1546.6,453.1 1547,467.5 1547.5,455.2 1547.9,472.2 1548.4,461.8 1548.8,482.5 1549.3,456.7 1549.7,426.5 1550.2,443.3 1550.6,474.7 1551.1,481.1 1551.5,473 1552,453.5 1552.4,449.1 1552.9,479.7 1553.3,467.4 1553.8,485.6 1554.2,460.8 1554.7,504.6 1555.1,448.1 1555.6,475.2 1556,432.4 1556.5,456.4 1556.9,471.4 1557.4,443.4 1557.8,460.6 1558.3,437.8 1558.8,434 1559.2,461.7 1559.7,452.6 1560.1,408.6 1560.6,442.4 1561,466.8 1561.5,458.6 1561.9,437.7 1562.4,437.5 1562.8,434.3 1563.3,446.5 1563.7,502.2 1564.2,466.9 1564.6,474 1565.1,464.9 1565.5,469.8 1566,480.2 1566.4,444.4 1566.9,453.9 1567.3,419 1567.8,474.7 1568.2,479.8 1568.7,447.9 1569.1,444.2 1569.6,464.8 1570,463.1 1570.5,453.6 1570.9,459.9 1571.4,442.9 1571.8,457.8 1572.3,488.5 1572.7,459.1 1573.2,428 1573.6,409.1 1574.1,482 1574.5,585.8 1575,450.7 1575.4,444.1 1575.9,479.8 1576.3,447.5 1576.8,468.5 1577.2,443.9 1577.7,475.5 1578.1,456.5 1578.6,468.8 1579,470.9 1579.5,461.8 1579.9,440.9 1580.4,430 1580.8,391.2 1581.3,444.7 1581.7,372.4 1582.2,449.9 1582.6,454.2 1583.1,454.6 1583.5,476.1 1584,442 1584.4,462.4 1584.9,436.5 1585.4,454 1585.8,447.5 1586.3,455.2 1586.7,459.1 1587.2,411.6 1587.6,447.4 1588.1,462.9 1588.5,453.2 1589,463.2 1589.4,426 1589.9,422.2 1590.3,445.6 1590.8,453.9 1591.2,446.7 1591.7,456 1592.1,468.7 1592.6,451.4 1593,457.1 1593.5,463.7 1593.9,468.4 1594.4,467.7 1594.8,449.8 1595.3,442.3 1595.7,436.2 1596.2,440.3 1596.6,418.6 1597.1,438.9 1597.5,425.9 1598,419.1 1598.4,417.1 1598.9,405.4 1599.3,425.7 1599.8,420.9 1600.2,447.3 1600.7,444 1601.1,448.7 1601.6,438.9 1602,503.4 1602.5,467.3 1602.9,449.8 1603.4,482.3 1603.8,458.7 1604.3,461.9 1604.7,348.8 1605.2,450 1605.6,471.2 1606.1,456.6 1606.5,421 1607,491.4 1607.4,468.2 1607.9,446.5 1608.3,449 1608.8,465.1 1609.2,470.4 1609.7,468.1 1610.1,516.3 1610.6,456.3 1611.1,431.1 1611.5,442 1612,412.9 1612.4,443.4 1612.9,427.9 1613.3,471 1613.8,464.4 1614.2,396.2 1614.7,450.7 1615.1,452.8 1615.6,438.7 1616,419.3 1616.5,436.7 1616.9,445.6 1617.4,436.3 1617.8,486.1 1618.3,489.4 1618.7,475.5 1619.2,404.1 1619.6,498.4 1620.1,443.1 1620.5,428.8 1621,473.7 1621.4,465.3 1621.9,487.7 1622.3,468.1 1622.8,466.2 1623.2,463.2 1623.7,441 1624.1,459.3 1624.6,468.8 1625,473.3 1625.5,409.2 1625.9,417.2 1626.4,516.3 1626.8,371.9 1627.3,447.7 1627.7,481.2 1628.2,490.9 1628.6,492.8 1629.1,366.4 1629.5,474.1 1630,467.8 1630.4,462.5 1630.9,451.3 1631.3,453.3 1631.8,462 1632.2,441.5 1632.7,413.9 1633.1,405.4 1633.6,517 1634,438.3 1634.5,448.3 1634.9,447.5 1635.4,419 1635.8,437.6 1636.3,420.9 1636.7,517.8 1637.2,468.2 1637.7,449.8 1638.1,446.5 1638.6,402.4 1639,411.7 1639.5,432.4 1639.9,448.9 1640.4,459.2 1640.8,426.7 1641.3,460.7 1641.7,462.8 1642.2,454.2 1642.6,448 1643.1,428.5 1643.5,449.9 1644,399.5 1644.4,439.2 1644.9,405.3 1645.3,497.2 1645.8,379.8 1646.2,435 1646.7,420.7 1647.1,434.4 1647.6,459 1648,481.1 1648.5,481 1648.9,461 1649.4,467.3 1649.8,447.4 1650.3,447.2 1650.7,478 1651.2,441.5 1651.6,426.7 1652.1,456.3 1652.5,461.4 1653,387.5 1653.4,451.2 1653.9,483.5 1654.3,426.7 1654.8,446.7 1655.2,441 1655.7,436.2 1656.1,411.1 1656.6,427 1657,436.7 1657.5,443.3 1657.9,473.8 1658.4,448.2 1658.8,432.7 1659.3,461.5 1659.7,450.6 1660.2,569.7 1660.6,470.1 1661.1,561.2 1661.5,537.4 1662,408.4 1662.4,458 1662.9,436.5 1663.3,462.4 1663.8,512.9 1664.3,502 1664.7,506.1 1665.2,483.7 1665.6,447.9 1666.1,487.4 1666.5,478 1667,489.2 1667.4,465 1667.9,492.3 1668.3,460.1 1668.8,437.5 1669.2,459.5 1669.7,497.4 1670.1,419 1670.6,503.4 1671,440.6 1671.5,440.9 1671.9,467.5 1672.4,476.4 1672.8,463.1 1673.3,474.5 1673.7,464.1 1674.2,460.4 1674.6,430 1675.1,481.5 1675.5,459.4 1676,464.4 1676.4,459 1676.9,449.4 1677.3,471.4 1677.8,483.7 1678.2,471 1678.7,482.1 1679.1,464.8 1679.6,472.6 1680,508.4 1680.5,460.5 1680.9,451.7 1681.4,453.3 1681.8,466 1682.3,472.8 1682.7,460.3 1683.2,475.3 1683.6,495.2 1684.1,473.2 1684.5,493.2 1685,431.4 1685.4,478.4 1685.9,472.7 1686.3,438.8 1686.8,461.2 1687.2,493.7 1687.7,557.2 1688.1,456.5 1688.6,464.4 1689,438.5 1689.5,475.8 1690,496.3 1690.4,476.7 1690.9,467 1691.3,473.1 1691.8,451.9 1692.2,476.9 1692.7,461.4 1693.1,478.6 1693.6,510.8 1694,473.6 1694.5,378.1 1694.9,463.2 1695.4,520.8 1695.8,495.7 1696.3,490.1 1696.7,510.3 1697.2,441.1 1697.6,449.9 1698.1,430 1698.5,452.4 1699,457.2 1699.4,452.1 1699.9,472 1700.3,491.3 1700.8,478.7 1701.2,463.2 1701.7,487.5 1702.1,482.2 1702.6,497.5 1703,401.7 1703.5,461 1703.9,428.8 1704.4,415.3 1704.8,419.2 1705.3,452.3 1705.7,473.4 1706.2,509.6 1706.6,439.1 1707.1,416.9 1707.5,452.5 1708,435 1708.4,453.9 1708.9,454 1709.3,425.5 1709.8,452.6 1710.2,443.2 1710.7,492.8 1711.1,489.8 1711.6,446.7 1712,434.9 1712.5,529.5 1712.9,566.7 1713.4,419 1713.8,486.4 1714.3,460.6 1714.7,476.9 1715.2,440.4 1715.6,463.7 1716.1,471.7 1716.6,488.2 1717,424.4 1717.5,467.4 1717.9,449.3 1718.4,475.7 1718.8,466.6 1719.3,476 1719.7,417.8 1720.2,450.6 1720.6,435.7 1721.1,442.3 1721.5,509.9 1722,486 1722.4,530 1722.9,517.6 1723.3,514 1723.8,441.9 1724.2,465 1724.7,419.2 1725.1,447.1 1725.6,449.7 1726,480.8 1726.5,462.9 1726.9,427 1727.4,492.9 1727.8,404.6 1728.3,469.8 1728.7,435.5 1729.2,483.3 1729.6,498.5 1730.1,499 1730.5,493.7 1731,415 1731.4,468.5 1731.9,418.9 1732.3,454.1 1732.8,475.9 1733.2,494.7 1733.7,449.1 1734.1,456.6 1734.6,442.9 1735,431.8 1735.5,462.6 1735.9,423.3 1736.4,437.3 1736.8,467.9 1737.3,374.9 1737.7,428.6 1738.2,460.6 1738.6,473.8 1739.1,472.5 1739.5,447.8 1740,441.3 1740.4,483.3 1740.9,496.2 1741.3,493.6 1741.8,490.5 1742.2,481.4 1742.7,444.5 1743.2,503.4 1743.6,427.4 1744.1,438.9 1744.5,456 1745,454.3 1745.4,446.5 1745.9,470.5 1746.3,473 1746.8,476 1747.2,488.6 1747.7,486.7 1748.1,473.2 1748.6,483.8 1749,426.2 1749.5,415.3 1749.9,459.6 1750.4,476.8 1750.8,536.4 1751.3,494.7 1751.7,490.5 1752.2,512.1 1752.6,482.3 1753.1,476.2 1753.5,467.3 1754,467.7 1754.4,485.9 1754.9,487.8 1755.3,480.8 1755.8,466.3 1756.2,481.5 1756.7,485.1 1757.1,462.9 1757.6,470.3 1758,464.7 1758.5,465.6 1758.9,424.5 1759.4,424.3 1759.8,432 1760.3,473.7 1760.7,499.7 1761.2,477.4 1761.6,458.6 1762.1,411.1 1762.5,476.9 1763,470.2 1763.4,496.4 1763.9,482 1764.3,461.6 1764.8,453.3 1765.2,430.2 1765.7,451.5 1766.1,451.9 1766.6,469.1 1767,466.1 1767.5,491.8 1767.9,433.9 1768.4,485 1768.9,501.4 1769.3,494.1 1769.8,501.6 1770.2,481.1 1770.7,467.3 1771.1,467.5 1771.6,465.5 1772,471.3 1772.5,508.9 1772.9,459.7 1773.4,471.5 1773.8,465 1774.3,447.3 1774.7,425.3 1775.2,446.1 1775.6,461.7 1776.1,421.3 1776.5,434.7 1777,404.9 1777.4,442.9 1777.9,468.1 1778.3,480.1 1778.8,464.6 1779.2,472.3 1779.7,485.2 1780.1,492.5 1780.6,482.8 1781,471.8 1781.5,456.8 1781.9,445.1 1782.4,446.4 1782.8,451.4 1783.3,443.8 1783.7,502.2 1784.2,463.5 1784.6,441.4 1785.1,452.2 1785.5,451.6 1786,396.2 1786.4,487.1 1786.9,469.1 1787.3,471.8 1787.8,454.1 1788.2,475.1 1788.7,481.1 1789.1,482.2 1789.6,462.5 1790,438 1790.5,480 1790.9,481.4 1791.4,503.3 1791.8,460.3 1792.3,451.8 1792.7,445.4 1793.2,437.7 1793.6,466 1794.1,455.2 1794.5,433.3 1795,457 1795.5,461.6 1795.9,454.4 1796.4,475.7 1796.8,515.8 1797.3,502.2 1797.7,474.7 1798.2,460.6 1798.6,477.3 1799.1,478.3 1799.5,564.7 1800,482.8 1800.4,426.5 1800.9,494 1801.3,465 1801.8,482.8 1802.2,466.4 1802.7,466.5 1803.1,482.9 1803.6,479.1 1804,476.8 1804.5,500.9 1804.9,479.2 1805.4,480.4 1805.8,443.5 1806.3,466.3 1806.7,436.9 1807.2,473.8 1807.6,509.6 1808.1,475.8 1808.5,491.4 1809,478.7 1809.4,548.1 1809.9,449.4 1810.3,483 1810.8,459 1811.2,439.5 1811.7,475.4 1812.1,427.8 1812.6,435.6 1813,451.8 1813.5,456.5 1813.9,419.5 1814.4,466.3 1814.8,437.6 1815.3,468.9 1815.7,435.7 1816.2,468.5 1816.6,497.7 1817.1,472.5 1817.5,446.3 1818,457.1 1818.4,447.6 1818.9,485.4 1819.3,465.9 1819.8,508.4 1820.2,470.6 1820.7,434.7 1821.1,485.1 1821.6,475.5 1822.1,366.9 1822.5,470.4 1823,468.1 1823.4,458.1 1823.9,451.1 1824.3,442.8 1824.8,456.9 1825.2,463.9 1825.7,457.8 1826.1,481.2 1826.6,477.8 1827,467.7 1827.5,463.5 1827.9,437.4 1828.4,417.5 1828.8,497.2 1829.3,445.9 1829.7,485.2 1830.2,466.6 1830.6,463.8 1831.1,492.9 1831.5,488.8 1832,404.1 1832.4,414 1832.9,422.2 1833.3,444.1 1833.8,438.7 1834.2,450.7 1834.7,487.3 1835.1,444.7 1835.6,476.2 1836,462.8 1836.5,456.7 1836.9,426.5 1837.4,467.4 1837.8,489.3 1838.3,458.7 1838.7,479.3 1839.2,478.4 1839.6,452.7 1840.1,410.2 1840.5,468.3 1841,503.7 1841.4,405.4 1841.9,467.2 1842.3,462.3 1842.8,434.9 1843.2,432.6 1843.7,513.3 1844.1,450.2 1844.6,442.5 1845,420 1845.5,488.8 1845.9,482 1846.4,445.5 1846.8,466.9 1847.3,477.6 1847.8,471.7 1848.2,431.5 1848.7,429 1849.1,451.1 1849.6,420.7 1850,456.8 1850.5,465.8 1850.9,449.2 1851.4,464.5 1851.8,471.2 1852.3,474.9 1852.7,478.6 1853.2,411.6 1853.6,290.7 1854.1,511.6 1854.5,458.1 1855,432.5 1855.4,441.1 1855.9,439.3 1856.3,427.3 1856.8,445.8 1857.2,437.1 1857.7,440.6 1858.1,417.8 1858.6,435.5 1859,451.4 1859.5,420.2 1859.9,478.6 1860.4,448.9 1860.8,357.5 1861.3,439.3 1861.7,471.6 1862.2,456.2 1862.6,463.3 1863.1,444.2 1863.5,466.3 1864,433.8 1864.4,454.7 1864.9,441.5 1865.3,459.3 1865.8,459.1 1866.2,469.1 1866.7,515.8 1867.1,430 1867.6,467.3 1868,472.3 1868.5,412.8 1868.9,474.8 1869.4,458.3 1869.8,458.2 1870.3,430.6 1870.7,452.4 1871.2,475.3 1871.6,479.2 1872.1,509.6 1872.5,470.2 1873,481.1 1873.4,464 1873.9,465.4 1874.4,459.5 1874.8,460.8 1875.3,453.2 1875.7,448.6 1876.2,462.4 1876.6,468.6 1877.1,456 1877.5,456.2 1878,461.6 1878.4,460.4 1878.9,436.8 1879.3,441.4 1879.8,483.5 1880.2,466.4 1880.7,447.9 1881.1,449 1881.6,448 1882,436.5 1882.5,412.3 1882.9,459 1883.4,470 1883.8,456.4 1884.3,422.3 1884.7,440 1885.2,471.4 1885.6,440.4 1886.1,449.2 1886.5,555 1887,444.5 1887.4,445.4 1887.9,463.8 1888.3,457.3 1888.8,495 1889.2,407.1 1889.7,498.5 1890.1,489.1 1890.6,428 1891,438 1891.5,448.9 1891.9,453.9 1892.4,423.9 1892.8,531.4 1893.3,487.4 1893.7,471.6 1894.2,456.2 1894.6,430.1 1895.1,456.9 1895.5,475.5 1896,483.1 1896.4,489.1 1896.9,463.8 1897.3,453.2 1897.8,440.1 1898.2,458.3 1898.7,475.1 1899.1,463.8 1899.6,398.4 1900,474 1900.5,456.7 1901,465.1 1901.4,436.5 1901.9,451.1 1902.3,474.7 1902.8,447.4 1903.2,499.7 1903.7,435.3 1904.1,418.7 1904.6,429.1 1905,494.9 1905.5,465.6 1905.9,390.5 1906.4,442.8 1906.8,451.6 1907.3,410 1907.7,444.5 1908.2,408 1908.6,480.2 1909.1,477.3 1909.5,477.4 1910,399.2 1910.4,430.5 1910.9,508.4 1911.3,393 1911.8,415.3 1912.2,434.2 1912.7,494.1 1913.1,446.9 1913.6,426 1914,441.3 1914.5,409.6 1914.9,468.6 1915.4,457.8 1915.8,443.3 1916.3,520.8 1916.7,430.6 1917.2,389.3 1917.6,468.7 1918.1,455.8 1918.5,443.9 1919,468.3 1919.4,464 1919.9,460.1 1920.3,452.4 1920.8,471.5 1921.2,442.8 1921.7,468.7 1922.1,494.7 1922.6,470.7 1923,369.4 1923.5,467.2 1923.9,434.4 1924.4,442.6 1924.8,474.6 1925.3,484.3 1925.7,494.8 1926.2,494.1 1926.7,450 1927.1,463.8 1927.6,439.5 1928,440.2 1928.5,455 1928.9,447.2 1929.4,430.2 1929.8,468.5 1930.3,441.3 1930.7,451.3 1931.2,485.2 1931.6,463.3 1932.1,470.7 1932.5,454.6 1933,530.7 1933.4,488.8 1933.9,458.4 1934.3,460.5 1934.8,459.6 1935.2,455.3 1935.7,464.8 1936.1,481.4 1936.6,461.2 1937,437.1 1937.5,440.2 1937.9,438.7 1938.4,435.4 1938.8,440.6 1939.3,508.9 1939.7,466.1 1940.2,398.4 1940.6,460.7 1941.1,445.4 1941.5,464.3 1942,452.9 1942.4,483.3 1942.9,419 1943.3,471.1 1943.8,460 1944.2,439.1 1944.7,426.1 1945.1,481.2 1945.6,460 1946,461.5 1946.5,459.9 1946.9,467.6 1947.4,484.8 1947.8,480.1 1948.3,461.5 1948.7,476.5 1949.2,488.5 1949.6,463.3 1950.1,461.6 1950.5,470.6 1951,479.9 1951.4,447.1 1951.9,448.2 1952.3,435 1952.8,457.9 1953.3,454.4 1953.7,476 1954.2,412.1 1954.6,467 1955.1,452.6 1955.5,433.7 1956,447.7 1956.4,450.7 1956.9,425.2 1957.3,487.3 1957.8,465.9 1958.2,460.2 1958.7,461.4 1959.1,472.2 1959.6,453.9 1960,478.4 1960.5,481.4 1960.9,435.2" stroke="#E8474B" stroke-width="3.4" stroke-linejoin="round" shape-rendering="crispEdges"/>
<rect x="215" y="317" width="1746" height="3" fill="#6BBE6B"/>
<rect x="215" y="604" width="1746" height="3" fill="#6BBE6B"/>
<rect x="215" y="125" width="1746" height="4" fill="#FF9933"/>
<rect x="215" y="795" width="1746" height="4" fill="#FF9933"/>
</g>
<g class="t">
<text transform="translate(198.75,1305.40) scale(0.955,1)" font-size="55.4" letter-spacing="0.98">0</text>
<text transform="translate(406.53,1305.40) scale(0.955,1)" font-size="55.4" letter-spacing="0.98">50</text>
<text transform="translate(614.31,1305.40) scale(0.955,1)" font-size="55.4" letter-spacing="0.98">100</text>
<text transform="translate(839.74,1305.40) scale(0.955,1)" font-size="55.4" letter-spacing="0.98">150</text>
<text transform="translate(1065.16,1305.40) scale(0.955,1)" font-size="55.4" letter-spacing="0.98">200</text>
<text transform="translate(1290.59,1305.40) scale(0.955,1)" font-size="55.4" letter-spacing="0.98">250</text>
<text transform="translate(1516.02,1305.40) scale(0.955,1)" font-size="55.4" letter-spacing="0.98">300</text>
<text transform="translate(1741.45,1305.40) scale(0.955,1)" font-size="55.4" letter-spacing="0.98">350</text>
<text transform="translate(89.90,1248.80) scale(0.955,1)" font-size="55.4" letter-spacing="0.98">-0.3</text>
<text transform="translate(89.90,1078.37) scale(0.955,1)" font-size="55.4" letter-spacing="0.98">-0.2</text>
<text transform="translate(89.90,907.94) scale(0.955,1)" font-size="55.4" letter-spacing="0.98">-0.1</text>
<text transform="translate(158.40,737.51) scale(0.955,1)" font-size="55.4" letter-spacing="0.98">0</text>
<text transform="translate(106.60,567.09) scale(0.955,1)" font-size="55.4" letter-spacing="0.98">0.1</text>
<text transform="translate(106.60,396.66) scale(0.955,1)" font-size="55.4" letter-spacing="0.98">0.2</text>
<text transform="translate(106.60,226.23) scale(0.955,1)" font-size="55.4" letter-spacing="0.98">0.3</text>
<text transform="translate(106.60,55.80) scale(0.955,1)" font-size="55.4" letter-spacing="0.98">0.4</text>
<text transform="translate(980.80,1383.60) scale(0.955,1)" font-size="60.6" letter-spacing="0.98" word-spacing="-2.4">Time [s]</text>
<text transform="translate(59.50,779.50) rotate(-90) scale(0.955,1)" font-size="60.6" letter-spacing="0.98" word-spacing="-2.4">Vel. [m/s]</text>
</g>
<rect x="1418" y="910" width="413" height="277" fill="#fff" stroke="#262626" stroke-width="4" shape-rendering="crispEdges"/>
<g shape-rendering="crispEdges" stroke-linejoin="round"><path d="M1512,948h3v3h-3z" fill="#4E83AF" stroke="#4E83AF" stroke-width="8"/><path d="M1512,948h3v3h-3z" fill="#5889B2" stroke="#5889B2" stroke-width="6"/></g>
<rect x="1433" y="1014" width="162" height="3" fill="#E8474B"/>
<rect x="1433" y="1079" width="162" height="4" fill="#6BBE6B"/>
<rect x="1433" y="1145" width="162" height="4" fill="#FF9933"/>
<g class="lg" font-size="55">
<text y="963.2"><tspan x="1606.60" textLength="88.56" lengthAdjust="spacingAndGlyphs">Vel.</tspan> <tspan x="1719.40" textLength="83.44" lengthAdjust="spacingAndGlyphs">raw</tspan></text>
<text y="1029.4"><tspan x="1606.60" textLength="103.85" lengthAdjust="spacingAndGlyphs">Vel.,</tspan> <tspan x="1728.20" textLength="87.02" lengthAdjust="spacingAndGlyphs">cor.</tspan></text>
<text y="1094.9"><tspan x="1606.00" textLength="42.27" lengthAdjust="spacingAndGlyphs" font-size="63.8" stroke-width="0.3">±</tspan><tspan x="1648.50" textLength="26.40" lengthAdjust="spacingAndGlyphs">3</tspan><tspan x="1676.00" textLength="27.13" lengthAdjust="spacingAndGlyphs" font-style="italic">σ</tspan></text>
<text y="1160.1"><tspan x="1606.00" textLength="42.27" lengthAdjust="spacingAndGlyphs" font-size="63.8" stroke-width="0.3">±</tspan><tspan x="1648.50" textLength="26.40" lengthAdjust="spacingAndGlyphs">7</tspan><tspan x="1676.00" textLength="27.13" lengthAdjust="spacingAndGlyphs" font-style="italic">σ</tspan></text>
</g>
</svg>
</body></html>
